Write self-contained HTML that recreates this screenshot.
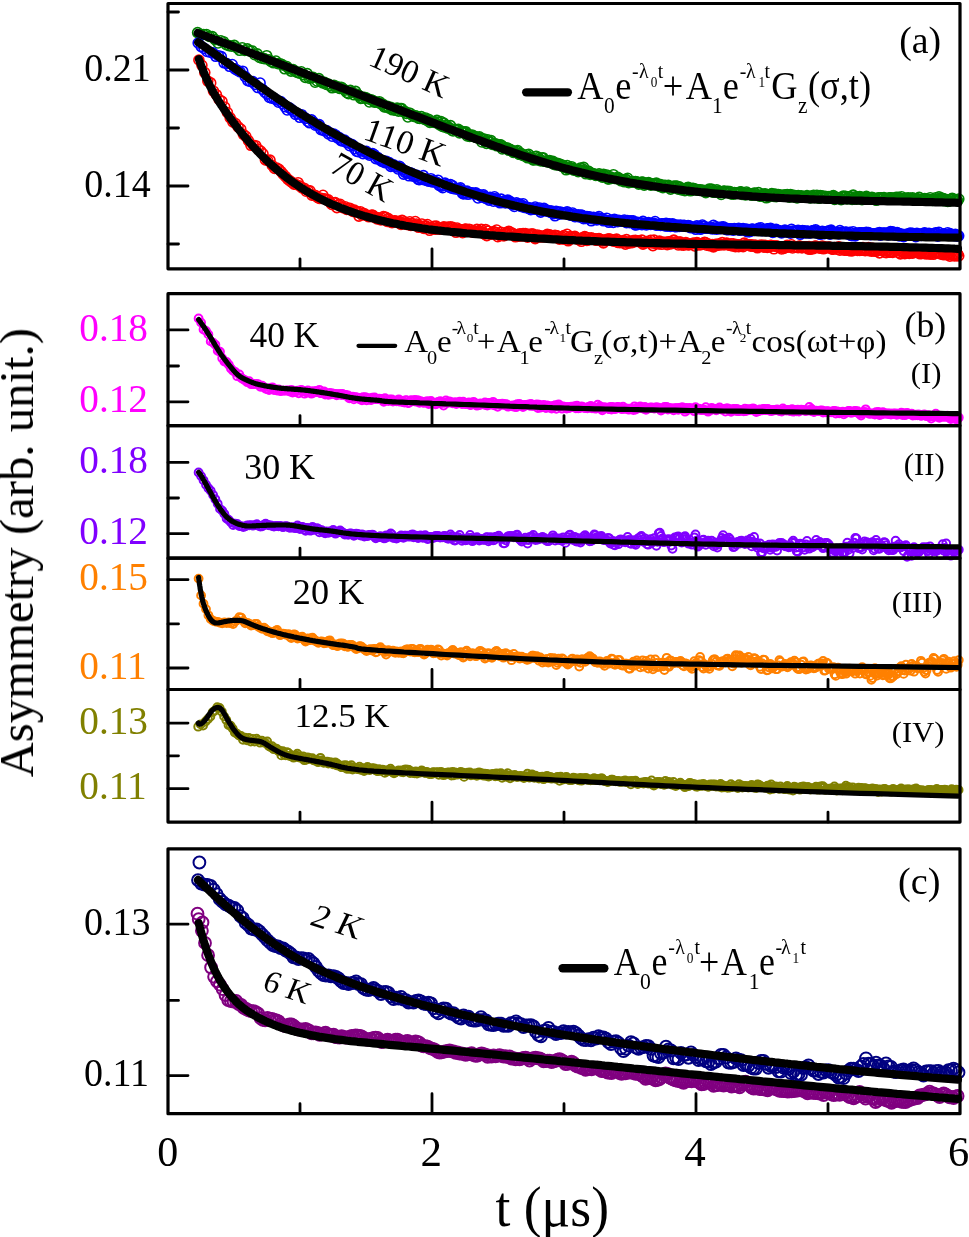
<!DOCTYPE html><html><head><meta charset="utf-8"><style>html,body{margin:0;padding:0;background:#fff;overflow:hidden}svg{display:block}text{font-family:"Liberation Serif",serif}</style></head><body>
<svg width="969" height="1237" viewBox="0 0 969 1237">
<rect width="100%" height="100%" fill="#fff"/>
<g fill="none" stroke="#008000" stroke-width="1.6"><circle cx="197.6" cy="32.6" r="5.0"/><circle cx="200.6" cy="34.3" r="5.0"/><circle cx="203.6" cy="34.5" r="5.0"/><circle cx="206.5" cy="34.5" r="5.0"/><circle cx="209.4" cy="36.4" r="5.0"/><circle cx="212.3" cy="36.6" r="5.0"/><circle cx="215.1" cy="39.6" r="5.0"/><circle cx="218.0" cy="43.0" r="5.0"/><circle cx="220.8" cy="40.8" r="5.0"/><circle cx="223.5" cy="41.7" r="5.0"/><circle cx="226.3" cy="44.7" r="5.0"/><circle cx="229.0" cy="45.6" r="5.0"/><circle cx="231.7" cy="46.2" r="5.0"/><circle cx="234.3" cy="45.4" r="5.0"/><circle cx="237.0" cy="48.0" r="5.0"/><circle cx="239.6" cy="50.3" r="5.0"/><circle cx="242.2" cy="47.8" r="5.0"/><circle cx="244.7" cy="50.4" r="5.0"/><circle cx="247.3" cy="48.9" r="5.0"/><circle cx="249.8" cy="50.9" r="5.0"/><circle cx="252.3" cy="51.0" r="5.0"/><circle cx="254.7" cy="54.7" r="5.0"/><circle cx="257.2" cy="53.9" r="5.0"/><circle cx="259.6" cy="57.5" r="5.0"/><circle cx="262.0" cy="58.2" r="5.0"/><circle cx="264.3" cy="58.6" r="5.0"/><circle cx="266.7" cy="55.7" r="5.0"/><circle cx="269.0" cy="59.9" r="5.0"/><circle cx="271.3" cy="61.6" r="5.0"/><circle cx="273.6" cy="62.8" r="5.0"/><circle cx="275.9" cy="61.0" r="5.0"/><circle cx="278.1" cy="63.6" r="5.0"/><circle cx="280.3" cy="63.7" r="5.0"/><circle cx="282.5" cy="64.9" r="5.0"/><circle cx="284.7" cy="68.8" r="5.0"/><circle cx="286.8" cy="66.6" r="5.0"/><circle cx="288.9" cy="68.7" r="5.0"/><circle cx="291.0" cy="71.1" r="5.0"/><circle cx="293.1" cy="69.6" r="5.0"/><circle cx="295.2" cy="71.2" r="5.0"/><circle cx="297.2" cy="72.3" r="5.0"/><circle cx="299.3" cy="73.1" r="5.0"/><circle cx="301.3" cy="71.8" r="5.0"/><circle cx="303.3" cy="74.6" r="5.0"/><circle cx="305.3" cy="77.4" r="5.0"/><circle cx="307.2" cy="73.6" r="5.0"/><circle cx="309.2" cy="78.2" r="5.0"/><circle cx="311.2" cy="77.7" r="5.0"/><circle cx="313.1" cy="77.3" r="5.0"/><circle cx="315.1" cy="82.2" r="5.0"/><circle cx="317.0" cy="81.0" r="5.0"/><circle cx="318.9" cy="78.6" r="5.0"/><circle cx="320.8" cy="81.3" r="5.0"/><circle cx="322.7" cy="82.9" r="5.0"/><circle cx="324.6" cy="82.4" r="5.0"/><circle cx="326.5" cy="84.5" r="5.0"/><circle cx="328.4" cy="84.0" r="5.0"/><circle cx="330.3" cy="85.9" r="5.0"/><circle cx="332.1" cy="87.8" r="5.0"/><circle cx="334.0" cy="85.2" r="5.0"/><circle cx="335.8" cy="87.3" r="5.0"/><circle cx="337.7" cy="86.9" r="5.0"/><circle cx="339.5" cy="88.5" r="5.0"/><circle cx="341.3" cy="87.2" r="5.0"/><circle cx="343.1" cy="88.8" r="5.0"/><circle cx="344.9" cy="90.1" r="5.0"/><circle cx="346.7" cy="92.5" r="5.0"/><circle cx="348.5" cy="93.6" r="5.0"/><circle cx="350.3" cy="90.4" r="5.0"/><circle cx="352.1" cy="91.9" r="5.0"/><circle cx="353.9" cy="94.8" r="5.0"/><circle cx="355.6" cy="91.4" r="5.0"/><circle cx="357.4" cy="94.4" r="5.0"/><circle cx="359.1" cy="95.6" r="5.0"/><circle cx="360.8" cy="98.4" r="5.0"/><circle cx="362.6" cy="98.2" r="5.0"/><circle cx="364.3" cy="97.2" r="5.0"/><circle cx="366.0" cy="97.8" r="5.0"/><circle cx="367.7" cy="98.7" r="5.0"/><circle cx="369.4" cy="102.0" r="5.0"/><circle cx="371.1" cy="99.7" r="5.0"/><circle cx="372.8" cy="100.5" r="5.0"/><circle cx="374.4" cy="102.1" r="5.0"/><circle cx="376.1" cy="102.0" r="5.0"/><circle cx="377.8" cy="102.5" r="5.0"/><circle cx="379.4" cy="101.7" r="5.0"/><circle cx="381.0" cy="104.0" r="5.0"/><circle cx="382.7" cy="104.0" r="5.0"/><circle cx="384.3" cy="107.0" r="5.0"/><circle cx="385.9" cy="106.9" r="5.0"/><circle cx="387.5" cy="106.4" r="5.0"/><circle cx="389.2" cy="108.1" r="5.0"/><circle cx="390.8" cy="107.2" r="5.0"/><circle cx="392.3" cy="109.8" r="5.0"/><circle cx="393.9" cy="108.8" r="5.0"/><circle cx="395.5" cy="110.3" r="5.0"/><circle cx="397.1" cy="108.1" r="5.0"/><circle cx="398.6" cy="111.1" r="5.0"/><circle cx="400.2" cy="108.6" r="5.0"/><circle cx="401.7" cy="108.6" r="5.0"/><circle cx="403.3" cy="111.7" r="5.0"/><circle cx="404.8" cy="111.4" r="5.0"/><circle cx="406.3" cy="113.4" r="5.0"/><circle cx="407.9" cy="117.0" r="5.0"/><circle cx="409.4" cy="113.0" r="5.0"/><circle cx="410.9" cy="113.8" r="5.0"/><circle cx="412.4" cy="115.5" r="5.0"/><circle cx="413.9" cy="116.4" r="5.0"/><circle cx="415.4" cy="115.9" r="5.0"/><circle cx="416.9" cy="116.4" r="5.0"/><circle cx="418.3" cy="118.2" r="5.0"/><circle cx="419.8" cy="118.4" r="5.0"/><circle cx="421.3" cy="116.6" r="5.0"/><circle cx="422.7" cy="118.5" r="5.0"/><circle cx="424.2" cy="119.1" r="5.0"/><circle cx="425.6" cy="118.0" r="5.0"/><circle cx="427.0" cy="120.4" r="5.0"/><circle cx="428.5" cy="119.2" r="5.0"/><circle cx="429.9" cy="122.4" r="5.0"/><circle cx="431.3" cy="121.7" r="5.0"/><circle cx="432.7" cy="122.1" r="5.0"/><circle cx="434.1" cy="121.5" r="5.0"/><circle cx="435.5" cy="122.7" r="5.0"/><circle cx="436.9" cy="120.4" r="5.0"/><circle cx="438.3" cy="122.1" r="5.0"/><circle cx="439.7" cy="124.8" r="5.0"/><circle cx="441.0" cy="121.6" r="5.0"/><circle cx="442.4" cy="126.4" r="5.0"/><circle cx="443.8" cy="123.1" r="5.0"/><circle cx="445.1" cy="127.2" r="5.0"/><circle cx="446.5" cy="125.3" r="5.0"/><circle cx="447.8" cy="128.1" r="5.0"/><circle cx="449.1" cy="127.6" r="5.0"/><circle cx="450.5" cy="125.6" r="5.0"/><circle cx="451.8" cy="130.2" r="5.0"/><circle cx="453.1" cy="131.0" r="5.0"/><circle cx="454.4" cy="129.3" r="5.0"/><circle cx="455.7" cy="129.5" r="5.0"/><circle cx="457.0" cy="130.1" r="5.0"/><circle cx="458.3" cy="129.4" r="5.0"/><circle cx="459.6" cy="132.9" r="5.0"/><circle cx="460.9" cy="131.0" r="5.0"/><circle cx="462.2" cy="132.2" r="5.0"/><circle cx="463.4" cy="131.7" r="5.0"/><circle cx="464.7" cy="132.4" r="5.0"/><circle cx="466.0" cy="131.9" r="5.0"/><circle cx="467.2" cy="136.0" r="5.0"/><circle cx="468.5" cy="134.5" r="5.0"/><circle cx="469.7" cy="136.5" r="5.0"/><circle cx="470.9" cy="135.6" r="5.0"/><circle cx="472.2" cy="135.1" r="5.0"/><circle cx="473.4" cy="136.1" r="5.0"/><circle cx="474.6" cy="136.2" r="5.0"/><circle cx="475.8" cy="137.5" r="5.0"/><circle cx="477.0" cy="137.4" r="5.0"/><circle cx="478.2" cy="137.9" r="5.0"/><circle cx="479.4" cy="136.8" r="5.0"/><circle cx="480.6" cy="138.1" r="5.0"/><circle cx="481.8" cy="142.0" r="5.0"/><circle cx="483.0" cy="139.2" r="5.0"/><circle cx="484.2" cy="139.1" r="5.0"/><circle cx="485.3" cy="141.5" r="5.0"/><circle cx="486.5" cy="143.4" r="5.0"/><circle cx="487.7" cy="139.8" r="5.0"/><circle cx="488.8" cy="142.0" r="5.0"/><circle cx="490.0" cy="141.8" r="5.0"/><circle cx="491.1" cy="140.6" r="5.0"/><circle cx="492.3" cy="144.5" r="5.0"/><circle cx="493.4" cy="143.9" r="5.0"/><circle cx="494.5" cy="144.4" r="5.0"/><circle cx="495.6" cy="143.7" r="5.0"/><circle cx="496.8" cy="145.8" r="5.0"/><circle cx="497.9" cy="144.8" r="5.0"/><circle cx="499.0" cy="145.7" r="5.0"/><circle cx="500.1" cy="144.8" r="5.0"/><circle cx="501.2" cy="145.0" r="5.0"/><circle cx="502.3" cy="149.0" r="5.0"/><circle cx="503.4" cy="146.8" r="5.0"/><circle cx="504.5" cy="148.3" r="5.0"/><circle cx="505.6" cy="148.2" r="5.0"/><circle cx="506.7" cy="148.0" r="5.0"/><circle cx="507.8" cy="148.3" r="5.0"/><circle cx="508.9" cy="150.3" r="5.0"/><circle cx="510.0" cy="149.4" r="5.0"/><circle cx="511.1" cy="150.0" r="5.0"/><circle cx="512.2" cy="150.6" r="5.0"/><circle cx="513.3" cy="152.5" r="5.0"/><circle cx="514.4" cy="152.2" r="5.0"/><circle cx="515.5" cy="152.2" r="5.0"/><circle cx="516.6" cy="151.3" r="5.0"/><circle cx="517.7" cy="150.5" r="5.0"/><circle cx="518.8" cy="154.1" r="5.0"/><circle cx="519.9" cy="154.5" r="5.0"/><circle cx="521.0" cy="153.3" r="5.0"/><circle cx="522.1" cy="154.6" r="5.0"/><circle cx="523.2" cy="155.3" r="5.0"/><circle cx="524.3" cy="155.8" r="5.0"/><circle cx="525.4" cy="156.2" r="5.0"/><circle cx="526.5" cy="154.7" r="5.0"/><circle cx="527.6" cy="157.8" r="5.0"/><circle cx="528.7" cy="154.4" r="5.0"/><circle cx="529.8" cy="157.6" r="5.0"/><circle cx="530.9" cy="157.4" r="5.0"/><circle cx="532.0" cy="158.3" r="5.0"/><circle cx="533.1" cy="160.0" r="5.0"/><circle cx="534.2" cy="159.8" r="5.0"/><circle cx="535.3" cy="156.6" r="5.0"/><circle cx="536.4" cy="156.2" r="5.0"/><circle cx="537.5" cy="160.0" r="5.0"/><circle cx="538.6" cy="157.8" r="5.0"/><circle cx="539.7" cy="159.5" r="5.0"/><circle cx="540.8" cy="161.0" r="5.0"/><circle cx="541.9" cy="158.0" r="5.0"/><circle cx="543.0" cy="157.7" r="5.0"/><circle cx="544.1" cy="161.2" r="5.0"/><circle cx="545.2" cy="161.3" r="5.0"/><circle cx="546.3" cy="161.2" r="5.0"/><circle cx="547.4" cy="161.9" r="5.0"/><circle cx="548.5" cy="161.1" r="5.0"/><circle cx="549.6" cy="160.5" r="5.0"/><circle cx="550.7" cy="162.6" r="5.0"/><circle cx="551.8" cy="161.9" r="5.0"/><circle cx="552.9" cy="161.3" r="5.0"/><circle cx="554.0" cy="164.5" r="5.0"/><circle cx="555.1" cy="164.0" r="5.0"/><circle cx="556.2" cy="165.0" r="5.0"/><circle cx="557.3" cy="163.4" r="5.0"/><circle cx="558.4" cy="164.2" r="5.0"/><circle cx="559.5" cy="164.1" r="5.0"/><circle cx="560.6" cy="164.5" r="5.0"/><circle cx="561.7" cy="166.2" r="5.0"/><circle cx="562.8" cy="165.2" r="5.0"/><circle cx="563.9" cy="167.0" r="5.0"/><circle cx="565.0" cy="167.3" r="5.0"/><circle cx="566.1" cy="169.8" r="5.0"/><circle cx="567.2" cy="165.6" r="5.0"/><circle cx="568.3" cy="168.9" r="5.0"/><circle cx="569.4" cy="167.9" r="5.0"/><circle cx="570.5" cy="168.3" r="5.0"/><circle cx="571.6" cy="166.7" r="5.0"/><circle cx="572.7" cy="168.3" r="5.0"/><circle cx="573.8" cy="170.1" r="5.0"/><circle cx="574.9" cy="169.3" r="5.0"/><circle cx="576.0" cy="169.8" r="5.0"/><circle cx="577.1" cy="169.6" r="5.0"/><circle cx="578.2" cy="171.7" r="5.0"/><circle cx="579.3" cy="170.5" r="5.0"/><circle cx="580.4" cy="168.0" r="5.0"/><circle cx="581.5" cy="170.2" r="5.0"/><circle cx="582.6" cy="168.8" r="5.0"/><circle cx="583.7" cy="167.4" r="5.0"/><circle cx="584.8" cy="171.2" r="5.0"/><circle cx="585.9" cy="173.8" r="5.0"/><circle cx="587.0" cy="172.4" r="5.0"/><circle cx="588.1" cy="171.1" r="5.0"/><circle cx="589.2" cy="171.7" r="5.0"/><circle cx="590.3" cy="174.5" r="5.0"/><circle cx="591.4" cy="173.6" r="5.0"/><circle cx="592.5" cy="173.7" r="5.0"/><circle cx="593.6" cy="173.8" r="5.0"/><circle cx="594.7" cy="174.2" r="5.0"/><circle cx="595.8" cy="175.4" r="5.0"/><circle cx="596.9" cy="175.3" r="5.0"/><circle cx="598.0" cy="175.1" r="5.0"/><circle cx="599.1" cy="173.8" r="5.0"/><circle cx="600.2" cy="175.9" r="5.0"/><circle cx="601.3" cy="174.7" r="5.0"/><circle cx="602.4" cy="177.1" r="5.0"/><circle cx="603.5" cy="174.4" r="5.0"/><circle cx="604.6" cy="176.0" r="5.0"/><circle cx="605.7" cy="176.4" r="5.0"/><circle cx="606.8" cy="175.0" r="5.0"/><circle cx="607.9" cy="179.0" r="5.0"/><circle cx="609.0" cy="178.9" r="5.0"/><circle cx="610.1" cy="176.7" r="5.0"/><circle cx="611.2" cy="178.4" r="5.0"/><circle cx="612.3" cy="178.2" r="5.0"/><circle cx="613.4" cy="174.7" r="5.0"/><circle cx="614.5" cy="178.4" r="5.0"/><circle cx="615.6" cy="178.3" r="5.0"/><circle cx="616.7" cy="178.6" r="5.0"/><circle cx="617.8" cy="177.4" r="5.0"/><circle cx="618.9" cy="178.6" r="5.0"/><circle cx="620.0" cy="178.9" r="5.0"/><circle cx="621.1" cy="180.8" r="5.0"/><circle cx="622.2" cy="179.9" r="5.0"/><circle cx="623.3" cy="179.7" r="5.0"/><circle cx="624.4" cy="181.8" r="5.0"/><circle cx="625.5" cy="179.4" r="5.0"/><circle cx="626.6" cy="179.8" r="5.0"/><circle cx="627.7" cy="178.3" r="5.0"/><circle cx="628.8" cy="182.6" r="5.0"/><circle cx="629.9" cy="182.0" r="5.0"/><circle cx="631.0" cy="182.2" r="5.0"/><circle cx="632.1" cy="182.0" r="5.0"/><circle cx="633.2" cy="181.6" r="5.0"/><circle cx="634.3" cy="181.9" r="5.0"/><circle cx="635.4" cy="181.5" r="5.0"/><circle cx="636.5" cy="181.7" r="5.0"/><circle cx="637.6" cy="182.2" r="5.0"/><circle cx="638.7" cy="184.1" r="5.0"/><circle cx="639.8" cy="183.1" r="5.0"/><circle cx="640.9" cy="182.6" r="5.0"/><circle cx="642.0" cy="182.1" r="5.0"/><circle cx="643.1" cy="182.2" r="5.0"/><circle cx="644.2" cy="185.1" r="5.0"/><circle cx="645.3" cy="183.9" r="5.0"/><circle cx="646.4" cy="183.6" r="5.0"/><circle cx="647.5" cy="183.3" r="5.0"/><circle cx="648.6" cy="182.5" r="5.0"/><circle cx="649.7" cy="183.9" r="5.0"/><circle cx="650.8" cy="185.2" r="5.0"/><circle cx="651.9" cy="183.8" r="5.0"/><circle cx="653.0" cy="184.2" r="5.0"/><circle cx="654.1" cy="184.4" r="5.0"/><circle cx="655.2" cy="184.9" r="5.0"/><circle cx="656.3" cy="183.1" r="5.0"/><circle cx="657.4" cy="184.8" r="5.0"/><circle cx="658.5" cy="184.2" r="5.0"/><circle cx="659.6" cy="186.4" r="5.0"/><circle cx="660.7" cy="184.6" r="5.0"/><circle cx="661.8" cy="186.3" r="5.0"/><circle cx="662.9" cy="187.6" r="5.0"/><circle cx="664.0" cy="185.6" r="5.0"/><circle cx="665.1" cy="185.4" r="5.0"/><circle cx="666.2" cy="186.5" r="5.0"/><circle cx="667.3" cy="186.4" r="5.0"/><circle cx="668.4" cy="185.4" r="5.0"/><circle cx="669.5" cy="187.2" r="5.0"/><circle cx="670.6" cy="189.1" r="5.0"/><circle cx="671.7" cy="186.7" r="5.0"/><circle cx="672.8" cy="186.9" r="5.0"/><circle cx="673.9" cy="186.0" r="5.0"/><circle cx="675.0" cy="187.7" r="5.0"/><circle cx="676.1" cy="186.1" r="5.0"/><circle cx="677.2" cy="186.4" r="5.0"/><circle cx="678.3" cy="189.2" r="5.0"/><circle cx="679.4" cy="186.9" r="5.0"/><circle cx="680.5" cy="189.2" r="5.0"/><circle cx="681.6" cy="189.9" r="5.0"/><circle cx="682.7" cy="188.6" r="5.0"/><circle cx="683.8" cy="189.0" r="5.0"/><circle cx="684.9" cy="190.7" r="5.0"/><circle cx="686.0" cy="188.4" r="5.0"/><circle cx="687.1" cy="188.1" r="5.0"/><circle cx="688.2" cy="187.4" r="5.0"/><circle cx="689.3" cy="189.0" r="5.0"/><circle cx="690.4" cy="190.8" r="5.0"/><circle cx="691.5" cy="190.3" r="5.0"/><circle cx="692.6" cy="188.3" r="5.0"/><circle cx="693.7" cy="188.5" r="5.0"/><circle cx="694.8" cy="189.0" r="5.0"/><circle cx="695.9" cy="190.0" r="5.0"/><circle cx="697.0" cy="189.6" r="5.0"/><circle cx="698.1" cy="190.1" r="5.0"/><circle cx="699.2" cy="190.3" r="5.0"/><circle cx="700.3" cy="189.8" r="5.0"/><circle cx="701.4" cy="190.2" r="5.0"/><circle cx="702.5" cy="190.6" r="5.0"/><circle cx="703.6" cy="190.4" r="5.0"/><circle cx="704.7" cy="191.1" r="5.0"/><circle cx="705.8" cy="192.7" r="5.0"/><circle cx="706.9" cy="191.4" r="5.0"/><circle cx="708.0" cy="190.9" r="5.0"/><circle cx="709.1" cy="189.1" r="5.0"/><circle cx="710.2" cy="191.5" r="5.0"/><circle cx="711.3" cy="189.0" r="5.0"/><circle cx="712.4" cy="189.7" r="5.0"/><circle cx="713.5" cy="192.3" r="5.0"/><circle cx="714.6" cy="192.2" r="5.0"/><circle cx="715.7" cy="191.4" r="5.0"/><circle cx="716.8" cy="189.8" r="5.0"/><circle cx="717.9" cy="191.3" r="5.0"/><circle cx="719.0" cy="191.1" r="5.0"/><circle cx="720.1" cy="192.6" r="5.0"/><circle cx="721.2" cy="194.5" r="5.0"/><circle cx="722.3" cy="192.3" r="5.0"/><circle cx="723.4" cy="191.3" r="5.0"/><circle cx="724.5" cy="191.0" r="5.0"/><circle cx="725.6" cy="192.3" r="5.0"/><circle cx="726.7" cy="192.3" r="5.0"/><circle cx="727.8" cy="191.3" r="5.0"/><circle cx="728.9" cy="192.8" r="5.0"/><circle cx="730.0" cy="191.5" r="5.0"/><circle cx="731.1" cy="194.0" r="5.0"/><circle cx="732.2" cy="194.0" r="5.0"/><circle cx="733.3" cy="194.1" r="5.0"/><circle cx="734.4" cy="192.5" r="5.0"/><circle cx="735.5" cy="193.7" r="5.0"/><circle cx="736.6" cy="193.1" r="5.0"/><circle cx="737.7" cy="192.9" r="5.0"/><circle cx="738.8" cy="193.0" r="5.0"/><circle cx="739.9" cy="192.0" r="5.0"/><circle cx="741.0" cy="191.9" r="5.0"/><circle cx="742.1" cy="194.4" r="5.0"/><circle cx="743.2" cy="193.4" r="5.0"/><circle cx="744.3" cy="194.0" r="5.0"/><circle cx="745.4" cy="194.9" r="5.0"/><circle cx="746.5" cy="192.0" r="5.0"/><circle cx="747.6" cy="193.1" r="5.0"/><circle cx="748.7" cy="194.2" r="5.0"/><circle cx="749.8" cy="194.5" r="5.0"/><circle cx="750.9" cy="193.7" r="5.0"/><circle cx="752.0" cy="195.3" r="5.0"/><circle cx="753.1" cy="194.5" r="5.0"/><circle cx="754.2" cy="193.0" r="5.0"/><circle cx="755.3" cy="193.4" r="5.0"/><circle cx="756.4" cy="195.3" r="5.0"/><circle cx="757.5" cy="195.0" r="5.0"/><circle cx="758.6" cy="192.6" r="5.0"/><circle cx="759.7" cy="196.1" r="5.0"/><circle cx="760.8" cy="195.4" r="5.0"/><circle cx="761.9" cy="196.2" r="5.0"/><circle cx="763.0" cy="194.4" r="5.0"/><circle cx="764.1" cy="194.6" r="5.0"/><circle cx="765.2" cy="193.8" r="5.0"/><circle cx="766.3" cy="197.8" r="5.0"/><circle cx="767.4" cy="194.9" r="5.0"/><circle cx="768.5" cy="196.9" r="5.0"/><circle cx="769.6" cy="194.5" r="5.0"/><circle cx="770.7" cy="195.4" r="5.0"/><circle cx="771.8" cy="193.5" r="5.0"/><circle cx="772.9" cy="195.0" r="5.0"/><circle cx="774.0" cy="196.5" r="5.0"/><circle cx="775.1" cy="194.1" r="5.0"/><circle cx="776.2" cy="196.7" r="5.0"/><circle cx="777.3" cy="195.9" r="5.0"/><circle cx="778.4" cy="194.5" r="5.0"/><circle cx="779.5" cy="195.1" r="5.0"/><circle cx="780.6" cy="195.2" r="5.0"/><circle cx="781.7" cy="195.7" r="5.0"/><circle cx="782.8" cy="195.3" r="5.0"/><circle cx="783.9" cy="195.0" r="5.0"/><circle cx="785.0" cy="195.6" r="5.0"/><circle cx="786.1" cy="194.9" r="5.0"/><circle cx="787.2" cy="194.6" r="5.0"/><circle cx="788.3" cy="196.0" r="5.0"/><circle cx="789.4" cy="197.1" r="5.0"/><circle cx="790.5" cy="194.5" r="5.0"/><circle cx="791.6" cy="196.2" r="5.0"/><circle cx="792.7" cy="195.6" r="5.0"/><circle cx="793.8" cy="195.3" r="5.0"/><circle cx="794.9" cy="197.2" r="5.0"/><circle cx="796.0" cy="195.8" r="5.0"/><circle cx="797.1" cy="198.0" r="5.0"/><circle cx="798.2" cy="195.6" r="5.0"/><circle cx="799.3" cy="196.9" r="5.0"/><circle cx="800.4" cy="196.3" r="5.0"/><circle cx="801.5" cy="195.8" r="5.0"/><circle cx="802.6" cy="197.2" r="5.0"/><circle cx="803.7" cy="196.5" r="5.0"/><circle cx="804.8" cy="197.3" r="5.0"/><circle cx="805.9" cy="196.7" r="5.0"/><circle cx="807.0" cy="195.6" r="5.0"/><circle cx="808.1" cy="196.7" r="5.0"/><circle cx="809.2" cy="196.9" r="5.0"/><circle cx="810.3" cy="197.9" r="5.0"/><circle cx="811.4" cy="196.0" r="5.0"/><circle cx="812.5" cy="196.9" r="5.0"/><circle cx="813.6" cy="195.2" r="5.0"/><circle cx="814.7" cy="197.7" r="5.0"/><circle cx="815.8" cy="195.9" r="5.0"/><circle cx="816.9" cy="195.2" r="5.0"/><circle cx="818.0" cy="197.1" r="5.0"/><circle cx="819.1" cy="198.3" r="5.0"/><circle cx="820.2" cy="195.6" r="5.0"/><circle cx="821.3" cy="196.1" r="5.0"/><circle cx="822.4" cy="196.5" r="5.0"/><circle cx="823.5" cy="196.1" r="5.0"/><circle cx="824.6" cy="197.7" r="5.0"/><circle cx="825.7" cy="196.5" r="5.0"/><circle cx="826.8" cy="196.6" r="5.0"/><circle cx="827.9" cy="198.0" r="5.0"/><circle cx="829.0" cy="196.6" r="5.0"/><circle cx="830.1" cy="197.9" r="5.0"/><circle cx="831.2" cy="196.5" r="5.0"/><circle cx="832.3" cy="196.2" r="5.0"/><circle cx="833.4" cy="195.6" r="5.0"/><circle cx="834.5" cy="199.5" r="5.0"/><circle cx="835.6" cy="197.3" r="5.0"/><circle cx="836.7" cy="197.9" r="5.0"/><circle cx="837.8" cy="197.6" r="5.0"/><circle cx="838.9" cy="197.8" r="5.0"/><circle cx="840.0" cy="197.8" r="5.0"/><circle cx="841.1" cy="199.7" r="5.0"/><circle cx="842.2" cy="196.7" r="5.0"/><circle cx="843.3" cy="196.1" r="5.0"/><circle cx="844.4" cy="196.7" r="5.0"/><circle cx="845.5" cy="196.4" r="5.0"/><circle cx="846.6" cy="198.6" r="5.0"/><circle cx="847.7" cy="198.7" r="5.0"/><circle cx="848.8" cy="196.9" r="5.0"/><circle cx="849.9" cy="196.5" r="5.0"/><circle cx="851.0" cy="197.6" r="5.0"/><circle cx="852.1" cy="199.4" r="5.0"/><circle cx="853.2" cy="195.1" r="5.0"/><circle cx="854.3" cy="198.6" r="5.0"/><circle cx="855.4" cy="196.9" r="5.0"/><circle cx="856.5" cy="199.1" r="5.0"/><circle cx="857.6" cy="197.0" r="5.0"/><circle cx="858.7" cy="197.8" r="5.0"/><circle cx="859.8" cy="196.6" r="5.0"/><circle cx="860.9" cy="197.1" r="5.0"/><circle cx="862.0" cy="199.6" r="5.0"/><circle cx="863.1" cy="199.0" r="5.0"/><circle cx="864.2" cy="197.8" r="5.0"/><circle cx="865.3" cy="197.3" r="5.0"/><circle cx="866.4" cy="196.3" r="5.0"/><circle cx="867.5" cy="197.8" r="5.0"/><circle cx="868.6" cy="198.2" r="5.0"/><circle cx="869.7" cy="198.2" r="5.0"/><circle cx="870.8" cy="198.2" r="5.0"/><circle cx="871.9" cy="197.2" r="5.0"/><circle cx="873.0" cy="198.3" r="5.0"/><circle cx="874.1" cy="198.3" r="5.0"/><circle cx="875.2" cy="199.7" r="5.0"/><circle cx="876.3" cy="200.3" r="5.0"/><circle cx="877.4" cy="198.3" r="5.0"/><circle cx="878.5" cy="197.7" r="5.0"/><circle cx="879.6" cy="198.4" r="5.0"/><circle cx="880.7" cy="197.9" r="5.0"/><circle cx="881.8" cy="197.7" r="5.0"/><circle cx="882.9" cy="198.5" r="5.0"/><circle cx="884.0" cy="197.5" r="5.0"/><circle cx="885.1" cy="199.2" r="5.0"/><circle cx="886.2" cy="198.5" r="5.0"/><circle cx="887.3" cy="198.8" r="5.0"/><circle cx="888.4" cy="198.4" r="5.0"/><circle cx="889.5" cy="197.9" r="5.0"/><circle cx="890.6" cy="197.7" r="5.0"/><circle cx="891.7" cy="198.4" r="5.0"/><circle cx="892.8" cy="198.1" r="5.0"/><circle cx="893.9" cy="198.9" r="5.0"/><circle cx="895.0" cy="198.7" r="5.0"/><circle cx="896.1" cy="197.3" r="5.0"/><circle cx="897.2" cy="198.8" r="5.0"/><circle cx="898.3" cy="197.4" r="5.0"/><circle cx="899.4" cy="198.1" r="5.0"/><circle cx="900.5" cy="198.5" r="5.0"/><circle cx="901.6" cy="196.7" r="5.0"/><circle cx="902.7" cy="198.9" r="5.0"/><circle cx="903.8" cy="199.0" r="5.0"/><circle cx="904.9" cy="198.7" r="5.0"/><circle cx="906.0" cy="198.4" r="5.0"/><circle cx="907.1" cy="198.5" r="5.0"/><circle cx="908.2" cy="197.9" r="5.0"/><circle cx="909.3" cy="198.7" r="5.0"/><circle cx="910.4" cy="198.4" r="5.0"/><circle cx="911.5" cy="199.1" r="5.0"/><circle cx="912.6" cy="197.8" r="5.0"/><circle cx="913.7" cy="199.2" r="5.0"/><circle cx="914.8" cy="199.2" r="5.0"/><circle cx="915.9" cy="198.9" r="5.0"/><circle cx="917.0" cy="198.6" r="5.0"/><circle cx="918.1" cy="199.6" r="5.0"/><circle cx="919.2" cy="197.4" r="5.0"/><circle cx="920.3" cy="199.6" r="5.0"/><circle cx="921.4" cy="199.4" r="5.0"/><circle cx="922.5" cy="199.4" r="5.0"/><circle cx="923.6" cy="199.5" r="5.0"/><circle cx="924.7" cy="198.5" r="5.0"/><circle cx="925.8" cy="198.9" r="5.0"/><circle cx="926.9" cy="199.9" r="5.0"/><circle cx="928.0" cy="199.7" r="5.0"/><circle cx="929.1" cy="199.5" r="5.0"/><circle cx="930.2" cy="197.7" r="5.0"/><circle cx="931.3" cy="199.8" r="5.0"/><circle cx="932.4" cy="200.5" r="5.0"/><circle cx="933.5" cy="200.3" r="5.0"/><circle cx="934.6" cy="199.6" r="5.0"/><circle cx="935.7" cy="197.8" r="5.0"/><circle cx="936.8" cy="200.3" r="5.0"/><circle cx="937.9" cy="199.3" r="5.0"/><circle cx="939.0" cy="196.9" r="5.0"/><circle cx="940.1" cy="199.8" r="5.0"/><circle cx="941.2" cy="198.0" r="5.0"/><circle cx="942.3" cy="198.2" r="5.0"/><circle cx="943.4" cy="198.9" r="5.0"/><circle cx="944.5" cy="200.8" r="5.0"/><circle cx="945.6" cy="199.2" r="5.0"/><circle cx="946.7" cy="199.8" r="5.0"/><circle cx="947.8" cy="201.4" r="5.0"/><circle cx="948.9" cy="201.2" r="5.0"/><circle cx="950.0" cy="199.5" r="5.0"/><circle cx="951.1" cy="199.4" r="5.0"/><circle cx="952.2" cy="198.4" r="5.0"/><circle cx="953.3" cy="199.0" r="5.0"/><circle cx="954.4" cy="200.2" r="5.0"/><circle cx="955.5" cy="200.2" r="5.0"/><circle cx="956.6" cy="199.9" r="5.0"/><circle cx="957.7" cy="200.8" r="5.0"/><circle cx="958.8" cy="199.0" r="5.0"/></g><g fill="none" stroke="#0000FF" stroke-width="1.6"><circle cx="198.2" cy="43.0" r="5.0"/><circle cx="201.2" cy="46.6" r="5.0"/><circle cx="204.1" cy="48.4" r="5.0"/><circle cx="207.1" cy="51.5" r="5.0"/><circle cx="210.0" cy="52.2" r="5.0"/><circle cx="212.9" cy="52.9" r="5.0"/><circle cx="215.7" cy="56.3" r="5.0"/><circle cx="218.5" cy="55.7" r="5.0"/><circle cx="221.3" cy="56.6" r="5.0"/><circle cx="224.1" cy="62.8" r="5.0"/><circle cx="226.8" cy="63.6" r="5.0"/><circle cx="229.5" cy="66.3" r="5.0"/><circle cx="232.2" cy="64.5" r="5.0"/><circle cx="234.9" cy="68.9" r="5.0"/><circle cx="237.5" cy="70.4" r="5.0"/><circle cx="240.1" cy="71.8" r="5.0"/><circle cx="242.7" cy="71.2" r="5.0"/><circle cx="245.2" cy="76.6" r="5.0"/><circle cx="247.8" cy="80.6" r="5.0"/><circle cx="250.3" cy="81.5" r="5.0"/><circle cx="252.8" cy="81.6" r="5.0"/><circle cx="255.2" cy="84.4" r="5.0"/><circle cx="257.7" cy="87.5" r="5.0"/><circle cx="260.1" cy="83.0" r="5.0"/><circle cx="262.5" cy="89.4" r="5.0"/><circle cx="264.8" cy="92.2" r="5.0"/><circle cx="267.2" cy="94.1" r="5.0"/><circle cx="269.5" cy="97.5" r="5.0"/><circle cx="271.8" cy="98.1" r="5.0"/><circle cx="274.1" cy="98.3" r="5.0"/><circle cx="276.3" cy="99.8" r="5.0"/><circle cx="278.5" cy="102.2" r="5.0"/><circle cx="280.7" cy="101.5" r="5.0"/><circle cx="282.9" cy="103.8" r="5.0"/><circle cx="285.1" cy="106.8" r="5.0"/><circle cx="287.2" cy="110.0" r="5.0"/><circle cx="289.4" cy="107.9" r="5.0"/><circle cx="291.5" cy="109.5" r="5.0"/><circle cx="293.5" cy="111.3" r="5.0"/><circle cx="295.6" cy="114.5" r="5.0"/><circle cx="297.7" cy="113.6" r="5.0"/><circle cx="299.7" cy="117.3" r="5.0"/><circle cx="301.7" cy="114.7" r="5.0"/><circle cx="303.7" cy="117.2" r="5.0"/><circle cx="305.6" cy="118.4" r="5.0"/><circle cx="307.6" cy="121.2" r="5.0"/><circle cx="309.6" cy="122.8" r="5.0"/><circle cx="311.5" cy="119.9" r="5.0"/><circle cx="313.4" cy="122.1" r="5.0"/><circle cx="315.4" cy="125.2" r="5.0"/><circle cx="317.3" cy="124.8" r="5.0"/><circle cx="319.2" cy="124.6" r="5.0"/><circle cx="321.0" cy="129.7" r="5.0"/><circle cx="322.9" cy="129.9" r="5.0"/><circle cx="324.8" cy="131.0" r="5.0"/><circle cx="326.6" cy="130.6" r="5.0"/><circle cx="328.5" cy="134.0" r="5.0"/><circle cx="330.3" cy="133.1" r="5.0"/><circle cx="332.1" cy="136.2" r="5.0"/><circle cx="333.9" cy="134.1" r="5.0"/><circle cx="335.7" cy="135.2" r="5.0"/><circle cx="337.5" cy="137.9" r="5.0"/><circle cx="339.3" cy="137.5" r="5.0"/><circle cx="341.1" cy="140.6" r="5.0"/><circle cx="342.8" cy="140.9" r="5.0"/><circle cx="344.5" cy="140.0" r="5.0"/><circle cx="346.3" cy="142.5" r="5.0"/><circle cx="348.0" cy="142.8" r="5.0"/><circle cx="349.7" cy="145.7" r="5.0"/><circle cx="351.4" cy="144.2" r="5.0"/><circle cx="353.1" cy="145.4" r="5.0"/><circle cx="354.8" cy="148.8" r="5.0"/><circle cx="356.5" cy="151.2" r="5.0"/><circle cx="358.1" cy="151.7" r="5.0"/><circle cx="359.8" cy="149.6" r="5.0"/><circle cx="361.4" cy="150.7" r="5.0"/><circle cx="363.0" cy="153.6" r="5.0"/><circle cx="364.7" cy="151.9" r="5.0"/><circle cx="366.3" cy="151.4" r="5.0"/><circle cx="367.9" cy="153.9" r="5.0"/><circle cx="369.5" cy="155.2" r="5.0"/><circle cx="371.1" cy="154.0" r="5.0"/><circle cx="372.6" cy="153.6" r="5.0"/><circle cx="374.2" cy="154.7" r="5.0"/><circle cx="375.8" cy="158.6" r="5.0"/><circle cx="377.3" cy="157.2" r="5.0"/><circle cx="378.8" cy="158.9" r="5.0"/><circle cx="380.4" cy="160.1" r="5.0"/><circle cx="381.9" cy="161.5" r="5.0"/><circle cx="383.4" cy="160.7" r="5.0"/><circle cx="384.9" cy="162.7" r="5.0"/><circle cx="386.4" cy="161.3" r="5.0"/><circle cx="387.9" cy="162.8" r="5.0"/><circle cx="389.3" cy="162.5" r="5.0"/><circle cx="390.8" cy="166.4" r="5.0"/><circle cx="392.3" cy="165.3" r="5.0"/><circle cx="393.7" cy="164.9" r="5.0"/><circle cx="395.1" cy="166.2" r="5.0"/><circle cx="396.6" cy="167.0" r="5.0"/><circle cx="398.0" cy="169.0" r="5.0"/><circle cx="399.4" cy="166.2" r="5.0"/><circle cx="400.8" cy="167.7" r="5.0"/><circle cx="402.2" cy="169.3" r="5.0"/><circle cx="403.6" cy="174.1" r="5.0"/><circle cx="405.0" cy="172.4" r="5.0"/><circle cx="406.3" cy="171.4" r="5.0"/><circle cx="407.7" cy="173.2" r="5.0"/><circle cx="409.0" cy="175.8" r="5.0"/><circle cx="410.4" cy="173.0" r="5.0"/><circle cx="411.7" cy="173.4" r="5.0"/><circle cx="413.1" cy="176.2" r="5.0"/><circle cx="414.4" cy="175.7" r="5.0"/><circle cx="415.7" cy="176.5" r="5.0"/><circle cx="417.0" cy="175.4" r="5.0"/><circle cx="418.3" cy="179.4" r="5.0"/><circle cx="419.6" cy="179.6" r="5.0"/><circle cx="420.9" cy="178.4" r="5.0"/><circle cx="422.1" cy="179.1" r="5.0"/><circle cx="423.4" cy="175.6" r="5.0"/><circle cx="424.7" cy="179.9" r="5.0"/><circle cx="425.9" cy="179.1" r="5.0"/><circle cx="427.2" cy="180.4" r="5.0"/><circle cx="428.4" cy="181.2" r="5.0"/><circle cx="429.6" cy="180.2" r="5.0"/><circle cx="430.9" cy="178.7" r="5.0"/><circle cx="432.1" cy="182.0" r="5.0"/><circle cx="433.3" cy="180.8" r="5.0"/><circle cx="434.5" cy="181.8" r="5.0"/><circle cx="435.7" cy="181.8" r="5.0"/><circle cx="436.9" cy="182.6" r="5.0"/><circle cx="438.0" cy="180.2" r="5.0"/><circle cx="439.2" cy="185.5" r="5.0"/><circle cx="440.4" cy="184.5" r="5.0"/><circle cx="441.5" cy="186.1" r="5.0"/><circle cx="442.7" cy="187.7" r="5.0"/><circle cx="443.8" cy="185.3" r="5.0"/><circle cx="445.0" cy="183.1" r="5.0"/><circle cx="446.1" cy="184.7" r="5.0"/><circle cx="447.2" cy="184.6" r="5.0"/><circle cx="448.3" cy="186.0" r="5.0"/><circle cx="449.4" cy="187.1" r="5.0"/><circle cx="450.5" cy="184.5" r="5.0"/><circle cx="451.6" cy="188.1" r="5.0"/><circle cx="452.7" cy="185.9" r="5.0"/><circle cx="453.8" cy="188.7" r="5.0"/><circle cx="454.9" cy="188.5" r="5.0"/><circle cx="456.0" cy="188.5" r="5.0"/><circle cx="457.1" cy="189.2" r="5.0"/><circle cx="458.2" cy="188.8" r="5.0"/><circle cx="459.3" cy="189.1" r="5.0"/><circle cx="460.4" cy="187.9" r="5.0"/><circle cx="461.5" cy="190.5" r="5.0"/><circle cx="462.6" cy="193.4" r="5.0"/><circle cx="463.7" cy="193.9" r="5.0"/><circle cx="464.8" cy="193.3" r="5.0"/><circle cx="465.9" cy="192.7" r="5.0"/><circle cx="467.0" cy="191.1" r="5.0"/><circle cx="468.1" cy="194.3" r="5.0"/><circle cx="469.2" cy="192.6" r="5.0"/><circle cx="470.3" cy="192.8" r="5.0"/><circle cx="471.4" cy="192.8" r="5.0"/><circle cx="472.5" cy="193.6" r="5.0"/><circle cx="473.6" cy="193.2" r="5.0"/><circle cx="474.7" cy="194.0" r="5.0"/><circle cx="475.8" cy="192.9" r="5.0"/><circle cx="476.9" cy="194.1" r="5.0"/><circle cx="478.0" cy="198.0" r="5.0"/><circle cx="479.1" cy="195.1" r="5.0"/><circle cx="480.2" cy="195.1" r="5.0"/><circle cx="481.3" cy="196.5" r="5.0"/><circle cx="482.4" cy="197.1" r="5.0"/><circle cx="483.5" cy="194.9" r="5.0"/><circle cx="484.6" cy="196.5" r="5.0"/><circle cx="485.7" cy="198.3" r="5.0"/><circle cx="486.8" cy="197.7" r="5.0"/><circle cx="487.9" cy="197.8" r="5.0"/><circle cx="489.0" cy="200.1" r="5.0"/><circle cx="490.1" cy="197.4" r="5.0"/><circle cx="491.2" cy="198.7" r="5.0"/><circle cx="492.3" cy="198.2" r="5.0"/><circle cx="493.4" cy="201.2" r="5.0"/><circle cx="494.5" cy="196.8" r="5.0"/><circle cx="495.6" cy="198.9" r="5.0"/><circle cx="496.7" cy="199.3" r="5.0"/><circle cx="497.8" cy="201.2" r="5.0"/><circle cx="498.9" cy="201.4" r="5.0"/><circle cx="500.0" cy="202.8" r="5.0"/><circle cx="501.1" cy="199.1" r="5.0"/><circle cx="502.2" cy="202.5" r="5.0"/><circle cx="503.3" cy="201.4" r="5.0"/><circle cx="504.4" cy="201.1" r="5.0"/><circle cx="505.5" cy="203.0" r="5.0"/><circle cx="506.6" cy="201.3" r="5.0"/><circle cx="507.7" cy="200.1" r="5.0"/><circle cx="508.8" cy="202.6" r="5.0"/><circle cx="509.9" cy="201.4" r="5.0"/><circle cx="511.0" cy="202.8" r="5.0"/><circle cx="512.1" cy="204.4" r="5.0"/><circle cx="513.2" cy="204.6" r="5.0"/><circle cx="514.3" cy="206.5" r="5.0"/><circle cx="515.4" cy="204.4" r="5.0"/><circle cx="516.5" cy="202.9" r="5.0"/><circle cx="517.6" cy="204.2" r="5.0"/><circle cx="518.7" cy="204.2" r="5.0"/><circle cx="519.8" cy="204.1" r="5.0"/><circle cx="520.9" cy="206.5" r="5.0"/><circle cx="522.0" cy="205.3" r="5.0"/><circle cx="523.1" cy="203.8" r="5.0"/><circle cx="524.2" cy="207.5" r="5.0"/><circle cx="525.3" cy="206.7" r="5.0"/><circle cx="526.4" cy="207.6" r="5.0"/><circle cx="527.5" cy="207.5" r="5.0"/><circle cx="528.6" cy="208.4" r="5.0"/><circle cx="529.7" cy="207.8" r="5.0"/><circle cx="530.8" cy="209.6" r="5.0"/><circle cx="531.9" cy="208.8" r="5.0"/><circle cx="533.0" cy="209.0" r="5.0"/><circle cx="534.1" cy="209.2" r="5.0"/><circle cx="535.2" cy="207.0" r="5.0"/><circle cx="536.3" cy="208.9" r="5.0"/><circle cx="537.4" cy="209.0" r="5.0"/><circle cx="538.5" cy="209.8" r="5.0"/><circle cx="539.6" cy="208.0" r="5.0"/><circle cx="540.7" cy="212.1" r="5.0"/><circle cx="541.8" cy="210.3" r="5.0"/><circle cx="542.9" cy="208.8" r="5.0"/><circle cx="544.0" cy="208.4" r="5.0"/><circle cx="545.1" cy="210.4" r="5.0"/><circle cx="546.2" cy="210.9" r="5.0"/><circle cx="547.3" cy="210.3" r="5.0"/><circle cx="548.4" cy="211.5" r="5.0"/><circle cx="549.5" cy="210.7" r="5.0"/><circle cx="550.6" cy="212.5" r="5.0"/><circle cx="551.7" cy="211.0" r="5.0"/><circle cx="552.8" cy="212.1" r="5.0"/><circle cx="553.9" cy="213.6" r="5.0"/><circle cx="555.0" cy="215.8" r="5.0"/><circle cx="556.1" cy="211.4" r="5.0"/><circle cx="557.2" cy="212.3" r="5.0"/><circle cx="558.3" cy="212.0" r="5.0"/><circle cx="559.4" cy="214.2" r="5.0"/><circle cx="560.5" cy="212.0" r="5.0"/><circle cx="561.6" cy="213.0" r="5.0"/><circle cx="562.7" cy="213.7" r="5.0"/><circle cx="563.8" cy="212.7" r="5.0"/><circle cx="564.9" cy="212.9" r="5.0"/><circle cx="566.0" cy="213.7" r="5.0"/><circle cx="567.1" cy="211.8" r="5.0"/><circle cx="568.2" cy="212.8" r="5.0"/><circle cx="569.3" cy="214.2" r="5.0"/><circle cx="570.4" cy="215.1" r="5.0"/><circle cx="571.5" cy="214.9" r="5.0"/><circle cx="572.6" cy="213.0" r="5.0"/><circle cx="573.7" cy="214.8" r="5.0"/><circle cx="574.8" cy="216.6" r="5.0"/><circle cx="575.9" cy="216.4" r="5.0"/><circle cx="577.0" cy="215.8" r="5.0"/><circle cx="578.1" cy="214.9" r="5.0"/><circle cx="579.2" cy="217.0" r="5.0"/><circle cx="580.3" cy="215.6" r="5.0"/><circle cx="581.4" cy="215.0" r="5.0"/><circle cx="582.5" cy="215.6" r="5.0"/><circle cx="583.6" cy="218.6" r="5.0"/><circle cx="584.7" cy="217.2" r="5.0"/><circle cx="585.8" cy="218.5" r="5.0"/><circle cx="586.9" cy="216.6" r="5.0"/><circle cx="588.0" cy="218.5" r="5.0"/><circle cx="589.1" cy="216.7" r="5.0"/><circle cx="590.2" cy="217.4" r="5.0"/><circle cx="591.3" cy="220.8" r="5.0"/><circle cx="592.4" cy="218.8" r="5.0"/><circle cx="593.5" cy="217.4" r="5.0"/><circle cx="594.6" cy="218.0" r="5.0"/><circle cx="595.7" cy="218.7" r="5.0"/><circle cx="596.8" cy="219.9" r="5.0"/><circle cx="597.9" cy="217.9" r="5.0"/><circle cx="599.0" cy="216.5" r="5.0"/><circle cx="600.1" cy="218.5" r="5.0"/><circle cx="601.2" cy="218.9" r="5.0"/><circle cx="602.3" cy="219.2" r="5.0"/><circle cx="603.4" cy="220.8" r="5.0"/><circle cx="604.5" cy="219.7" r="5.0"/><circle cx="605.6" cy="220.4" r="5.0"/><circle cx="606.7" cy="218.2" r="5.0"/><circle cx="607.8" cy="220.7" r="5.0"/><circle cx="608.9" cy="222.3" r="5.0"/><circle cx="610.0" cy="220.8" r="5.0"/><circle cx="611.1" cy="220.3" r="5.0"/><circle cx="612.2" cy="220.3" r="5.0"/><circle cx="613.3" cy="222.4" r="5.0"/><circle cx="614.4" cy="219.2" r="5.0"/><circle cx="615.5" cy="220.3" r="5.0"/><circle cx="616.6" cy="221.1" r="5.0"/><circle cx="617.7" cy="221.6" r="5.0"/><circle cx="618.8" cy="220.3" r="5.0"/><circle cx="619.9" cy="221.3" r="5.0"/><circle cx="621.0" cy="220.7" r="5.0"/><circle cx="622.1" cy="221.2" r="5.0"/><circle cx="623.2" cy="221.0" r="5.0"/><circle cx="624.3" cy="220.0" r="5.0"/><circle cx="625.4" cy="221.4" r="5.0"/><circle cx="626.5" cy="222.6" r="5.0"/><circle cx="627.6" cy="220.5" r="5.0"/><circle cx="628.7" cy="221.4" r="5.0"/><circle cx="629.8" cy="222.6" r="5.0"/><circle cx="630.9" cy="220.7" r="5.0"/><circle cx="632.0" cy="222.2" r="5.0"/><circle cx="633.1" cy="220.9" r="5.0"/><circle cx="634.2" cy="223.5" r="5.0"/><circle cx="635.3" cy="225.0" r="5.0"/><circle cx="636.4" cy="224.8" r="5.0"/><circle cx="637.5" cy="222.2" r="5.0"/><circle cx="638.6" cy="223.5" r="5.0"/><circle cx="639.7" cy="222.8" r="5.0"/><circle cx="640.8" cy="222.9" r="5.0"/><circle cx="641.9" cy="224.7" r="5.0"/><circle cx="643.0" cy="221.4" r="5.0"/><circle cx="644.1" cy="224.3" r="5.0"/><circle cx="645.2" cy="223.1" r="5.0"/><circle cx="646.3" cy="224.9" r="5.0"/><circle cx="647.4" cy="223.5" r="5.0"/><circle cx="648.5" cy="222.6" r="5.0"/><circle cx="649.6" cy="223.8" r="5.0"/><circle cx="650.7" cy="224.4" r="5.0"/><circle cx="651.8" cy="223.7" r="5.0"/><circle cx="652.9" cy="224.3" r="5.0"/><circle cx="654.0" cy="223.2" r="5.0"/><circle cx="655.1" cy="221.5" r="5.0"/><circle cx="656.2" cy="225.1" r="5.0"/><circle cx="657.3" cy="224.9" r="5.0"/><circle cx="658.4" cy="224.4" r="5.0"/><circle cx="659.5" cy="224.3" r="5.0"/><circle cx="660.6" cy="225.5" r="5.0"/><circle cx="661.7" cy="223.9" r="5.0"/><circle cx="662.8" cy="223.7" r="5.0"/><circle cx="663.9" cy="224.4" r="5.0"/><circle cx="665.0" cy="226.0" r="5.0"/><circle cx="666.1" cy="223.2" r="5.0"/><circle cx="667.2" cy="226.2" r="5.0"/><circle cx="668.3" cy="224.2" r="5.0"/><circle cx="669.4" cy="223.7" r="5.0"/><circle cx="670.5" cy="226.5" r="5.0"/><circle cx="671.6" cy="225.0" r="5.0"/><circle cx="672.7" cy="223.8" r="5.0"/><circle cx="673.8" cy="224.9" r="5.0"/><circle cx="674.9" cy="226.4" r="5.0"/><circle cx="676.0" cy="226.8" r="5.0"/><circle cx="677.1" cy="225.1" r="5.0"/><circle cx="678.2" cy="226.1" r="5.0"/><circle cx="679.3" cy="226.5" r="5.0"/><circle cx="680.4" cy="225.0" r="5.0"/><circle cx="681.5" cy="226.2" r="5.0"/><circle cx="682.6" cy="225.9" r="5.0"/><circle cx="683.7" cy="225.4" r="5.0"/><circle cx="684.8" cy="225.5" r="5.0"/><circle cx="685.9" cy="226.2" r="5.0"/><circle cx="687.0" cy="226.2" r="5.0"/><circle cx="688.1" cy="225.6" r="5.0"/><circle cx="689.2" cy="225.9" r="5.0"/><circle cx="690.3" cy="227.7" r="5.0"/><circle cx="691.4" cy="226.7" r="5.0"/><circle cx="692.5" cy="227.5" r="5.0"/><circle cx="693.6" cy="228.0" r="5.0"/><circle cx="694.7" cy="227.4" r="5.0"/><circle cx="695.8" cy="229.3" r="5.0"/><circle cx="696.9" cy="225.9" r="5.0"/><circle cx="698.0" cy="227.8" r="5.0"/><circle cx="699.1" cy="226.6" r="5.0"/><circle cx="700.2" cy="229.1" r="5.0"/><circle cx="701.3" cy="229.0" r="5.0"/><circle cx="702.4" cy="225.0" r="5.0"/><circle cx="703.5" cy="226.2" r="5.0"/><circle cx="704.6" cy="228.0" r="5.0"/><circle cx="705.7" cy="228.2" r="5.0"/><circle cx="706.8" cy="228.3" r="5.0"/><circle cx="707.9" cy="227.4" r="5.0"/><circle cx="709.0" cy="228.1" r="5.0"/><circle cx="710.1" cy="228.4" r="5.0"/><circle cx="711.2" cy="227.6" r="5.0"/><circle cx="712.3" cy="228.9" r="5.0"/><circle cx="713.4" cy="225.4" r="5.0"/><circle cx="714.5" cy="228.6" r="5.0"/><circle cx="715.6" cy="226.8" r="5.0"/><circle cx="716.7" cy="229.1" r="5.0"/><circle cx="717.8" cy="227.8" r="5.0"/><circle cx="718.9" cy="227.2" r="5.0"/><circle cx="720.0" cy="228.6" r="5.0"/><circle cx="721.1" cy="227.3" r="5.0"/><circle cx="722.2" cy="227.3" r="5.0"/><circle cx="723.3" cy="226.7" r="5.0"/><circle cx="724.4" cy="228.4" r="5.0"/><circle cx="725.5" cy="229.0" r="5.0"/><circle cx="726.6" cy="229.7" r="5.0"/><circle cx="727.7" cy="228.5" r="5.0"/><circle cx="728.8" cy="229.8" r="5.0"/><circle cx="729.9" cy="228.8" r="5.0"/><circle cx="731.0" cy="228.7" r="5.0"/><circle cx="732.1" cy="229.5" r="5.0"/><circle cx="733.2" cy="230.1" r="5.0"/><circle cx="734.3" cy="228.6" r="5.0"/><circle cx="735.4" cy="228.8" r="5.0"/><circle cx="736.5" cy="228.9" r="5.0"/><circle cx="737.6" cy="229.2" r="5.0"/><circle cx="738.7" cy="228.2" r="5.0"/><circle cx="739.8" cy="230.3" r="5.0"/><circle cx="740.9" cy="228.9" r="5.0"/><circle cx="742.0" cy="229.8" r="5.0"/><circle cx="743.1" cy="228.5" r="5.0"/><circle cx="744.2" cy="229.8" r="5.0"/><circle cx="745.3" cy="229.9" r="5.0"/><circle cx="746.4" cy="229.1" r="5.0"/><circle cx="747.5" cy="231.8" r="5.0"/><circle cx="748.6" cy="230.1" r="5.0"/><circle cx="749.7" cy="231.6" r="5.0"/><circle cx="750.8" cy="230.8" r="5.0"/><circle cx="751.9" cy="229.1" r="5.0"/><circle cx="753.0" cy="229.4" r="5.0"/><circle cx="754.1" cy="230.4" r="5.0"/><circle cx="755.2" cy="230.0" r="5.0"/><circle cx="756.3" cy="230.1" r="5.0"/><circle cx="757.4" cy="229.8" r="5.0"/><circle cx="758.5" cy="228.2" r="5.0"/><circle cx="759.6" cy="229.9" r="5.0"/><circle cx="760.7" cy="227.8" r="5.0"/><circle cx="761.8" cy="230.7" r="5.0"/><circle cx="762.9" cy="229.5" r="5.0"/><circle cx="764.0" cy="229.6" r="5.0"/><circle cx="765.1" cy="230.2" r="5.0"/><circle cx="766.2" cy="230.7" r="5.0"/><circle cx="767.3" cy="228.9" r="5.0"/><circle cx="768.4" cy="228.7" r="5.0"/><circle cx="769.5" cy="229.4" r="5.0"/><circle cx="770.6" cy="228.4" r="5.0"/><circle cx="771.7" cy="229.6" r="5.0"/><circle cx="772.8" cy="232.4" r="5.0"/><circle cx="773.9" cy="229.6" r="5.0"/><circle cx="775.0" cy="231.5" r="5.0"/><circle cx="776.1" cy="229.4" r="5.0"/><circle cx="777.2" cy="231.2" r="5.0"/><circle cx="778.3" cy="230.6" r="5.0"/><circle cx="779.4" cy="230.9" r="5.0"/><circle cx="780.5" cy="231.6" r="5.0"/><circle cx="781.6" cy="232.9" r="5.0"/><circle cx="782.7" cy="231.3" r="5.0"/><circle cx="783.8" cy="231.3" r="5.0"/><circle cx="784.9" cy="230.1" r="5.0"/><circle cx="786.0" cy="231.8" r="5.0"/><circle cx="787.1" cy="231.0" r="5.0"/><circle cx="788.2" cy="232.2" r="5.0"/><circle cx="789.3" cy="231.3" r="5.0"/><circle cx="790.4" cy="233.2" r="5.0"/><circle cx="791.5" cy="229.3" r="5.0"/><circle cx="792.6" cy="231.1" r="5.0"/><circle cx="793.7" cy="232.4" r="5.0"/><circle cx="794.8" cy="231.2" r="5.0"/><circle cx="795.9" cy="230.7" r="5.0"/><circle cx="797.0" cy="231.3" r="5.0"/><circle cx="798.1" cy="230.2" r="5.0"/><circle cx="799.2" cy="231.8" r="5.0"/><circle cx="800.3" cy="234.3" r="5.0"/><circle cx="801.4" cy="233.0" r="5.0"/><circle cx="802.5" cy="230.6" r="5.0"/><circle cx="803.6" cy="230.9" r="5.0"/><circle cx="804.7" cy="231.4" r="5.0"/><circle cx="805.8" cy="233.0" r="5.0"/><circle cx="806.9" cy="231.1" r="5.0"/><circle cx="808.0" cy="231.2" r="5.0"/><circle cx="809.1" cy="232.9" r="5.0"/><circle cx="810.2" cy="233.0" r="5.0"/><circle cx="811.3" cy="231.7" r="5.0"/><circle cx="812.4" cy="230.9" r="5.0"/><circle cx="813.5" cy="230.5" r="5.0"/><circle cx="814.6" cy="231.4" r="5.0"/><circle cx="815.7" cy="229.9" r="5.0"/><circle cx="816.8" cy="233.0" r="5.0"/><circle cx="817.9" cy="231.6" r="5.0"/><circle cx="819.0" cy="232.8" r="5.0"/><circle cx="820.1" cy="234.3" r="5.0"/><circle cx="821.2" cy="233.6" r="5.0"/><circle cx="822.3" cy="231.2" r="5.0"/><circle cx="823.4" cy="233.4" r="5.0"/><circle cx="824.5" cy="233.7" r="5.0"/><circle cx="825.6" cy="231.7" r="5.0"/><circle cx="826.7" cy="231.5" r="5.0"/><circle cx="827.8" cy="232.4" r="5.0"/><circle cx="828.9" cy="230.9" r="5.0"/><circle cx="830.0" cy="234.2" r="5.0"/><circle cx="831.1" cy="230.1" r="5.0"/><circle cx="832.2" cy="231.5" r="5.0"/><circle cx="833.3" cy="232.4" r="5.0"/><circle cx="834.4" cy="232.5" r="5.0"/><circle cx="835.5" cy="232.9" r="5.0"/><circle cx="836.6" cy="233.1" r="5.0"/><circle cx="837.7" cy="232.6" r="5.0"/><circle cx="838.8" cy="234.0" r="5.0"/><circle cx="839.9" cy="230.6" r="5.0"/><circle cx="841.0" cy="232.9" r="5.0"/><circle cx="842.1" cy="232.2" r="5.0"/><circle cx="843.2" cy="233.1" r="5.0"/><circle cx="844.3" cy="233.2" r="5.0"/><circle cx="845.4" cy="232.1" r="5.0"/><circle cx="846.5" cy="232.4" r="5.0"/><circle cx="847.6" cy="233.9" r="5.0"/><circle cx="848.7" cy="233.5" r="5.0"/><circle cx="849.8" cy="232.4" r="5.0"/><circle cx="850.9" cy="235.3" r="5.0"/><circle cx="852.0" cy="235.6" r="5.0"/><circle cx="853.1" cy="231.7" r="5.0"/><circle cx="854.2" cy="233.5" r="5.0"/><circle cx="855.3" cy="235.9" r="5.0"/><circle cx="856.4" cy="234.1" r="5.0"/><circle cx="857.5" cy="233.5" r="5.0"/><circle cx="858.6" cy="233.1" r="5.0"/><circle cx="859.7" cy="232.8" r="5.0"/><circle cx="860.8" cy="233.1" r="5.0"/><circle cx="861.9" cy="232.8" r="5.0"/><circle cx="863.0" cy="234.2" r="5.0"/><circle cx="864.1" cy="233.0" r="5.0"/><circle cx="865.2" cy="233.0" r="5.0"/><circle cx="866.3" cy="232.2" r="5.0"/><circle cx="867.4" cy="233.4" r="5.0"/><circle cx="868.5" cy="232.6" r="5.0"/><circle cx="869.6" cy="233.4" r="5.0"/><circle cx="870.7" cy="234.6" r="5.0"/><circle cx="871.8" cy="234.0" r="5.0"/><circle cx="872.9" cy="234.1" r="5.0"/><circle cx="874.0" cy="234.0" r="5.0"/><circle cx="875.1" cy="233.7" r="5.0"/><circle cx="876.2" cy="233.5" r="5.0"/><circle cx="877.3" cy="233.4" r="5.0"/><circle cx="878.4" cy="234.5" r="5.0"/><circle cx="879.5" cy="232.6" r="5.0"/><circle cx="880.6" cy="235.1" r="5.0"/><circle cx="881.7" cy="233.8" r="5.0"/><circle cx="882.8" cy="233.0" r="5.0"/><circle cx="883.9" cy="233.3" r="5.0"/><circle cx="885.0" cy="233.1" r="5.0"/><circle cx="886.1" cy="234.0" r="5.0"/><circle cx="887.2" cy="233.1" r="5.0"/><circle cx="888.3" cy="235.0" r="5.0"/><circle cx="889.4" cy="233.1" r="5.0"/><circle cx="890.5" cy="231.6" r="5.0"/><circle cx="891.6" cy="233.2" r="5.0"/><circle cx="892.7" cy="231.9" r="5.0"/><circle cx="893.8" cy="233.9" r="5.0"/><circle cx="894.9" cy="235.1" r="5.0"/><circle cx="896.0" cy="234.7" r="5.0"/><circle cx="897.1" cy="232.6" r="5.0"/><circle cx="898.2" cy="233.2" r="5.0"/><circle cx="899.3" cy="235.9" r="5.0"/><circle cx="900.4" cy="234.4" r="5.0"/><circle cx="901.5" cy="234.1" r="5.0"/><circle cx="902.6" cy="235.2" r="5.0"/><circle cx="903.7" cy="236.6" r="5.0"/><circle cx="904.8" cy="235.4" r="5.0"/><circle cx="905.9" cy="234.3" r="5.0"/><circle cx="907.0" cy="234.5" r="5.0"/><circle cx="908.1" cy="234.8" r="5.0"/><circle cx="909.2" cy="233.6" r="5.0"/><circle cx="910.3" cy="233.1" r="5.0"/><circle cx="911.4" cy="234.3" r="5.0"/><circle cx="912.5" cy="233.3" r="5.0"/><circle cx="913.6" cy="234.2" r="5.0"/><circle cx="914.7" cy="234.4" r="5.0"/><circle cx="915.8" cy="236.7" r="5.0"/><circle cx="916.9" cy="233.4" r="5.0"/><circle cx="918.0" cy="234.2" r="5.0"/><circle cx="919.1" cy="234.1" r="5.0"/><circle cx="920.2" cy="234.8" r="5.0"/><circle cx="921.3" cy="235.4" r="5.0"/><circle cx="922.4" cy="233.9" r="5.0"/><circle cx="923.5" cy="233.5" r="5.0"/><circle cx="924.6" cy="232.7" r="5.0"/><circle cx="925.7" cy="233.5" r="5.0"/><circle cx="926.8" cy="234.9" r="5.0"/><circle cx="927.9" cy="234.5" r="5.0"/><circle cx="929.0" cy="233.4" r="5.0"/><circle cx="930.1" cy="234.1" r="5.0"/><circle cx="931.2" cy="234.5" r="5.0"/><circle cx="932.3" cy="235.0" r="5.0"/><circle cx="933.4" cy="233.9" r="5.0"/><circle cx="934.5" cy="234.2" r="5.0"/><circle cx="935.6" cy="232.7" r="5.0"/><circle cx="936.7" cy="233.3" r="5.0"/><circle cx="937.8" cy="236.1" r="5.0"/><circle cx="938.9" cy="232.3" r="5.0"/><circle cx="940.0" cy="234.2" r="5.0"/><circle cx="941.1" cy="234.8" r="5.0"/><circle cx="942.2" cy="234.2" r="5.0"/><circle cx="943.3" cy="233.8" r="5.0"/><circle cx="944.4" cy="234.5" r="5.0"/><circle cx="945.5" cy="234.6" r="5.0"/><circle cx="946.6" cy="234.5" r="5.0"/><circle cx="947.7" cy="232.7" r="5.0"/><circle cx="948.8" cy="234.5" r="5.0"/><circle cx="949.9" cy="233.8" r="5.0"/><circle cx="951.0" cy="234.1" r="5.0"/><circle cx="952.1" cy="234.9" r="5.0"/><circle cx="953.2" cy="235.3" r="5.0"/><circle cx="954.3" cy="235.6" r="5.0"/><circle cx="955.4" cy="234.2" r="5.0"/><circle cx="956.5" cy="235.6" r="5.0"/><circle cx="957.6" cy="235.9" r="5.0"/><circle cx="958.7" cy="235.8" r="5.0"/></g><g fill="none" stroke="#FF0000" stroke-width="1.6"><circle cx="198.9" cy="60.0" r="5.0"/><circle cx="201.9" cy="65.3" r="5.0"/><circle cx="204.8" cy="72.6" r="5.0"/><circle cx="207.8" cy="81.1" r="5.0"/><circle cx="210.7" cy="82.9" r="5.0"/><circle cx="213.5" cy="91.2" r="5.0"/><circle cx="216.4" cy="94.7" r="5.0"/><circle cx="219.2" cy="99.5" r="5.0"/><circle cx="222.0" cy="101.4" r="5.0"/><circle cx="224.7" cy="107.0" r="5.0"/><circle cx="227.4" cy="112.5" r="5.0"/><circle cx="230.2" cy="117.9" r="5.0"/><circle cx="232.8" cy="121.8" r="5.0"/><circle cx="235.5" cy="123.5" r="5.0"/><circle cx="238.1" cy="126.8" r="5.0"/><circle cx="240.7" cy="129.0" r="5.0"/><circle cx="243.3" cy="134.3" r="5.0"/><circle cx="245.8" cy="136.3" r="5.0"/><circle cx="248.4" cy="140.6" r="5.0"/><circle cx="250.9" cy="145.3" r="5.0"/><circle cx="253.3" cy="145.3" r="5.0"/><circle cx="255.8" cy="145.7" r="5.0"/><circle cx="258.2" cy="149.3" r="5.0"/><circle cx="260.6" cy="151.0" r="5.0"/><circle cx="263.0" cy="153.8" r="5.0"/><circle cx="265.4" cy="159.9" r="5.0"/><circle cx="267.7" cy="160.5" r="5.0"/><circle cx="270.0" cy="160.1" r="5.0"/><circle cx="272.3" cy="165.5" r="5.0"/><circle cx="274.6" cy="168.4" r="5.0"/><circle cx="276.8" cy="168.0" r="5.0"/><circle cx="279.0" cy="169.4" r="5.0"/><circle cx="281.3" cy="171.8" r="5.0"/><circle cx="283.4" cy="174.4" r="5.0"/><circle cx="285.6" cy="176.7" r="5.0"/><circle cx="287.7" cy="179.1" r="5.0"/><circle cx="289.9" cy="180.8" r="5.0"/><circle cx="292.0" cy="182.3" r="5.0"/><circle cx="294.0" cy="184.1" r="5.0"/><circle cx="296.1" cy="184.5" r="5.0"/><circle cx="298.1" cy="182.7" r="5.0"/><circle cx="300.1" cy="186.1" r="5.0"/><circle cx="302.1" cy="188.0" r="5.0"/><circle cx="304.1" cy="188.2" r="5.0"/><circle cx="306.1" cy="191.2" r="5.0"/><circle cx="308.0" cy="190.5" r="5.0"/><circle cx="310.0" cy="190.8" r="5.0"/><circle cx="311.9" cy="195.2" r="5.0"/><circle cx="313.8" cy="195.1" r="5.0"/><circle cx="315.6" cy="195.5" r="5.0"/><circle cx="317.5" cy="197.4" r="5.0"/><circle cx="319.3" cy="198.5" r="5.0"/><circle cx="321.2" cy="198.4" r="5.0"/><circle cx="323.0" cy="195.3" r="5.0"/><circle cx="324.8" cy="198.7" r="5.0"/><circle cx="326.5" cy="199.8" r="5.0"/><circle cx="328.3" cy="199.8" r="5.0"/><circle cx="330.1" cy="202.3" r="5.0"/><circle cx="331.8" cy="204.4" r="5.0"/><circle cx="333.5" cy="202.7" r="5.0"/><circle cx="335.2" cy="202.5" r="5.0"/><circle cx="336.9" cy="207.6" r="5.0"/><circle cx="338.5" cy="204.8" r="5.0"/><circle cx="340.2" cy="204.3" r="5.0"/><circle cx="341.8" cy="207.0" r="5.0"/><circle cx="343.5" cy="207.8" r="5.0"/><circle cx="345.1" cy="206.8" r="5.0"/><circle cx="346.7" cy="209.5" r="5.0"/><circle cx="348.2" cy="208.2" r="5.0"/><circle cx="349.8" cy="208.2" r="5.0"/><circle cx="351.4" cy="210.2" r="5.0"/><circle cx="352.9" cy="211.5" r="5.0"/><circle cx="354.4" cy="210.1" r="5.0"/><circle cx="355.9" cy="211.8" r="5.0"/><circle cx="357.4" cy="211.7" r="5.0"/><circle cx="358.9" cy="216.1" r="5.0"/><circle cx="360.4" cy="211.7" r="5.0"/><circle cx="361.8" cy="215.0" r="5.0"/><circle cx="363.3" cy="213.5" r="5.0"/><circle cx="364.7" cy="213.8" r="5.0"/><circle cx="366.1" cy="215.3" r="5.0"/><circle cx="367.5" cy="215.9" r="5.0"/><circle cx="368.9" cy="216.8" r="5.0"/><circle cx="370.3" cy="215.9" r="5.0"/><circle cx="371.7" cy="215.0" r="5.0"/><circle cx="373.0" cy="215.4" r="5.0"/><circle cx="374.4" cy="217.1" r="5.0"/><circle cx="375.7" cy="217.5" r="5.0"/><circle cx="377.0" cy="218.9" r="5.0"/><circle cx="378.3" cy="217.9" r="5.0"/><circle cx="379.6" cy="219.1" r="5.0"/><circle cx="380.9" cy="220.0" r="5.0"/><circle cx="382.2" cy="218.5" r="5.0"/><circle cx="383.4" cy="216.6" r="5.0"/><circle cx="384.7" cy="217.3" r="5.0"/><circle cx="385.9" cy="217.3" r="5.0"/><circle cx="387.2" cy="221.5" r="5.0"/><circle cx="388.4" cy="218.6" r="5.0"/><circle cx="389.6" cy="221.6" r="5.0"/><circle cx="390.8" cy="221.0" r="5.0"/><circle cx="392.0" cy="222.7" r="5.0"/><circle cx="393.1" cy="222.1" r="5.0"/><circle cx="394.3" cy="220.8" r="5.0"/><circle cx="395.4" cy="221.0" r="5.0"/><circle cx="396.6" cy="221.6" r="5.0"/><circle cx="397.7" cy="221.9" r="5.0"/><circle cx="398.8" cy="221.2" r="5.0"/><circle cx="399.9" cy="222.1" r="5.0"/><circle cx="401.0" cy="224.4" r="5.0"/><circle cx="402.1" cy="220.3" r="5.0"/><circle cx="403.2" cy="223.1" r="5.0"/><circle cx="404.3" cy="221.8" r="5.0"/><circle cx="405.4" cy="223.4" r="5.0"/><circle cx="406.5" cy="224.4" r="5.0"/><circle cx="407.6" cy="223.4" r="5.0"/><circle cx="408.7" cy="224.7" r="5.0"/><circle cx="409.8" cy="221.8" r="5.0"/><circle cx="410.9" cy="225.5" r="5.0"/><circle cx="412.0" cy="223.5" r="5.0"/><circle cx="413.1" cy="225.3" r="5.0"/><circle cx="414.2" cy="224.9" r="5.0"/><circle cx="415.3" cy="221.5" r="5.0"/><circle cx="416.4" cy="224.0" r="5.0"/><circle cx="417.5" cy="225.4" r="5.0"/><circle cx="418.6" cy="227.3" r="5.0"/><circle cx="419.7" cy="225.8" r="5.0"/><circle cx="420.8" cy="226.0" r="5.0"/><circle cx="421.9" cy="224.0" r="5.0"/><circle cx="423.0" cy="227.8" r="5.0"/><circle cx="424.1" cy="228.4" r="5.0"/><circle cx="425.2" cy="226.3" r="5.0"/><circle cx="426.3" cy="226.1" r="5.0"/><circle cx="427.4" cy="224.5" r="5.0"/><circle cx="428.5" cy="227.8" r="5.0"/><circle cx="429.6" cy="230.3" r="5.0"/><circle cx="430.7" cy="227.9" r="5.0"/><circle cx="431.8" cy="228.8" r="5.0"/><circle cx="432.9" cy="228.0" r="5.0"/><circle cx="434.0" cy="226.2" r="5.0"/><circle cx="435.1" cy="229.3" r="5.0"/><circle cx="436.2" cy="226.1" r="5.0"/><circle cx="437.3" cy="227.5" r="5.0"/><circle cx="438.4" cy="228.3" r="5.0"/><circle cx="439.5" cy="229.2" r="5.0"/><circle cx="440.6" cy="228.7" r="5.0"/><circle cx="441.7" cy="228.8" r="5.0"/><circle cx="442.8" cy="227.5" r="5.0"/><circle cx="443.9" cy="226.9" r="5.0"/><circle cx="445.0" cy="228.8" r="5.0"/><circle cx="446.1" cy="227.9" r="5.0"/><circle cx="447.2" cy="227.3" r="5.0"/><circle cx="448.3" cy="227.4" r="5.0"/><circle cx="449.4" cy="228.5" r="5.0"/><circle cx="450.5" cy="226.9" r="5.0"/><circle cx="451.6" cy="227.7" r="5.0"/><circle cx="452.7" cy="227.4" r="5.0"/><circle cx="453.8" cy="229.8" r="5.0"/><circle cx="454.9" cy="230.2" r="5.0"/><circle cx="456.0" cy="232.3" r="5.0"/><circle cx="457.1" cy="228.0" r="5.0"/><circle cx="458.2" cy="229.2" r="5.0"/><circle cx="459.3" cy="231.3" r="5.0"/><circle cx="460.4" cy="229.9" r="5.0"/><circle cx="461.5" cy="229.9" r="5.0"/><circle cx="462.6" cy="232.6" r="5.0"/><circle cx="463.7" cy="230.1" r="5.0"/><circle cx="464.8" cy="229.2" r="5.0"/><circle cx="465.9" cy="229.1" r="5.0"/><circle cx="467.0" cy="231.2" r="5.0"/><circle cx="468.1" cy="231.3" r="5.0"/><circle cx="469.2" cy="229.3" r="5.0"/><circle cx="470.3" cy="229.9" r="5.0"/><circle cx="471.4" cy="231.8" r="5.0"/><circle cx="472.5" cy="232.0" r="5.0"/><circle cx="473.6" cy="230.6" r="5.0"/><circle cx="474.7" cy="232.2" r="5.0"/><circle cx="475.8" cy="232.3" r="5.0"/><circle cx="476.9" cy="229.4" r="5.0"/><circle cx="478.0" cy="231.3" r="5.0"/><circle cx="479.1" cy="232.3" r="5.0"/><circle cx="480.2" cy="231.2" r="5.0"/><circle cx="481.3" cy="229.3" r="5.0"/><circle cx="482.4" cy="231.7" r="5.0"/><circle cx="483.5" cy="233.1" r="5.0"/><circle cx="484.6" cy="234.2" r="5.0"/><circle cx="485.7" cy="229.6" r="5.0"/><circle cx="486.8" cy="235.7" r="5.0"/><circle cx="487.9" cy="231.1" r="5.0"/><circle cx="489.0" cy="233.8" r="5.0"/><circle cx="490.1" cy="234.2" r="5.0"/><circle cx="491.2" cy="234.0" r="5.0"/><circle cx="492.3" cy="233.0" r="5.0"/><circle cx="493.4" cy="231.5" r="5.0"/><circle cx="494.5" cy="233.8" r="5.0"/><circle cx="495.6" cy="232.2" r="5.0"/><circle cx="496.7" cy="230.0" r="5.0"/><circle cx="497.8" cy="236.7" r="5.0"/><circle cx="498.9" cy="234.2" r="5.0"/><circle cx="500.0" cy="235.6" r="5.0"/><circle cx="501.1" cy="232.4" r="5.0"/><circle cx="502.2" cy="235.4" r="5.0"/><circle cx="503.3" cy="235.6" r="5.0"/><circle cx="504.4" cy="235.6" r="5.0"/><circle cx="505.5" cy="233.8" r="5.0"/><circle cx="506.6" cy="232.4" r="5.0"/><circle cx="507.7" cy="233.7" r="5.0"/><circle cx="508.8" cy="231.3" r="5.0"/><circle cx="509.9" cy="232.0" r="5.0"/><circle cx="511.0" cy="234.3" r="5.0"/><circle cx="512.1" cy="233.0" r="5.0"/><circle cx="513.2" cy="234.1" r="5.0"/><circle cx="514.3" cy="234.3" r="5.0"/><circle cx="515.4" cy="236.8" r="5.0"/><circle cx="516.5" cy="236.1" r="5.0"/><circle cx="517.6" cy="234.6" r="5.0"/><circle cx="518.7" cy="236.2" r="5.0"/><circle cx="519.8" cy="233.8" r="5.0"/><circle cx="520.9" cy="234.4" r="5.0"/><circle cx="522.0" cy="236.0" r="5.0"/><circle cx="523.1" cy="233.5" r="5.0"/><circle cx="524.2" cy="234.7" r="5.0"/><circle cx="525.3" cy="233.5" r="5.0"/><circle cx="526.4" cy="235.3" r="5.0"/><circle cx="527.5" cy="237.2" r="5.0"/><circle cx="528.6" cy="234.4" r="5.0"/><circle cx="529.7" cy="235.7" r="5.0"/><circle cx="530.8" cy="234.4" r="5.0"/><circle cx="531.9" cy="234.1" r="5.0"/><circle cx="533.0" cy="234.1" r="5.0"/><circle cx="534.1" cy="237.4" r="5.0"/><circle cx="535.2" cy="238.6" r="5.0"/><circle cx="536.3" cy="236.4" r="5.0"/><circle cx="537.4" cy="235.0" r="5.0"/><circle cx="538.5" cy="236.8" r="5.0"/><circle cx="539.6" cy="235.6" r="5.0"/><circle cx="540.7" cy="237.0" r="5.0"/><circle cx="541.8" cy="236.5" r="5.0"/><circle cx="542.9" cy="236.5" r="5.0"/><circle cx="544.0" cy="237.0" r="5.0"/><circle cx="545.1" cy="235.6" r="5.0"/><circle cx="546.2" cy="235.9" r="5.0"/><circle cx="547.3" cy="234.4" r="5.0"/><circle cx="548.4" cy="236.0" r="5.0"/><circle cx="549.5" cy="234.9" r="5.0"/><circle cx="550.6" cy="236.4" r="5.0"/><circle cx="551.7" cy="235.5" r="5.0"/><circle cx="552.8" cy="236.9" r="5.0"/><circle cx="553.9" cy="237.3" r="5.0"/><circle cx="555.0" cy="235.2" r="5.0"/><circle cx="556.1" cy="235.9" r="5.0"/><circle cx="557.2" cy="235.8" r="5.0"/><circle cx="558.3" cy="237.9" r="5.0"/><circle cx="559.4" cy="239.1" r="5.0"/><circle cx="560.5" cy="238.2" r="5.0"/><circle cx="561.6" cy="236.8" r="5.0"/><circle cx="562.7" cy="239.0" r="5.0"/><circle cx="563.8" cy="235.6" r="5.0"/><circle cx="564.9" cy="239.2" r="5.0"/><circle cx="566.0" cy="236.7" r="5.0"/><circle cx="567.1" cy="234.3" r="5.0"/><circle cx="568.2" cy="240.8" r="5.0"/><circle cx="569.3" cy="239.6" r="5.0"/><circle cx="570.4" cy="236.6" r="5.0"/><circle cx="571.5" cy="238.1" r="5.0"/><circle cx="572.6" cy="237.7" r="5.0"/><circle cx="573.7" cy="238.2" r="5.0"/><circle cx="574.8" cy="236.3" r="5.0"/><circle cx="575.9" cy="237.4" r="5.0"/><circle cx="577.0" cy="238.8" r="5.0"/><circle cx="578.1" cy="238.6" r="5.0"/><circle cx="579.2" cy="239.8" r="5.0"/><circle cx="580.3" cy="238.5" r="5.0"/><circle cx="581.4" cy="241.3" r="5.0"/><circle cx="582.5" cy="237.7" r="5.0"/><circle cx="583.6" cy="239.0" r="5.0"/><circle cx="584.7" cy="236.5" r="5.0"/><circle cx="585.8" cy="237.3" r="5.0"/><circle cx="586.9" cy="240.4" r="5.0"/><circle cx="588.0" cy="237.8" r="5.0"/><circle cx="589.1" cy="239.6" r="5.0"/><circle cx="590.2" cy="239.0" r="5.0"/><circle cx="591.3" cy="237.9" r="5.0"/><circle cx="592.4" cy="238.8" r="5.0"/><circle cx="593.5" cy="238.6" r="5.0"/><circle cx="594.6" cy="238.7" r="5.0"/><circle cx="595.7" cy="240.2" r="5.0"/><circle cx="596.8" cy="240.2" r="5.0"/><circle cx="597.9" cy="238.8" r="5.0"/><circle cx="599.0" cy="238.5" r="5.0"/><circle cx="600.1" cy="239.9" r="5.0"/><circle cx="601.2" cy="239.6" r="5.0"/><circle cx="602.3" cy="240.9" r="5.0"/><circle cx="603.4" cy="242.9" r="5.0"/><circle cx="604.5" cy="240.8" r="5.0"/><circle cx="605.6" cy="239.9" r="5.0"/><circle cx="606.7" cy="239.8" r="5.0"/><circle cx="607.8" cy="239.0" r="5.0"/><circle cx="608.9" cy="239.0" r="5.0"/><circle cx="610.0" cy="239.0" r="5.0"/><circle cx="611.1" cy="239.8" r="5.0"/><circle cx="612.2" cy="239.8" r="5.0"/><circle cx="613.3" cy="241.2" r="5.0"/><circle cx="614.4" cy="239.9" r="5.0"/><circle cx="615.5" cy="240.2" r="5.0"/><circle cx="616.6" cy="239.1" r="5.0"/><circle cx="617.7" cy="242.5" r="5.0"/><circle cx="618.8" cy="241.2" r="5.0"/><circle cx="619.9" cy="242.7" r="5.0"/><circle cx="621.0" cy="241.6" r="5.0"/><circle cx="622.1" cy="242.5" r="5.0"/><circle cx="623.2" cy="240.5" r="5.0"/><circle cx="624.3" cy="241.7" r="5.0"/><circle cx="625.4" cy="244.1" r="5.0"/><circle cx="626.5" cy="239.6" r="5.0"/><circle cx="627.6" cy="242.4" r="5.0"/><circle cx="628.7" cy="243.1" r="5.0"/><circle cx="629.8" cy="241.6" r="5.0"/><circle cx="630.9" cy="242.1" r="5.0"/><circle cx="632.0" cy="242.7" r="5.0"/><circle cx="633.1" cy="240.5" r="5.0"/><circle cx="634.2" cy="241.8" r="5.0"/><circle cx="635.3" cy="240.4" r="5.0"/><circle cx="636.4" cy="240.7" r="5.0"/><circle cx="637.5" cy="240.8" r="5.0"/><circle cx="638.6" cy="241.4" r="5.0"/><circle cx="639.7" cy="241.8" r="5.0"/><circle cx="640.8" cy="242.2" r="5.0"/><circle cx="641.9" cy="240.1" r="5.0"/><circle cx="643.0" cy="244.1" r="5.0"/><circle cx="644.1" cy="243.2" r="5.0"/><circle cx="645.2" cy="242.7" r="5.0"/><circle cx="646.3" cy="241.5" r="5.0"/><circle cx="647.4" cy="241.9" r="5.0"/><circle cx="648.5" cy="242.7" r="5.0"/><circle cx="649.6" cy="242.5" r="5.0"/><circle cx="650.7" cy="240.2" r="5.0"/><circle cx="651.8" cy="243.0" r="5.0"/><circle cx="652.9" cy="245.6" r="5.0"/><circle cx="654.0" cy="240.1" r="5.0"/><circle cx="655.1" cy="243.5" r="5.0"/><circle cx="656.2" cy="242.8" r="5.0"/><circle cx="657.3" cy="242.3" r="5.0"/><circle cx="658.4" cy="244.0" r="5.0"/><circle cx="659.5" cy="241.1" r="5.0"/><circle cx="660.6" cy="242.7" r="5.0"/><circle cx="661.7" cy="244.3" r="5.0"/><circle cx="662.8" cy="242.4" r="5.0"/><circle cx="663.9" cy="242.2" r="5.0"/><circle cx="665.0" cy="242.8" r="5.0"/><circle cx="666.1" cy="242.2" r="5.0"/><circle cx="667.2" cy="244.6" r="5.0"/><circle cx="668.3" cy="241.8" r="5.0"/><circle cx="669.4" cy="243.9" r="5.0"/><circle cx="670.5" cy="241.5" r="5.0"/><circle cx="671.6" cy="243.7" r="5.0"/><circle cx="672.7" cy="242.9" r="5.0"/><circle cx="673.8" cy="240.1" r="5.0"/><circle cx="674.9" cy="243.1" r="5.0"/><circle cx="676.0" cy="241.9" r="5.0"/><circle cx="677.1" cy="242.7" r="5.0"/><circle cx="678.2" cy="245.0" r="5.0"/><circle cx="679.3" cy="242.0" r="5.0"/><circle cx="680.4" cy="242.1" r="5.0"/><circle cx="681.5" cy="245.0" r="5.0"/><circle cx="682.6" cy="243.5" r="5.0"/><circle cx="683.7" cy="245.2" r="5.0"/><circle cx="684.8" cy="243.8" r="5.0"/><circle cx="685.9" cy="242.5" r="5.0"/><circle cx="687.0" cy="243.5" r="5.0"/><circle cx="688.1" cy="245.0" r="5.0"/><circle cx="689.2" cy="244.7" r="5.0"/><circle cx="690.3" cy="243.7" r="5.0"/><circle cx="691.4" cy="243.8" r="5.0"/><circle cx="692.5" cy="243.6" r="5.0"/><circle cx="693.6" cy="243.1" r="5.0"/><circle cx="694.7" cy="246.0" r="5.0"/><circle cx="695.8" cy="243.9" r="5.0"/><circle cx="696.9" cy="242.6" r="5.0"/><circle cx="698.0" cy="243.4" r="5.0"/><circle cx="699.1" cy="244.8" r="5.0"/><circle cx="700.2" cy="244.8" r="5.0"/><circle cx="701.3" cy="243.9" r="5.0"/><circle cx="702.4" cy="243.4" r="5.0"/><circle cx="703.5" cy="244.2" r="5.0"/><circle cx="704.6" cy="242.3" r="5.0"/><circle cx="705.7" cy="242.8" r="5.0"/><circle cx="706.8" cy="245.2" r="5.0"/><circle cx="707.9" cy="243.8" r="5.0"/><circle cx="709.0" cy="244.8" r="5.0"/><circle cx="710.1" cy="245.8" r="5.0"/><circle cx="711.2" cy="245.2" r="5.0"/><circle cx="712.3" cy="244.5" r="5.0"/><circle cx="713.4" cy="246.9" r="5.0"/><circle cx="714.5" cy="245.3" r="5.0"/><circle cx="715.6" cy="244.2" r="5.0"/><circle cx="716.7" cy="245.4" r="5.0"/><circle cx="717.8" cy="245.1" r="5.0"/><circle cx="718.9" cy="243.7" r="5.0"/><circle cx="720.0" cy="244.8" r="5.0"/><circle cx="721.1" cy="244.6" r="5.0"/><circle cx="722.2" cy="242.6" r="5.0"/><circle cx="723.3" cy="244.7" r="5.0"/><circle cx="724.4" cy="244.6" r="5.0"/><circle cx="725.5" cy="244.4" r="5.0"/><circle cx="726.6" cy="243.1" r="5.0"/><circle cx="727.7" cy="244.6" r="5.0"/><circle cx="728.8" cy="245.0" r="5.0"/><circle cx="729.9" cy="245.2" r="5.0"/><circle cx="731.0" cy="243.8" r="5.0"/><circle cx="732.1" cy="245.9" r="5.0"/><circle cx="733.2" cy="243.8" r="5.0"/><circle cx="734.3" cy="245.0" r="5.0"/><circle cx="735.4" cy="246.7" r="5.0"/><circle cx="736.5" cy="244.5" r="5.0"/><circle cx="737.6" cy="244.8" r="5.0"/><circle cx="738.7" cy="246.6" r="5.0"/><circle cx="739.8" cy="245.0" r="5.0"/><circle cx="740.9" cy="245.1" r="5.0"/><circle cx="742.0" cy="245.7" r="5.0"/><circle cx="743.1" cy="246.7" r="5.0"/><circle cx="744.2" cy="243.1" r="5.0"/><circle cx="745.3" cy="244.7" r="5.0"/><circle cx="746.4" cy="244.5" r="5.0"/><circle cx="747.5" cy="244.5" r="5.0"/><circle cx="748.6" cy="244.7" r="5.0"/><circle cx="749.7" cy="244.8" r="5.0"/><circle cx="750.8" cy="246.1" r="5.0"/><circle cx="751.9" cy="244.8" r="5.0"/><circle cx="753.0" cy="246.0" r="5.0"/><circle cx="754.1" cy="246.3" r="5.0"/><circle cx="755.2" cy="245.1" r="5.0"/><circle cx="756.3" cy="246.1" r="5.0"/><circle cx="757.4" cy="247.8" r="5.0"/><circle cx="758.5" cy="246.4" r="5.0"/><circle cx="759.6" cy="245.4" r="5.0"/><circle cx="760.7" cy="246.0" r="5.0"/><circle cx="761.8" cy="245.1" r="5.0"/><circle cx="762.9" cy="246.5" r="5.0"/><circle cx="764.0" cy="247.1" r="5.0"/><circle cx="765.1" cy="245.3" r="5.0"/><circle cx="766.2" cy="246.0" r="5.0"/><circle cx="767.3" cy="247.5" r="5.0"/><circle cx="768.4" cy="245.8" r="5.0"/><circle cx="769.5" cy="246.6" r="5.0"/><circle cx="770.6" cy="245.3" r="5.0"/><circle cx="771.7" cy="245.5" r="5.0"/><circle cx="772.8" cy="245.9" r="5.0"/><circle cx="773.9" cy="248.8" r="5.0"/><circle cx="775.0" cy="246.1" r="5.0"/><circle cx="776.1" cy="246.0" r="5.0"/><circle cx="777.2" cy="246.0" r="5.0"/><circle cx="778.3" cy="246.5" r="5.0"/><circle cx="779.4" cy="247.4" r="5.0"/><circle cx="780.5" cy="246.9" r="5.0"/><circle cx="781.6" cy="249.0" r="5.0"/><circle cx="782.7" cy="247.0" r="5.0"/><circle cx="783.8" cy="248.4" r="5.0"/><circle cx="784.9" cy="247.2" r="5.0"/><circle cx="786.0" cy="247.5" r="5.0"/><circle cx="787.1" cy="245.4" r="5.0"/><circle cx="788.2" cy="246.8" r="5.0"/><circle cx="789.3" cy="246.9" r="5.0"/><circle cx="790.4" cy="246.8" r="5.0"/><circle cx="791.5" cy="244.8" r="5.0"/><circle cx="792.6" cy="248.0" r="5.0"/><circle cx="793.7" cy="246.7" r="5.0"/><circle cx="794.8" cy="246.7" r="5.0"/><circle cx="795.9" cy="246.9" r="5.0"/><circle cx="797.0" cy="247.0" r="5.0"/><circle cx="798.1" cy="247.7" r="5.0"/><circle cx="799.2" cy="246.0" r="5.0"/><circle cx="800.3" cy="246.4" r="5.0"/><circle cx="801.4" cy="247.7" r="5.0"/><circle cx="802.5" cy="247.6" r="5.0"/><circle cx="803.6" cy="247.1" r="5.0"/><circle cx="804.7" cy="246.9" r="5.0"/><circle cx="805.8" cy="246.7" r="5.0"/><circle cx="806.9" cy="247.5" r="5.0"/><circle cx="808.0" cy="248.9" r="5.0"/><circle cx="809.1" cy="246.6" r="5.0"/><circle cx="810.2" cy="249.3" r="5.0"/><circle cx="811.3" cy="248.7" r="5.0"/><circle cx="812.4" cy="247.3" r="5.0"/><circle cx="813.5" cy="248.7" r="5.0"/><circle cx="814.6" cy="246.4" r="5.0"/><circle cx="815.7" cy="246.1" r="5.0"/><circle cx="816.8" cy="246.6" r="5.0"/><circle cx="817.9" cy="247.6" r="5.0"/><circle cx="819.0" cy="247.7" r="5.0"/><circle cx="820.1" cy="247.6" r="5.0"/><circle cx="821.2" cy="248.3" r="5.0"/><circle cx="822.3" cy="246.0" r="5.0"/><circle cx="823.4" cy="248.8" r="5.0"/><circle cx="824.5" cy="246.8" r="5.0"/><circle cx="825.6" cy="247.6" r="5.0"/><circle cx="826.7" cy="247.9" r="5.0"/><circle cx="827.8" cy="247.2" r="5.0"/><circle cx="828.9" cy="247.0" r="5.0"/><circle cx="830.0" cy="247.4" r="5.0"/><circle cx="831.1" cy="248.5" r="5.0"/><circle cx="832.2" cy="249.2" r="5.0"/><circle cx="833.3" cy="249.2" r="5.0"/><circle cx="834.4" cy="247.6" r="5.0"/><circle cx="835.5" cy="247.9" r="5.0"/><circle cx="836.6" cy="247.8" r="5.0"/><circle cx="837.7" cy="249.3" r="5.0"/><circle cx="838.8" cy="246.7" r="5.0"/><circle cx="839.9" cy="250.2" r="5.0"/><circle cx="841.0" cy="248.4" r="5.0"/><circle cx="842.1" cy="248.2" r="5.0"/><circle cx="843.2" cy="249.4" r="5.0"/><circle cx="844.3" cy="250.1" r="5.0"/><circle cx="845.4" cy="249.5" r="5.0"/><circle cx="846.5" cy="250.3" r="5.0"/><circle cx="847.6" cy="249.3" r="5.0"/><circle cx="848.7" cy="250.5" r="5.0"/><circle cx="849.8" cy="250.6" r="5.0"/><circle cx="850.9" cy="249.2" r="5.0"/><circle cx="852.0" cy="250.9" r="5.0"/><circle cx="853.1" cy="249.6" r="5.0"/><circle cx="854.2" cy="249.6" r="5.0"/><circle cx="855.3" cy="248.6" r="5.0"/><circle cx="856.4" cy="249.3" r="5.0"/><circle cx="857.5" cy="250.4" r="5.0"/><circle cx="858.6" cy="248.3" r="5.0"/><circle cx="859.7" cy="250.4" r="5.0"/><circle cx="860.8" cy="250.1" r="5.0"/><circle cx="861.9" cy="250.1" r="5.0"/><circle cx="863.0" cy="247.6" r="5.0"/><circle cx="864.1" cy="249.8" r="5.0"/><circle cx="865.2" cy="250.6" r="5.0"/><circle cx="866.3" cy="249.2" r="5.0"/><circle cx="867.4" cy="250.1" r="5.0"/><circle cx="868.5" cy="247.6" r="5.0"/><circle cx="869.6" cy="250.8" r="5.0"/><circle cx="870.7" cy="249.5" r="5.0"/><circle cx="871.8" cy="251.1" r="5.0"/><circle cx="872.9" cy="248.4" r="5.0"/><circle cx="874.0" cy="251.0" r="5.0"/><circle cx="875.1" cy="250.1" r="5.0"/><circle cx="876.2" cy="251.3" r="5.0"/><circle cx="877.3" cy="249.5" r="5.0"/><circle cx="878.4" cy="249.9" r="5.0"/><circle cx="879.5" cy="252.9" r="5.0"/><circle cx="880.6" cy="249.8" r="5.0"/><circle cx="881.7" cy="250.0" r="5.0"/><circle cx="882.8" cy="250.4" r="5.0"/><circle cx="883.9" cy="249.7" r="5.0"/><circle cx="885.0" cy="252.1" r="5.0"/><circle cx="886.1" cy="252.7" r="5.0"/><circle cx="887.2" cy="250.2" r="5.0"/><circle cx="888.3" cy="249.2" r="5.0"/><circle cx="889.4" cy="252.2" r="5.0"/><circle cx="890.5" cy="252.2" r="5.0"/><circle cx="891.6" cy="252.0" r="5.0"/><circle cx="892.7" cy="252.4" r="5.0"/><circle cx="893.8" cy="250.4" r="5.0"/><circle cx="894.9" cy="251.1" r="5.0"/><circle cx="896.0" cy="249.9" r="5.0"/><circle cx="897.1" cy="250.0" r="5.0"/><circle cx="898.2" cy="252.5" r="5.0"/><circle cx="899.3" cy="250.8" r="5.0"/><circle cx="900.4" cy="253.9" r="5.0"/><circle cx="901.5" cy="251.7" r="5.0"/><circle cx="902.6" cy="251.0" r="5.0"/><circle cx="903.7" cy="252.5" r="5.0"/><circle cx="904.8" cy="253.6" r="5.0"/><circle cx="905.9" cy="252.3" r="5.0"/><circle cx="907.0" cy="250.7" r="5.0"/><circle cx="908.1" cy="252.3" r="5.0"/><circle cx="909.2" cy="253.4" r="5.0"/><circle cx="910.3" cy="251.6" r="5.0"/><circle cx="911.4" cy="251.3" r="5.0"/><circle cx="912.5" cy="253.2" r="5.0"/><circle cx="913.6" cy="252.4" r="5.0"/><circle cx="914.7" cy="251.2" r="5.0"/><circle cx="915.8" cy="252.0" r="5.0"/><circle cx="916.9" cy="251.6" r="5.0"/><circle cx="918.0" cy="252.8" r="5.0"/><circle cx="919.1" cy="252.6" r="5.0"/><circle cx="920.2" cy="253.8" r="5.0"/><circle cx="921.3" cy="253.4" r="5.0"/><circle cx="922.4" cy="251.1" r="5.0"/><circle cx="923.5" cy="253.2" r="5.0"/><circle cx="924.6" cy="253.7" r="5.0"/><circle cx="925.7" cy="253.3" r="5.0"/><circle cx="926.8" cy="254.0" r="5.0"/><circle cx="927.9" cy="252.4" r="5.0"/><circle cx="929.0" cy="252.1" r="5.0"/><circle cx="930.1" cy="254.1" r="5.0"/><circle cx="931.2" cy="252.1" r="5.0"/><circle cx="932.3" cy="251.1" r="5.0"/><circle cx="933.4" cy="254.3" r="5.0"/><circle cx="934.5" cy="252.6" r="5.0"/><circle cx="935.6" cy="253.1" r="5.0"/><circle cx="936.7" cy="252.1" r="5.0"/><circle cx="937.8" cy="252.2" r="5.0"/><circle cx="938.9" cy="252.5" r="5.0"/><circle cx="940.0" cy="253.3" r="5.0"/><circle cx="941.1" cy="254.1" r="5.0"/><circle cx="942.2" cy="251.5" r="5.0"/><circle cx="943.3" cy="254.6" r="5.0"/><circle cx="944.4" cy="252.8" r="5.0"/><circle cx="945.5" cy="252.9" r="5.0"/><circle cx="946.6" cy="254.8" r="5.0"/><circle cx="947.7" cy="254.1" r="5.0"/><circle cx="948.8" cy="252.7" r="5.0"/><circle cx="949.9" cy="256.1" r="5.0"/><circle cx="951.0" cy="253.5" r="5.0"/><circle cx="952.1" cy="254.7" r="5.0"/><circle cx="953.2" cy="254.7" r="5.0"/><circle cx="954.3" cy="256.0" r="5.0"/><circle cx="955.4" cy="254.2" r="5.0"/><circle cx="956.5" cy="255.7" r="5.0"/><circle cx="957.6" cy="254.0" r="5.0"/><circle cx="958.7" cy="255.9" r="5.0"/></g><g fill="none" stroke="#FF00FF" stroke-width="2.0"><circle cx="198.6" cy="318.5" r="3.9"/><circle cx="201.1" cy="322.6" r="3.9"/><circle cx="203.5" cy="329.5" r="3.9"/><circle cx="206.0" cy="330.9" r="3.9"/><circle cx="208.4" cy="334.4" r="3.9"/><circle cx="210.7" cy="341.4" r="3.9"/><circle cx="213.1" cy="342.6" r="3.9"/><circle cx="215.4" cy="344.8" r="3.9"/><circle cx="217.7" cy="350.8" r="3.9"/><circle cx="220.0" cy="351.7" r="3.9"/><circle cx="222.2" cy="358.3" r="3.9"/><circle cx="224.4" cy="361.5" r="3.9"/><circle cx="226.6" cy="362.0" r="3.9"/><circle cx="228.8" cy="364.7" r="3.9"/><circle cx="230.9" cy="368.5" r="3.9"/><circle cx="233.1" cy="370.9" r="3.9"/><circle cx="235.2" cy="372.0" r="3.9"/><circle cx="237.2" cy="376.2" r="3.9"/><circle cx="239.3" cy="374.5" r="3.9"/><circle cx="241.3" cy="378.0" r="3.9"/><circle cx="243.3" cy="379.3" r="3.9"/><circle cx="245.3" cy="380.5" r="3.9"/><circle cx="247.3" cy="382.2" r="3.9"/><circle cx="249.2" cy="381.1" r="3.9"/><circle cx="251.1" cy="384.2" r="3.9"/><circle cx="253.0" cy="384.0" r="3.9"/><circle cx="254.9" cy="384.1" r="3.9"/><circle cx="256.8" cy="383.8" r="3.9"/><circle cx="258.6" cy="384.5" r="3.9"/><circle cx="260.4" cy="386.8" r="3.9"/><circle cx="262.2" cy="385.6" r="3.9"/><circle cx="264.0" cy="387.2" r="3.9"/><circle cx="265.7" cy="388.8" r="3.9"/><circle cx="267.4" cy="389.0" r="3.9"/><circle cx="269.1" cy="390.0" r="3.9"/><circle cx="270.8" cy="388.0" r="3.9"/><circle cx="272.4" cy="387.3" r="3.9"/><circle cx="274.0" cy="390.0" r="3.9"/><circle cx="275.6" cy="389.4" r="3.9"/><circle cx="277.1" cy="390.6" r="3.9"/><circle cx="278.6" cy="389.5" r="3.9"/><circle cx="280.1" cy="391.0" r="3.9"/><circle cx="281.6" cy="390.8" r="3.9"/><circle cx="283.0" cy="390.7" r="3.9"/><circle cx="284.5" cy="390.6" r="3.9"/><circle cx="285.9" cy="390.6" r="3.9"/><circle cx="287.3" cy="390.5" r="3.9"/><circle cx="288.6" cy="390.6" r="3.9"/><circle cx="289.9" cy="391.6" r="3.9"/><circle cx="291.3" cy="390.0" r="3.9"/><circle cx="292.6" cy="392.6" r="3.9"/><circle cx="293.8" cy="390.6" r="3.9"/><circle cx="295.1" cy="391.9" r="3.9"/><circle cx="296.3" cy="390.8" r="3.9"/><circle cx="297.5" cy="390.7" r="3.9"/><circle cx="298.7" cy="393.3" r="3.9"/><circle cx="299.9" cy="390.8" r="3.9"/><circle cx="301.0" cy="389.8" r="3.9"/><circle cx="302.2" cy="390.5" r="3.9"/><circle cx="303.3" cy="391.0" r="3.9"/><circle cx="304.5" cy="393.7" r="3.9"/><circle cx="305.6" cy="391.6" r="3.9"/><circle cx="306.8" cy="392.5" r="3.9"/><circle cx="307.9" cy="390.4" r="3.9"/><circle cx="309.1" cy="392.0" r="3.9"/><circle cx="310.2" cy="392.4" r="3.9"/><circle cx="311.4" cy="393.7" r="3.9"/><circle cx="312.5" cy="391.1" r="3.9"/><circle cx="313.7" cy="392.6" r="3.9"/><circle cx="314.8" cy="392.4" r="3.9"/><circle cx="316.0" cy="391.0" r="3.9"/><circle cx="317.1" cy="392.2" r="3.9"/><circle cx="318.3" cy="392.0" r="3.9"/><circle cx="319.4" cy="389.8" r="3.9"/><circle cx="320.6" cy="393.2" r="3.9"/><circle cx="321.7" cy="393.2" r="3.9"/><circle cx="322.9" cy="392.2" r="3.9"/><circle cx="324.0" cy="391.3" r="3.9"/><circle cx="325.2" cy="394.5" r="3.9"/><circle cx="326.3" cy="393.3" r="3.9"/><circle cx="327.5" cy="394.3" r="3.9"/><circle cx="328.6" cy="394.8" r="3.9"/><circle cx="329.8" cy="392.8" r="3.9"/><circle cx="330.9" cy="394.4" r="3.9"/><circle cx="332.1" cy="393.3" r="3.9"/><circle cx="333.2" cy="393.7" r="3.9"/><circle cx="334.4" cy="393.8" r="3.9"/><circle cx="335.5" cy="394.0" r="3.9"/><circle cx="336.7" cy="395.3" r="3.9"/><circle cx="337.8" cy="394.4" r="3.9"/><circle cx="339.0" cy="394.2" r="3.9"/><circle cx="340.1" cy="394.2" r="3.9"/><circle cx="341.3" cy="395.1" r="3.9"/><circle cx="342.4" cy="394.0" r="3.9"/><circle cx="343.6" cy="394.6" r="3.9"/><circle cx="344.7" cy="395.3" r="3.9"/><circle cx="345.9" cy="395.0" r="3.9"/><circle cx="347.0" cy="395.7" r="3.9"/><circle cx="348.2" cy="395.4" r="3.9"/><circle cx="349.3" cy="398.4" r="3.9"/><circle cx="350.5" cy="397.9" r="3.9"/><circle cx="351.6" cy="397.1" r="3.9"/><circle cx="352.8" cy="396.7" r="3.9"/><circle cx="353.9" cy="399.4" r="3.9"/><circle cx="355.1" cy="397.5" r="3.9"/><circle cx="356.2" cy="397.2" r="3.9"/><circle cx="357.4" cy="397.8" r="3.9"/><circle cx="358.5" cy="397.9" r="3.9"/><circle cx="359.7" cy="399.3" r="3.9"/><circle cx="360.8" cy="397.8" r="3.9"/><circle cx="362.0" cy="400.3" r="3.9"/><circle cx="363.1" cy="397.1" r="3.9"/><circle cx="364.3" cy="399.0" r="3.9"/><circle cx="365.4" cy="397.2" r="3.9"/><circle cx="366.6" cy="400.4" r="3.9"/><circle cx="367.7" cy="398.1" r="3.9"/><circle cx="368.9" cy="398.5" r="3.9"/><circle cx="370.0" cy="399.7" r="3.9"/><circle cx="371.2" cy="400.1" r="3.9"/><circle cx="372.3" cy="397.6" r="3.9"/><circle cx="373.5" cy="398.5" r="3.9"/><circle cx="374.6" cy="397.5" r="3.9"/><circle cx="375.8" cy="399.2" r="3.9"/><circle cx="376.9" cy="399.1" r="3.9"/><circle cx="378.1" cy="398.9" r="3.9"/><circle cx="379.2" cy="398.6" r="3.9"/><circle cx="380.4" cy="399.1" r="3.9"/><circle cx="381.5" cy="399.0" r="3.9"/><circle cx="382.7" cy="400.6" r="3.9"/><circle cx="383.8" cy="401.8" r="3.9"/><circle cx="385.0" cy="398.1" r="3.9"/><circle cx="386.1" cy="400.2" r="3.9"/><circle cx="387.3" cy="399.9" r="3.9"/><circle cx="388.4" cy="401.0" r="3.9"/><circle cx="389.6" cy="399.5" r="3.9"/><circle cx="390.7" cy="400.4" r="3.9"/><circle cx="391.9" cy="399.5" r="3.9"/><circle cx="393.0" cy="401.5" r="3.9"/><circle cx="394.2" cy="400.9" r="3.9"/><circle cx="395.3" cy="400.6" r="3.9"/><circle cx="396.5" cy="401.3" r="3.9"/><circle cx="397.6" cy="400.7" r="3.9"/><circle cx="398.8" cy="399.3" r="3.9"/><circle cx="399.9" cy="401.7" r="3.9"/><circle cx="401.1" cy="401.4" r="3.9"/><circle cx="402.2" cy="401.0" r="3.9"/><circle cx="403.4" cy="402.2" r="3.9"/><circle cx="404.5" cy="402.5" r="3.9"/><circle cx="405.7" cy="400.1" r="3.9"/><circle cx="406.8" cy="400.5" r="3.9"/><circle cx="408.0" cy="403.0" r="3.9"/><circle cx="409.1" cy="402.9" r="3.9"/><circle cx="410.3" cy="400.7" r="3.9"/><circle cx="411.4" cy="400.2" r="3.9"/><circle cx="412.6" cy="400.8" r="3.9"/><circle cx="413.7" cy="401.0" r="3.9"/><circle cx="414.9" cy="399.9" r="3.9"/><circle cx="416.0" cy="401.7" r="3.9"/><circle cx="417.2" cy="400.3" r="3.9"/><circle cx="418.3" cy="400.4" r="3.9"/><circle cx="419.5" cy="402.8" r="3.9"/><circle cx="420.6" cy="401.1" r="3.9"/><circle cx="421.8" cy="401.8" r="3.9"/><circle cx="422.9" cy="402.6" r="3.9"/><circle cx="424.1" cy="402.8" r="3.9"/><circle cx="425.2" cy="401.6" r="3.9"/><circle cx="426.4" cy="402.1" r="3.9"/><circle cx="427.5" cy="401.2" r="3.9"/><circle cx="428.7" cy="404.0" r="3.9"/><circle cx="429.8" cy="402.9" r="3.9"/><circle cx="431.0" cy="401.0" r="3.9"/><circle cx="432.1" cy="402.3" r="3.9"/><circle cx="433.3" cy="403.1" r="3.9"/><circle cx="434.4" cy="402.9" r="3.9"/><circle cx="435.6" cy="404.4" r="3.9"/><circle cx="436.7" cy="403.9" r="3.9"/><circle cx="437.9" cy="401.9" r="3.9"/><circle cx="439.0" cy="402.4" r="3.9"/><circle cx="440.2" cy="401.2" r="3.9"/><circle cx="441.3" cy="402.9" r="3.9"/><circle cx="442.5" cy="402.8" r="3.9"/><circle cx="443.6" cy="405.6" r="3.9"/><circle cx="444.8" cy="402.8" r="3.9"/><circle cx="445.9" cy="400.5" r="3.9"/><circle cx="447.1" cy="402.1" r="3.9"/><circle cx="448.2" cy="402.9" r="3.9"/><circle cx="449.4" cy="401.5" r="3.9"/><circle cx="450.5" cy="402.0" r="3.9"/><circle cx="451.7" cy="402.6" r="3.9"/><circle cx="452.8" cy="403.4" r="3.9"/><circle cx="454.0" cy="402.8" r="3.9"/><circle cx="455.1" cy="402.1" r="3.9"/><circle cx="456.3" cy="404.0" r="3.9"/><circle cx="457.4" cy="402.6" r="3.9"/><circle cx="458.6" cy="402.6" r="3.9"/><circle cx="459.7" cy="401.7" r="3.9"/><circle cx="460.9" cy="402.4" r="3.9"/><circle cx="462.0" cy="404.0" r="3.9"/><circle cx="463.2" cy="401.6" r="3.9"/><circle cx="464.3" cy="403.3" r="3.9"/><circle cx="465.5" cy="404.2" r="3.9"/><circle cx="466.6" cy="403.1" r="3.9"/><circle cx="467.8" cy="403.8" r="3.9"/><circle cx="468.9" cy="402.3" r="3.9"/><circle cx="470.1" cy="405.0" r="3.9"/><circle cx="471.2" cy="404.8" r="3.9"/><circle cx="472.4" cy="403.9" r="3.9"/><circle cx="473.5" cy="401.8" r="3.9"/><circle cx="474.7" cy="402.6" r="3.9"/><circle cx="475.8" cy="404.8" r="3.9"/><circle cx="477.0" cy="405.7" r="3.9"/><circle cx="478.1" cy="404.2" r="3.9"/><circle cx="479.3" cy="405.2" r="3.9"/><circle cx="480.4" cy="403.3" r="3.9"/><circle cx="481.6" cy="403.8" r="3.9"/><circle cx="482.7" cy="404.0" r="3.9"/><circle cx="483.9" cy="404.5" r="3.9"/><circle cx="485.0" cy="402.5" r="3.9"/><circle cx="486.2" cy="405.1" r="3.9"/><circle cx="487.3" cy="405.6" r="3.9"/><circle cx="488.5" cy="403.0" r="3.9"/><circle cx="489.6" cy="402.8" r="3.9"/><circle cx="490.8" cy="404.7" r="3.9"/><circle cx="491.9" cy="403.6" r="3.9"/><circle cx="493.1" cy="401.8" r="3.9"/><circle cx="494.2" cy="405.3" r="3.9"/><circle cx="495.4" cy="404.6" r="3.9"/><circle cx="496.5" cy="404.0" r="3.9"/><circle cx="497.7" cy="406.8" r="3.9"/><circle cx="498.8" cy="404.7" r="3.9"/><circle cx="500.0" cy="403.8" r="3.9"/><circle cx="501.1" cy="404.8" r="3.9"/><circle cx="502.3" cy="403.6" r="3.9"/><circle cx="503.4" cy="403.9" r="3.9"/><circle cx="504.6" cy="405.2" r="3.9"/><circle cx="505.7" cy="404.2" r="3.9"/><circle cx="506.9" cy="404.4" r="3.9"/><circle cx="508.0" cy="406.7" r="3.9"/><circle cx="509.2" cy="405.9" r="3.9"/><circle cx="510.3" cy="405.9" r="3.9"/><circle cx="511.5" cy="405.6" r="3.9"/><circle cx="512.6" cy="405.6" r="3.9"/><circle cx="513.8" cy="406.7" r="3.9"/><circle cx="514.9" cy="405.1" r="3.9"/><circle cx="516.1" cy="407.2" r="3.9"/><circle cx="517.2" cy="404.2" r="3.9"/><circle cx="518.4" cy="405.0" r="3.9"/><circle cx="519.5" cy="403.9" r="3.9"/><circle cx="520.7" cy="405.0" r="3.9"/><circle cx="521.8" cy="406.0" r="3.9"/><circle cx="523.0" cy="407.0" r="3.9"/><circle cx="524.1" cy="404.8" r="3.9"/><circle cx="525.3" cy="405.5" r="3.9"/><circle cx="526.4" cy="405.2" r="3.9"/><circle cx="527.6" cy="404.8" r="3.9"/><circle cx="528.7" cy="404.4" r="3.9"/><circle cx="529.9" cy="405.8" r="3.9"/><circle cx="531.0" cy="403.9" r="3.9"/><circle cx="532.2" cy="405.9" r="3.9"/><circle cx="533.3" cy="405.8" r="3.9"/><circle cx="534.5" cy="405.2" r="3.9"/><circle cx="535.6" cy="404.8" r="3.9"/><circle cx="536.8" cy="404.5" r="3.9"/><circle cx="537.9" cy="408.0" r="3.9"/><circle cx="539.1" cy="404.6" r="3.9"/><circle cx="540.2" cy="407.7" r="3.9"/><circle cx="541.4" cy="406.7" r="3.9"/><circle cx="542.5" cy="405.7" r="3.9"/><circle cx="543.7" cy="404.9" r="3.9"/><circle cx="544.8" cy="407.3" r="3.9"/><circle cx="546.0" cy="408.1" r="3.9"/><circle cx="547.1" cy="405.3" r="3.9"/><circle cx="548.3" cy="406.0" r="3.9"/><circle cx="549.4" cy="407.5" r="3.9"/><circle cx="550.6" cy="406.7" r="3.9"/><circle cx="551.7" cy="408.5" r="3.9"/><circle cx="552.9" cy="405.8" r="3.9"/><circle cx="554.0" cy="407.1" r="3.9"/><circle cx="555.2" cy="405.2" r="3.9"/><circle cx="556.3" cy="408.8" r="3.9"/><circle cx="557.5" cy="405.8" r="3.9"/><circle cx="558.6" cy="404.3" r="3.9"/><circle cx="559.8" cy="406.5" r="3.9"/><circle cx="560.9" cy="406.5" r="3.9"/><circle cx="562.1" cy="408.7" r="3.9"/><circle cx="563.2" cy="406.4" r="3.9"/><circle cx="564.4" cy="406.8" r="3.9"/><circle cx="565.5" cy="407.4" r="3.9"/><circle cx="566.7" cy="408.5" r="3.9"/><circle cx="567.8" cy="406.8" r="3.9"/><circle cx="569.0" cy="408.0" r="3.9"/><circle cx="570.1" cy="407.5" r="3.9"/><circle cx="571.3" cy="406.6" r="3.9"/><circle cx="572.4" cy="407.1" r="3.9"/><circle cx="573.6" cy="407.1" r="3.9"/><circle cx="574.7" cy="406.1" r="3.9"/><circle cx="575.9" cy="408.4" r="3.9"/><circle cx="577.0" cy="405.6" r="3.9"/><circle cx="578.2" cy="408.4" r="3.9"/><circle cx="579.3" cy="408.2" r="3.9"/><circle cx="580.5" cy="407.1" r="3.9"/><circle cx="581.6" cy="406.4" r="3.9"/><circle cx="582.8" cy="407.0" r="3.9"/><circle cx="583.9" cy="407.8" r="3.9"/><circle cx="585.1" cy="408.1" r="3.9"/><circle cx="586.2" cy="407.6" r="3.9"/><circle cx="587.4" cy="408.4" r="3.9"/><circle cx="588.5" cy="406.8" r="3.9"/><circle cx="589.7" cy="407.6" r="3.9"/><circle cx="590.8" cy="405.8" r="3.9"/><circle cx="592.0" cy="408.3" r="3.9"/><circle cx="593.1" cy="407.6" r="3.9"/><circle cx="594.3" cy="407.1" r="3.9"/><circle cx="595.4" cy="408.7" r="3.9"/><circle cx="596.6" cy="408.3" r="3.9"/><circle cx="597.7" cy="404.6" r="3.9"/><circle cx="598.9" cy="407.6" r="3.9"/><circle cx="600.0" cy="406.1" r="3.9"/><circle cx="601.2" cy="408.8" r="3.9"/><circle cx="602.3" cy="410.3" r="3.9"/><circle cx="603.5" cy="407.1" r="3.9"/><circle cx="604.6" cy="407.8" r="3.9"/><circle cx="605.8" cy="407.5" r="3.9"/><circle cx="606.9" cy="408.1" r="3.9"/><circle cx="608.1" cy="408.5" r="3.9"/><circle cx="609.2" cy="409.2" r="3.9"/><circle cx="610.4" cy="406.8" r="3.9"/><circle cx="611.5" cy="409.5" r="3.9"/><circle cx="612.7" cy="406.9" r="3.9"/><circle cx="613.8" cy="408.2" r="3.9"/><circle cx="615.0" cy="409.1" r="3.9"/><circle cx="616.1" cy="408.7" r="3.9"/><circle cx="617.3" cy="407.0" r="3.9"/><circle cx="618.4" cy="407.2" r="3.9"/><circle cx="619.6" cy="407.5" r="3.9"/><circle cx="620.7" cy="408.0" r="3.9"/><circle cx="621.9" cy="409.2" r="3.9"/><circle cx="623.0" cy="406.7" r="3.9"/><circle cx="624.2" cy="408.6" r="3.9"/><circle cx="625.3" cy="408.7" r="3.9"/><circle cx="626.5" cy="408.7" r="3.9"/><circle cx="627.6" cy="408.6" r="3.9"/><circle cx="628.8" cy="409.7" r="3.9"/><circle cx="629.9" cy="408.7" r="3.9"/><circle cx="631.1" cy="409.1" r="3.9"/><circle cx="632.2" cy="408.8" r="3.9"/><circle cx="633.4" cy="410.1" r="3.9"/><circle cx="634.5" cy="406.3" r="3.9"/><circle cx="635.7" cy="409.6" r="3.9"/><circle cx="636.8" cy="408.0" r="3.9"/><circle cx="638.0" cy="408.0" r="3.9"/><circle cx="639.1" cy="407.3" r="3.9"/><circle cx="640.3" cy="406.4" r="3.9"/><circle cx="641.4" cy="408.0" r="3.9"/><circle cx="642.6" cy="407.7" r="3.9"/><circle cx="643.7" cy="408.9" r="3.9"/><circle cx="644.9" cy="406.9" r="3.9"/><circle cx="646.0" cy="409.9" r="3.9"/><circle cx="647.2" cy="408.7" r="3.9"/><circle cx="648.3" cy="408.2" r="3.9"/><circle cx="649.5" cy="407.7" r="3.9"/><circle cx="650.6" cy="407.7" r="3.9"/><circle cx="651.8" cy="407.3" r="3.9"/><circle cx="652.9" cy="408.0" r="3.9"/><circle cx="654.1" cy="408.6" r="3.9"/><circle cx="655.2" cy="408.4" r="3.9"/><circle cx="656.4" cy="407.1" r="3.9"/><circle cx="657.5" cy="408.3" r="3.9"/><circle cx="658.7" cy="407.7" r="3.9"/><circle cx="659.8" cy="408.8" r="3.9"/><circle cx="661.0" cy="410.6" r="3.9"/><circle cx="662.1" cy="409.3" r="3.9"/><circle cx="663.3" cy="408.4" r="3.9"/><circle cx="664.4" cy="407.0" r="3.9"/><circle cx="665.6" cy="407.3" r="3.9"/><circle cx="666.7" cy="407.0" r="3.9"/><circle cx="667.9" cy="409.5" r="3.9"/><circle cx="669.0" cy="408.0" r="3.9"/><circle cx="670.2" cy="408.9" r="3.9"/><circle cx="671.3" cy="408.2" r="3.9"/><circle cx="672.5" cy="408.9" r="3.9"/><circle cx="673.6" cy="410.3" r="3.9"/><circle cx="674.8" cy="408.2" r="3.9"/><circle cx="675.9" cy="408.5" r="3.9"/><circle cx="677.1" cy="408.1" r="3.9"/><circle cx="678.2" cy="409.8" r="3.9"/><circle cx="679.4" cy="407.9" r="3.9"/><circle cx="680.5" cy="407.8" r="3.9"/><circle cx="681.7" cy="407.5" r="3.9"/><circle cx="682.8" cy="407.5" r="3.9"/><circle cx="684.0" cy="409.5" r="3.9"/><circle cx="685.1" cy="411.7" r="3.9"/><circle cx="686.3" cy="408.0" r="3.9"/><circle cx="687.4" cy="410.0" r="3.9"/><circle cx="688.6" cy="409.3" r="3.9"/><circle cx="689.7" cy="407.9" r="3.9"/><circle cx="690.9" cy="408.8" r="3.9"/><circle cx="692.0" cy="408.9" r="3.9"/><circle cx="693.2" cy="408.4" r="3.9"/><circle cx="694.3" cy="411.2" r="3.9"/><circle cx="695.5" cy="407.2" r="3.9"/><circle cx="696.6" cy="409.6" r="3.9"/><circle cx="697.8" cy="409.5" r="3.9"/><circle cx="698.9" cy="408.6" r="3.9"/><circle cx="700.1" cy="409.4" r="3.9"/><circle cx="701.2" cy="410.2" r="3.9"/><circle cx="702.4" cy="409.4" r="3.9"/><circle cx="703.5" cy="409.7" r="3.9"/><circle cx="704.7" cy="410.0" r="3.9"/><circle cx="705.8" cy="407.2" r="3.9"/><circle cx="707.0" cy="410.9" r="3.9"/><circle cx="708.1" cy="411.7" r="3.9"/><circle cx="709.3" cy="410.4" r="3.9"/><circle cx="710.4" cy="410.4" r="3.9"/><circle cx="711.6" cy="407.9" r="3.9"/><circle cx="712.7" cy="409.3" r="3.9"/><circle cx="713.9" cy="408.6" r="3.9"/><circle cx="715.0" cy="408.8" r="3.9"/><circle cx="716.2" cy="410.4" r="3.9"/><circle cx="717.3" cy="408.6" r="3.9"/><circle cx="718.5" cy="409.3" r="3.9"/><circle cx="719.6" cy="407.5" r="3.9"/><circle cx="720.8" cy="409.3" r="3.9"/><circle cx="721.9" cy="409.6" r="3.9"/><circle cx="723.1" cy="408.8" r="3.9"/><circle cx="724.2" cy="408.8" r="3.9"/><circle cx="725.4" cy="411.5" r="3.9"/><circle cx="726.5" cy="408.3" r="3.9"/><circle cx="727.7" cy="408.5" r="3.9"/><circle cx="728.8" cy="408.8" r="3.9"/><circle cx="730.0" cy="410.9" r="3.9"/><circle cx="731.1" cy="411.8" r="3.9"/><circle cx="732.3" cy="410.0" r="3.9"/><circle cx="733.4" cy="408.9" r="3.9"/><circle cx="734.6" cy="409.2" r="3.9"/><circle cx="735.7" cy="410.8" r="3.9"/><circle cx="736.9" cy="408.8" r="3.9"/><circle cx="738.0" cy="411.2" r="3.9"/><circle cx="739.2" cy="411.2" r="3.9"/><circle cx="740.3" cy="409.8" r="3.9"/><circle cx="741.5" cy="410.4" r="3.9"/><circle cx="742.6" cy="410.6" r="3.9"/><circle cx="743.8" cy="411.4" r="3.9"/><circle cx="744.9" cy="408.7" r="3.9"/><circle cx="746.1" cy="411.0" r="3.9"/><circle cx="747.2" cy="409.4" r="3.9"/><circle cx="748.4" cy="409.1" r="3.9"/><circle cx="749.5" cy="410.0" r="3.9"/><circle cx="750.7" cy="409.7" r="3.9"/><circle cx="751.8" cy="408.9" r="3.9"/><circle cx="753.0" cy="408.3" r="3.9"/><circle cx="754.1" cy="408.9" r="3.9"/><circle cx="755.3" cy="411.4" r="3.9"/><circle cx="756.4" cy="412.0" r="3.9"/><circle cx="757.6" cy="410.6" r="3.9"/><circle cx="758.7" cy="411.2" r="3.9"/><circle cx="759.9" cy="409.5" r="3.9"/><circle cx="761.0" cy="409.9" r="3.9"/><circle cx="762.2" cy="410.3" r="3.9"/><circle cx="763.3" cy="408.9" r="3.9"/><circle cx="764.5" cy="409.0" r="3.9"/><circle cx="765.6" cy="410.2" r="3.9"/><circle cx="766.8" cy="409.7" r="3.9"/><circle cx="767.9" cy="409.0" r="3.9"/><circle cx="769.1" cy="410.5" r="3.9"/><circle cx="770.2" cy="409.8" r="3.9"/><circle cx="771.4" cy="411.2" r="3.9"/><circle cx="772.5" cy="410.1" r="3.9"/><circle cx="773.7" cy="409.8" r="3.9"/><circle cx="774.8" cy="410.3" r="3.9"/><circle cx="776.0" cy="410.0" r="3.9"/><circle cx="777.1" cy="409.5" r="3.9"/><circle cx="778.3" cy="409.8" r="3.9"/><circle cx="779.4" cy="411.0" r="3.9"/><circle cx="780.6" cy="410.9" r="3.9"/><circle cx="781.7" cy="411.6" r="3.9"/><circle cx="782.9" cy="408.5" r="3.9"/><circle cx="784.0" cy="409.9" r="3.9"/><circle cx="785.2" cy="409.9" r="3.9"/><circle cx="786.3" cy="410.5" r="3.9"/><circle cx="787.5" cy="409.8" r="3.9"/><circle cx="788.6" cy="409.8" r="3.9"/><circle cx="789.8" cy="411.1" r="3.9"/><circle cx="790.9" cy="410.5" r="3.9"/><circle cx="792.1" cy="409.2" r="3.9"/><circle cx="793.2" cy="411.7" r="3.9"/><circle cx="794.4" cy="411.4" r="3.9"/><circle cx="795.5" cy="409.8" r="3.9"/><circle cx="796.7" cy="411.3" r="3.9"/><circle cx="797.8" cy="409.7" r="3.9"/><circle cx="799.0" cy="411.6" r="3.9"/><circle cx="800.1" cy="410.2" r="3.9"/><circle cx="801.3" cy="409.7" r="3.9"/><circle cx="802.4" cy="410.2" r="3.9"/><circle cx="803.6" cy="409.8" r="3.9"/><circle cx="804.7" cy="410.8" r="3.9"/><circle cx="805.9" cy="410.8" r="3.9"/><circle cx="807.0" cy="410.7" r="3.9"/><circle cx="808.2" cy="410.2" r="3.9"/><circle cx="809.3" cy="407.0" r="3.9"/><circle cx="810.5" cy="410.9" r="3.9"/><circle cx="811.6" cy="408.9" r="3.9"/><circle cx="812.8" cy="411.2" r="3.9"/><circle cx="813.9" cy="412.1" r="3.9"/><circle cx="815.1" cy="411.3" r="3.9"/><circle cx="816.2" cy="410.6" r="3.9"/><circle cx="817.4" cy="410.9" r="3.9"/><circle cx="818.5" cy="411.0" r="3.9"/><circle cx="819.7" cy="410.6" r="3.9"/><circle cx="820.8" cy="410.6" r="3.9"/><circle cx="822.0" cy="410.3" r="3.9"/><circle cx="823.1" cy="412.5" r="3.9"/><circle cx="824.3" cy="411.3" r="3.9"/><circle cx="825.4" cy="412.4" r="3.9"/><circle cx="826.6" cy="411.2" r="3.9"/><circle cx="827.7" cy="411.5" r="3.9"/><circle cx="828.9" cy="411.3" r="3.9"/><circle cx="830.0" cy="412.0" r="3.9"/><circle cx="831.2" cy="412.4" r="3.9"/><circle cx="832.3" cy="411.9" r="3.9"/><circle cx="833.5" cy="411.0" r="3.9"/><circle cx="834.6" cy="410.9" r="3.9"/><circle cx="835.8" cy="413.5" r="3.9"/><circle cx="836.9" cy="411.5" r="3.9"/><circle cx="838.1" cy="411.6" r="3.9"/><circle cx="839.2" cy="413.4" r="3.9"/><circle cx="840.4" cy="413.0" r="3.9"/><circle cx="841.5" cy="412.5" r="3.9"/><circle cx="842.7" cy="411.6" r="3.9"/><circle cx="843.8" cy="414.4" r="3.9"/><circle cx="845.0" cy="412.5" r="3.9"/><circle cx="846.1" cy="412.7" r="3.9"/><circle cx="847.3" cy="412.0" r="3.9"/><circle cx="848.4" cy="410.8" r="3.9"/><circle cx="849.6" cy="410.9" r="3.9"/><circle cx="850.7" cy="412.7" r="3.9"/><circle cx="851.9" cy="412.7" r="3.9"/><circle cx="853.0" cy="412.1" r="3.9"/><circle cx="854.2" cy="411.2" r="3.9"/><circle cx="855.3" cy="411.0" r="3.9"/><circle cx="856.5" cy="412.2" r="3.9"/><circle cx="857.6" cy="411.1" r="3.9"/><circle cx="858.8" cy="413.5" r="3.9"/><circle cx="859.9" cy="413.8" r="3.9"/><circle cx="861.1" cy="415.5" r="3.9"/><circle cx="862.2" cy="413.6" r="3.9"/><circle cx="863.4" cy="412.2" r="3.9"/><circle cx="864.5" cy="411.9" r="3.9"/><circle cx="865.7" cy="409.3" r="3.9"/><circle cx="866.8" cy="412.3" r="3.9"/><circle cx="868.0" cy="412.7" r="3.9"/><circle cx="869.1" cy="413.9" r="3.9"/><circle cx="870.3" cy="413.6" r="3.9"/><circle cx="871.4" cy="413.6" r="3.9"/><circle cx="872.6" cy="413.3" r="3.9"/><circle cx="873.7" cy="413.8" r="3.9"/><circle cx="874.9" cy="414.6" r="3.9"/><circle cx="876.0" cy="412.1" r="3.9"/><circle cx="877.2" cy="412.8" r="3.9"/><circle cx="878.3" cy="411.9" r="3.9"/><circle cx="879.5" cy="415.0" r="3.9"/><circle cx="880.6" cy="414.7" r="3.9"/><circle cx="881.8" cy="414.2" r="3.9"/><circle cx="882.9" cy="412.2" r="3.9"/><circle cx="884.1" cy="413.7" r="3.9"/><circle cx="885.2" cy="413.3" r="3.9"/><circle cx="886.4" cy="413.7" r="3.9"/><circle cx="887.5" cy="413.4" r="3.9"/><circle cx="888.7" cy="414.2" r="3.9"/><circle cx="889.8" cy="413.3" r="3.9"/><circle cx="891.0" cy="414.6" r="3.9"/><circle cx="892.1" cy="414.0" r="3.9"/><circle cx="893.3" cy="413.5" r="3.9"/><circle cx="894.4" cy="413.8" r="3.9"/><circle cx="895.6" cy="413.5" r="3.9"/><circle cx="896.7" cy="414.8" r="3.9"/><circle cx="897.9" cy="413.7" r="3.9"/><circle cx="899.0" cy="414.3" r="3.9"/><circle cx="900.2" cy="413.7" r="3.9"/><circle cx="901.3" cy="412.6" r="3.9"/><circle cx="902.5" cy="415.1" r="3.9"/><circle cx="903.6" cy="413.2" r="3.9"/><circle cx="904.8" cy="415.0" r="3.9"/><circle cx="905.9" cy="414.9" r="3.9"/><circle cx="907.1" cy="412.8" r="3.9"/><circle cx="908.2" cy="413.6" r="3.9"/><circle cx="909.4" cy="414.1" r="3.9"/><circle cx="910.5" cy="413.9" r="3.9"/><circle cx="911.7" cy="413.6" r="3.9"/><circle cx="912.8" cy="415.6" r="3.9"/><circle cx="914.0" cy="414.7" r="3.9"/><circle cx="915.1" cy="415.4" r="3.9"/><circle cx="916.3" cy="414.6" r="3.9"/><circle cx="917.4" cy="415.4" r="3.9"/><circle cx="918.6" cy="414.5" r="3.9"/><circle cx="919.7" cy="415.3" r="3.9"/><circle cx="920.9" cy="415.9" r="3.9"/><circle cx="922.0" cy="415.5" r="3.9"/><circle cx="923.2" cy="415.0" r="3.9"/><circle cx="924.3" cy="414.5" r="3.9"/><circle cx="925.5" cy="415.8" r="3.9"/><circle cx="926.6" cy="416.0" r="3.9"/><circle cx="927.8" cy="415.5" r="3.9"/><circle cx="928.9" cy="415.1" r="3.9"/><circle cx="930.1" cy="416.5" r="3.9"/><circle cx="931.2" cy="418.5" r="3.9"/><circle cx="932.4" cy="415.7" r="3.9"/><circle cx="933.5" cy="416.5" r="3.9"/><circle cx="934.7" cy="416.6" r="3.9"/><circle cx="935.8" cy="413.7" r="3.9"/><circle cx="937.0" cy="416.5" r="3.9"/><circle cx="938.1" cy="415.7" r="3.9"/><circle cx="939.3" cy="417.9" r="3.9"/><circle cx="940.4" cy="416.3" r="3.9"/><circle cx="941.6" cy="415.8" r="3.9"/><circle cx="942.7" cy="416.5" r="3.9"/><circle cx="943.9" cy="416.9" r="3.9"/><circle cx="945.0" cy="416.3" r="3.9"/><circle cx="946.2" cy="416.8" r="3.9"/><circle cx="947.3" cy="415.6" r="3.9"/><circle cx="948.5" cy="416.8" r="3.9"/><circle cx="949.6" cy="417.9" r="3.9"/><circle cx="950.8" cy="419.1" r="3.9"/><circle cx="951.9" cy="417.9" r="3.9"/><circle cx="953.1" cy="417.6" r="3.9"/><circle cx="954.2" cy="418.6" r="3.9"/><circle cx="955.4" cy="418.5" r="3.9"/><circle cx="956.5" cy="419.2" r="3.9"/><circle cx="957.7" cy="418.7" r="3.9"/><circle cx="958.8" cy="417.5" r="3.9"/></g><g fill="none" stroke="#8000FF" stroke-width="2.0"><circle cx="198.6" cy="472.5" r="3.9"/><circle cx="201.1" cy="476.1" r="3.9"/><circle cx="203.5" cy="480.3" r="3.9"/><circle cx="206.0" cy="484.7" r="3.9"/><circle cx="208.4" cy="488.2" r="3.9"/><circle cx="210.7" cy="490.7" r="3.9"/><circle cx="213.1" cy="495.0" r="3.9"/><circle cx="215.4" cy="499.2" r="3.9"/><circle cx="217.7" cy="503.7" r="3.9"/><circle cx="220.0" cy="508.9" r="3.9"/><circle cx="222.2" cy="510.6" r="3.9"/><circle cx="224.4" cy="513.9" r="3.9"/><circle cx="226.6" cy="518.5" r="3.9"/><circle cx="228.8" cy="520.0" r="3.9"/><circle cx="230.9" cy="522.3" r="3.9"/><circle cx="233.1" cy="525.1" r="3.9"/><circle cx="235.2" cy="523.7" r="3.9"/><circle cx="237.2" cy="523.9" r="3.9"/><circle cx="239.3" cy="526.1" r="3.9"/><circle cx="241.3" cy="526.2" r="3.9"/><circle cx="243.3" cy="527.1" r="3.9"/><circle cx="245.3" cy="526.4" r="3.9"/><circle cx="247.3" cy="525.3" r="3.9"/><circle cx="249.2" cy="525.3" r="3.9"/><circle cx="251.1" cy="525.2" r="3.9"/><circle cx="253.0" cy="525.7" r="3.9"/><circle cx="254.9" cy="525.1" r="3.9"/><circle cx="256.8" cy="524.2" r="3.9"/><circle cx="258.6" cy="525.8" r="3.9"/><circle cx="260.4" cy="526.6" r="3.9"/><circle cx="262.2" cy="526.3" r="3.9"/><circle cx="264.0" cy="524.7" r="3.9"/><circle cx="265.7" cy="523.7" r="3.9"/><circle cx="267.4" cy="524.8" r="3.9"/><circle cx="269.1" cy="525.4" r="3.9"/><circle cx="270.8" cy="525.4" r="3.9"/><circle cx="272.4" cy="526.1" r="3.9"/><circle cx="274.0" cy="526.6" r="3.9"/><circle cx="275.6" cy="525.8" r="3.9"/><circle cx="277.1" cy="525.8" r="3.9"/><circle cx="278.6" cy="526.4" r="3.9"/><circle cx="280.1" cy="526.0" r="3.9"/><circle cx="281.6" cy="526.4" r="3.9"/><circle cx="283.0" cy="527.2" r="3.9"/><circle cx="284.5" cy="526.4" r="3.9"/><circle cx="285.9" cy="526.1" r="3.9"/><circle cx="287.3" cy="526.4" r="3.9"/><circle cx="288.6" cy="527.3" r="3.9"/><circle cx="289.9" cy="527.8" r="3.9"/><circle cx="291.3" cy="527.4" r="3.9"/><circle cx="292.6" cy="527.5" r="3.9"/><circle cx="293.8" cy="527.5" r="3.9"/><circle cx="295.1" cy="528.0" r="3.9"/><circle cx="296.3" cy="528.1" r="3.9"/><circle cx="297.5" cy="525.5" r="3.9"/><circle cx="298.7" cy="526.9" r="3.9"/><circle cx="299.9" cy="529.0" r="3.9"/><circle cx="301.0" cy="527.1" r="3.9"/><circle cx="302.2" cy="527.0" r="3.9"/><circle cx="303.3" cy="527.4" r="3.9"/><circle cx="304.5" cy="529.6" r="3.9"/><circle cx="305.6" cy="530.9" r="3.9"/><circle cx="306.8" cy="528.0" r="3.9"/><circle cx="307.9" cy="528.2" r="3.9"/><circle cx="309.1" cy="529.4" r="3.9"/><circle cx="310.2" cy="530.7" r="3.9"/><circle cx="311.4" cy="530.3" r="3.9"/><circle cx="312.5" cy="526.9" r="3.9"/><circle cx="313.7" cy="528.0" r="3.9"/><circle cx="314.8" cy="529.8" r="3.9"/><circle cx="316.0" cy="529.5" r="3.9"/><circle cx="317.1" cy="528.1" r="3.9"/><circle cx="318.3" cy="528.9" r="3.9"/><circle cx="319.4" cy="532.3" r="3.9"/><circle cx="320.6" cy="530.4" r="3.9"/><circle cx="321.7" cy="530.1" r="3.9"/><circle cx="322.9" cy="531.3" r="3.9"/><circle cx="324.0" cy="532.5" r="3.9"/><circle cx="325.2" cy="533.4" r="3.9"/><circle cx="326.3" cy="531.4" r="3.9"/><circle cx="327.5" cy="532.0" r="3.9"/><circle cx="328.6" cy="532.8" r="3.9"/><circle cx="329.8" cy="531.5" r="3.9"/><circle cx="330.9" cy="531.7" r="3.9"/><circle cx="332.1" cy="532.0" r="3.9"/><circle cx="333.2" cy="530.0" r="3.9"/><circle cx="334.4" cy="532.3" r="3.9"/><circle cx="335.5" cy="533.7" r="3.9"/><circle cx="336.7" cy="531.6" r="3.9"/><circle cx="337.8" cy="532.4" r="3.9"/><circle cx="339.0" cy="531.8" r="3.9"/><circle cx="340.1" cy="530.5" r="3.9"/><circle cx="341.3" cy="531.6" r="3.9"/><circle cx="342.4" cy="532.5" r="3.9"/><circle cx="343.6" cy="533.1" r="3.9"/><circle cx="344.7" cy="534.6" r="3.9"/><circle cx="345.9" cy="534.3" r="3.9"/><circle cx="347.0" cy="533.9" r="3.9"/><circle cx="348.2" cy="534.9" r="3.9"/><circle cx="349.3" cy="533.7" r="3.9"/><circle cx="350.5" cy="533.5" r="3.9"/><circle cx="351.6" cy="533.7" r="3.9"/><circle cx="352.8" cy="534.5" r="3.9"/><circle cx="353.9" cy="535.8" r="3.9"/><circle cx="355.1" cy="535.0" r="3.9"/><circle cx="356.2" cy="533.6" r="3.9"/><circle cx="357.4" cy="533.8" r="3.9"/><circle cx="358.5" cy="534.3" r="3.9"/><circle cx="359.7" cy="534.9" r="3.9"/><circle cx="360.8" cy="535.5" r="3.9"/><circle cx="362.0" cy="534.3" r="3.9"/><circle cx="363.1" cy="535.3" r="3.9"/><circle cx="364.3" cy="536.6" r="3.9"/><circle cx="365.4" cy="535.4" r="3.9"/><circle cx="366.6" cy="535.8" r="3.9"/><circle cx="367.7" cy="536.1" r="3.9"/><circle cx="368.9" cy="534.9" r="3.9"/><circle cx="370.0" cy="535.4" r="3.9"/><circle cx="371.2" cy="535.0" r="3.9"/><circle cx="372.3" cy="534.6" r="3.9"/><circle cx="373.5" cy="535.1" r="3.9"/><circle cx="374.6" cy="536.9" r="3.9"/><circle cx="375.8" cy="538.3" r="3.9"/><circle cx="376.9" cy="536.8" r="3.9"/><circle cx="378.1" cy="537.0" r="3.9"/><circle cx="379.2" cy="537.2" r="3.9"/><circle cx="380.4" cy="536.2" r="3.9"/><circle cx="381.5" cy="537.0" r="3.9"/><circle cx="382.7" cy="537.0" r="3.9"/><circle cx="383.8" cy="538.3" r="3.9"/><circle cx="385.0" cy="538.3" r="3.9"/><circle cx="386.1" cy="535.3" r="3.9"/><circle cx="387.3" cy="536.2" r="3.9"/><circle cx="388.4" cy="536.9" r="3.9"/><circle cx="389.6" cy="535.6" r="3.9"/><circle cx="390.7" cy="533.4" r="3.9"/><circle cx="391.9" cy="534.5" r="3.9"/><circle cx="393.0" cy="537.8" r="3.9"/><circle cx="394.2" cy="537.7" r="3.9"/><circle cx="395.3" cy="537.8" r="3.9"/><circle cx="396.5" cy="538.6" r="3.9"/><circle cx="397.6" cy="537.8" r="3.9"/><circle cx="398.8" cy="537.2" r="3.9"/><circle cx="399.9" cy="536.6" r="3.9"/><circle cx="401.1" cy="535.5" r="3.9"/><circle cx="402.2" cy="537.1" r="3.9"/><circle cx="403.4" cy="537.8" r="3.9"/><circle cx="404.5" cy="535.7" r="3.9"/><circle cx="405.7" cy="535.7" r="3.9"/><circle cx="406.8" cy="536.7" r="3.9"/><circle cx="408.0" cy="535.7" r="3.9"/><circle cx="409.1" cy="536.3" r="3.9"/><circle cx="410.3" cy="536.7" r="3.9"/><circle cx="411.4" cy="534.9" r="3.9"/><circle cx="412.6" cy="534.3" r="3.9"/><circle cx="413.7" cy="537.3" r="3.9"/><circle cx="414.9" cy="537.0" r="3.9"/><circle cx="416.0" cy="535.6" r="3.9"/><circle cx="417.2" cy="537.6" r="3.9"/><circle cx="418.3" cy="538.0" r="3.9"/><circle cx="419.5" cy="536.3" r="3.9"/><circle cx="420.6" cy="535.4" r="3.9"/><circle cx="421.8" cy="536.7" r="3.9"/><circle cx="422.9" cy="537.8" r="3.9"/><circle cx="424.1" cy="537.1" r="3.9"/><circle cx="425.2" cy="535.2" r="3.9"/><circle cx="426.4" cy="536.8" r="3.9"/><circle cx="427.5" cy="539.1" r="3.9"/><circle cx="428.7" cy="538.5" r="3.9"/><circle cx="429.8" cy="536.8" r="3.9"/><circle cx="431.0" cy="536.9" r="3.9"/><circle cx="432.1" cy="537.6" r="3.9"/><circle cx="433.3" cy="538.1" r="3.9"/><circle cx="434.4" cy="536.7" r="3.9"/><circle cx="435.6" cy="536.0" r="3.9"/><circle cx="436.7" cy="537.1" r="3.9"/><circle cx="437.9" cy="535.9" r="3.9"/><circle cx="439.0" cy="536.3" r="3.9"/><circle cx="440.2" cy="537.5" r="3.9"/><circle cx="441.3" cy="536.9" r="3.9"/><circle cx="442.5" cy="537.3" r="3.9"/><circle cx="443.6" cy="536.2" r="3.9"/><circle cx="444.8" cy="535.8" r="3.9"/><circle cx="445.9" cy="537.7" r="3.9"/><circle cx="447.1" cy="538.1" r="3.9"/><circle cx="448.2" cy="538.8" r="3.9"/><circle cx="449.4" cy="537.3" r="3.9"/><circle cx="450.5" cy="534.5" r="3.9"/><circle cx="451.7" cy="536.1" r="3.9"/><circle cx="452.8" cy="538.2" r="3.9"/><circle cx="454.0" cy="540.3" r="3.9"/><circle cx="455.1" cy="540.5" r="3.9"/><circle cx="456.3" cy="537.2" r="3.9"/><circle cx="457.4" cy="537.4" r="3.9"/><circle cx="458.6" cy="537.5" r="3.9"/><circle cx="459.7" cy="535.0" r="3.9"/><circle cx="460.9" cy="538.8" r="3.9"/><circle cx="462.0" cy="540.9" r="3.9"/><circle cx="463.2" cy="538.8" r="3.9"/><circle cx="464.3" cy="539.1" r="3.9"/><circle cx="465.5" cy="540.4" r="3.9"/><circle cx="466.6" cy="540.1" r="3.9"/><circle cx="467.8" cy="539.4" r="3.9"/><circle cx="468.9" cy="537.9" r="3.9"/><circle cx="470.1" cy="534.9" r="3.9"/><circle cx="471.2" cy="537.8" r="3.9"/><circle cx="472.4" cy="541.2" r="3.9"/><circle cx="473.5" cy="540.1" r="3.9"/><circle cx="474.7" cy="538.7" r="3.9"/><circle cx="475.8" cy="538.3" r="3.9"/><circle cx="477.0" cy="537.2" r="3.9"/><circle cx="478.1" cy="538.9" r="3.9"/><circle cx="479.3" cy="540.5" r="3.9"/><circle cx="480.4" cy="539.3" r="3.9"/><circle cx="481.6" cy="539.0" r="3.9"/><circle cx="482.7" cy="539.7" r="3.9"/><circle cx="483.9" cy="539.8" r="3.9"/><circle cx="485.0" cy="539.5" r="3.9"/><circle cx="486.2" cy="537.5" r="3.9"/><circle cx="487.3" cy="537.2" r="3.9"/><circle cx="488.5" cy="541.4" r="3.9"/><circle cx="489.6" cy="540.1" r="3.9"/><circle cx="490.8" cy="537.2" r="3.9"/><circle cx="491.9" cy="539.0" r="3.9"/><circle cx="493.1" cy="540.4" r="3.9"/><circle cx="494.2" cy="540.1" r="3.9"/><circle cx="495.4" cy="536.9" r="3.9"/><circle cx="496.5" cy="536.7" r="3.9"/><circle cx="497.7" cy="537.3" r="3.9"/><circle cx="498.8" cy="535.6" r="3.9"/><circle cx="500.0" cy="537.8" r="3.9"/><circle cx="501.1" cy="538.6" r="3.9"/><circle cx="502.3" cy="538.9" r="3.9"/><circle cx="503.4" cy="543.4" r="3.9"/><circle cx="504.6" cy="543.4" r="3.9"/><circle cx="505.7" cy="540.3" r="3.9"/><circle cx="506.9" cy="538.1" r="3.9"/><circle cx="508.0" cy="536.3" r="3.9"/><circle cx="509.2" cy="536.1" r="3.9"/><circle cx="510.3" cy="536.2" r="3.9"/><circle cx="511.5" cy="536.2" r="3.9"/><circle cx="512.6" cy="536.1" r="3.9"/><circle cx="513.8" cy="537.3" r="3.9"/><circle cx="514.9" cy="536.8" r="3.9"/><circle cx="516.1" cy="535.2" r="3.9"/><circle cx="517.2" cy="534.7" r="3.9"/><circle cx="518.4" cy="537.3" r="3.9"/><circle cx="519.5" cy="539.2" r="3.9"/><circle cx="520.7" cy="540.1" r="3.9"/><circle cx="521.8" cy="541.5" r="3.9"/><circle cx="523.0" cy="539.6" r="3.9"/><circle cx="524.1" cy="539.1" r="3.9"/><circle cx="525.3" cy="537.6" r="3.9"/><circle cx="526.4" cy="539.9" r="3.9"/><circle cx="527.6" cy="543.6" r="3.9"/><circle cx="528.7" cy="540.1" r="3.9"/><circle cx="529.9" cy="536.8" r="3.9"/><circle cx="531.0" cy="537.6" r="3.9"/><circle cx="532.2" cy="536.6" r="3.9"/><circle cx="533.3" cy="535.0" r="3.9"/><circle cx="534.5" cy="538.8" r="3.9"/><circle cx="535.6" cy="540.0" r="3.9"/><circle cx="536.8" cy="538.3" r="3.9"/><circle cx="537.9" cy="539.6" r="3.9"/><circle cx="539.1" cy="538.8" r="3.9"/><circle cx="540.2" cy="537.8" r="3.9"/><circle cx="541.4" cy="538.6" r="3.9"/><circle cx="542.5" cy="537.0" r="3.9"/><circle cx="543.7" cy="538.4" r="3.9"/><circle cx="544.8" cy="538.2" r="3.9"/><circle cx="546.0" cy="540.4" r="3.9"/><circle cx="547.1" cy="541.0" r="3.9"/><circle cx="548.3" cy="541.2" r="3.9"/><circle cx="549.4" cy="540.5" r="3.9"/><circle cx="550.6" cy="538.4" r="3.9"/><circle cx="551.7" cy="538.3" r="3.9"/><circle cx="552.9" cy="535.3" r="3.9"/><circle cx="554.0" cy="537.4" r="3.9"/><circle cx="555.2" cy="540.5" r="3.9"/><circle cx="556.3" cy="538.3" r="3.9"/><circle cx="557.5" cy="539.1" r="3.9"/><circle cx="558.6" cy="539.9" r="3.9"/><circle cx="559.8" cy="538.3" r="3.9"/><circle cx="560.9" cy="540.1" r="3.9"/><circle cx="562.1" cy="540.9" r="3.9"/><circle cx="563.2" cy="537.5" r="3.9"/><circle cx="564.4" cy="539.1" r="3.9"/><circle cx="565.5" cy="542.9" r="3.9"/><circle cx="566.7" cy="539.6" r="3.9"/><circle cx="567.8" cy="537.1" r="3.9"/><circle cx="569.0" cy="535.1" r="3.9"/><circle cx="570.1" cy="534.6" r="3.9"/><circle cx="571.3" cy="538.2" r="3.9"/><circle cx="572.4" cy="539.8" r="3.9"/><circle cx="573.6" cy="537.1" r="3.9"/><circle cx="574.7" cy="536.8" r="3.9"/><circle cx="575.9" cy="541.3" r="3.9"/><circle cx="577.0" cy="541.6" r="3.9"/><circle cx="578.2" cy="538.1" r="3.9"/><circle cx="579.3" cy="540.9" r="3.9"/><circle cx="580.5" cy="542.6" r="3.9"/><circle cx="581.6" cy="540.5" r="3.9"/><circle cx="582.8" cy="538.7" r="3.9"/><circle cx="583.9" cy="536.1" r="3.9"/><circle cx="585.1" cy="535.1" r="3.9"/><circle cx="586.2" cy="536.9" r="3.9"/><circle cx="587.4" cy="538.6" r="3.9"/><circle cx="588.5" cy="540.0" r="3.9"/><circle cx="589.7" cy="541.3" r="3.9"/><circle cx="590.8" cy="541.1" r="3.9"/><circle cx="592.0" cy="540.6" r="3.9"/><circle cx="593.1" cy="538.5" r="3.9"/><circle cx="594.3" cy="534.4" r="3.9"/><circle cx="595.4" cy="535.2" r="3.9"/><circle cx="596.6" cy="537.3" r="3.9"/><circle cx="597.7" cy="537.1" r="3.9"/><circle cx="598.9" cy="538.3" r="3.9"/><circle cx="600.0" cy="537.3" r="3.9"/><circle cx="601.2" cy="535.8" r="3.9"/><circle cx="602.3" cy="537.8" r="3.9"/><circle cx="603.5" cy="540.0" r="3.9"/><circle cx="604.6" cy="539.1" r="3.9"/><circle cx="605.8" cy="539.7" r="3.9"/><circle cx="606.9" cy="540.5" r="3.9"/><circle cx="608.1" cy="537.8" r="3.9"/><circle cx="609.2" cy="538.3" r="3.9"/><circle cx="610.4" cy="543.6" r="3.9"/><circle cx="611.5" cy="542.3" r="3.9"/><circle cx="612.7" cy="541.0" r="3.9"/><circle cx="613.8" cy="544.8" r="3.9"/><circle cx="615.0" cy="545.4" r="3.9"/><circle cx="616.1" cy="541.4" r="3.9"/><circle cx="617.3" cy="542.4" r="3.9"/><circle cx="618.4" cy="544.2" r="3.9"/><circle cx="619.6" cy="540.0" r="3.9"/><circle cx="620.7" cy="539.4" r="3.9"/><circle cx="621.9" cy="541.0" r="3.9"/><circle cx="623.0" cy="541.5" r="3.9"/><circle cx="624.2" cy="540.1" r="3.9"/><circle cx="625.3" cy="542.4" r="3.9"/><circle cx="626.5" cy="541.4" r="3.9"/><circle cx="627.6" cy="537.0" r="3.9"/><circle cx="628.8" cy="539.9" r="3.9"/><circle cx="629.9" cy="543.3" r="3.9"/><circle cx="631.1" cy="543.9" r="3.9"/><circle cx="632.2" cy="540.5" r="3.9"/><circle cx="633.4" cy="540.5" r="3.9"/><circle cx="634.5" cy="543.5" r="3.9"/><circle cx="635.7" cy="544.8" r="3.9"/><circle cx="636.8" cy="541.5" r="3.9"/><circle cx="638.0" cy="538.5" r="3.9"/><circle cx="639.1" cy="540.4" r="3.9"/><circle cx="640.3" cy="536.9" r="3.9"/><circle cx="641.4" cy="536.0" r="3.9"/><circle cx="642.6" cy="541.4" r="3.9"/><circle cx="643.7" cy="541.9" r="3.9"/><circle cx="644.9" cy="538.3" r="3.9"/><circle cx="646.0" cy="541.0" r="3.9"/><circle cx="647.2" cy="544.4" r="3.9"/><circle cx="648.3" cy="544.7" r="3.9"/><circle cx="649.5" cy="541.2" r="3.9"/><circle cx="650.6" cy="539.1" r="3.9"/><circle cx="651.8" cy="542.8" r="3.9"/><circle cx="652.9" cy="541.6" r="3.9"/><circle cx="654.1" cy="538.1" r="3.9"/><circle cx="655.2" cy="541.1" r="3.9"/><circle cx="656.4" cy="545.8" r="3.9"/><circle cx="657.5" cy="541.8" r="3.9"/><circle cx="658.7" cy="533.3" r="3.9"/><circle cx="659.8" cy="532.7" r="3.9"/><circle cx="661.0" cy="536.0" r="3.9"/><circle cx="662.1" cy="538.7" r="3.9"/><circle cx="663.3" cy="542.1" r="3.9"/><circle cx="664.4" cy="542.1" r="3.9"/><circle cx="665.6" cy="539.4" r="3.9"/><circle cx="666.7" cy="540.1" r="3.9"/><circle cx="667.9" cy="539.6" r="3.9"/><circle cx="669.0" cy="539.2" r="3.9"/><circle cx="670.2" cy="539.8" r="3.9"/><circle cx="671.3" cy="545.6" r="3.9"/><circle cx="672.5" cy="548.8" r="3.9"/><circle cx="673.6" cy="541.3" r="3.9"/><circle cx="674.8" cy="537.5" r="3.9"/><circle cx="675.9" cy="538.4" r="3.9"/><circle cx="677.1" cy="537.0" r="3.9"/><circle cx="678.2" cy="536.4" r="3.9"/><circle cx="679.4" cy="538.3" r="3.9"/><circle cx="680.5" cy="541.9" r="3.9"/><circle cx="681.7" cy="542.6" r="3.9"/><circle cx="682.8" cy="538.9" r="3.9"/><circle cx="684.0" cy="537.0" r="3.9"/><circle cx="685.1" cy="536.1" r="3.9"/><circle cx="686.3" cy="538.9" r="3.9"/><circle cx="687.4" cy="541.1" r="3.9"/><circle cx="688.6" cy="543.7" r="3.9"/><circle cx="689.7" cy="542.9" r="3.9"/><circle cx="690.9" cy="542.7" r="3.9"/><circle cx="692.0" cy="544.7" r="3.9"/><circle cx="693.2" cy="542.4" r="3.9"/><circle cx="694.3" cy="537.3" r="3.9"/><circle cx="695.5" cy="534.5" r="3.9"/><circle cx="696.6" cy="540.7" r="3.9"/><circle cx="697.8" cy="546.7" r="3.9"/><circle cx="698.9" cy="545.6" r="3.9"/><circle cx="700.1" cy="544.2" r="3.9"/><circle cx="701.2" cy="542.8" r="3.9"/><circle cx="702.4" cy="540.2" r="3.9"/><circle cx="703.5" cy="539.6" r="3.9"/><circle cx="704.7" cy="542.6" r="3.9"/><circle cx="705.8" cy="544.9" r="3.9"/><circle cx="707.0" cy="542.2" r="3.9"/><circle cx="708.1" cy="540.6" r="3.9"/><circle cx="709.3" cy="542.4" r="3.9"/><circle cx="710.4" cy="543.9" r="3.9"/><circle cx="711.6" cy="540.7" r="3.9"/><circle cx="712.7" cy="543.9" r="3.9"/><circle cx="713.9" cy="546.4" r="3.9"/><circle cx="715.0" cy="542.5" r="3.9"/><circle cx="716.2" cy="545.3" r="3.9"/><circle cx="717.3" cy="547.6" r="3.9"/><circle cx="718.5" cy="544.0" r="3.9"/><circle cx="719.6" cy="542.9" r="3.9"/><circle cx="720.8" cy="540.6" r="3.9"/><circle cx="721.9" cy="537.9" r="3.9"/><circle cx="723.1" cy="535.2" r="3.9"/><circle cx="724.2" cy="539.4" r="3.9"/><circle cx="725.4" cy="540.3" r="3.9"/><circle cx="726.5" cy="539.0" r="3.9"/><circle cx="727.7" cy="541.4" r="3.9"/><circle cx="728.8" cy="537.6" r="3.9"/><circle cx="730.0" cy="539.1" r="3.9"/><circle cx="731.1" cy="541.9" r="3.9"/><circle cx="732.3" cy="543.8" r="3.9"/><circle cx="733.4" cy="547.2" r="3.9"/><circle cx="734.6" cy="546.6" r="3.9"/><circle cx="735.7" cy="544.6" r="3.9"/><circle cx="736.9" cy="542.4" r="3.9"/><circle cx="738.0" cy="542.0" r="3.9"/><circle cx="739.2" cy="543.7" r="3.9"/><circle cx="740.3" cy="541.0" r="3.9"/><circle cx="741.5" cy="540.7" r="3.9"/><circle cx="742.6" cy="541.9" r="3.9"/><circle cx="743.8" cy="542.8" r="3.9"/><circle cx="744.9" cy="544.1" r="3.9"/><circle cx="746.1" cy="542.7" r="3.9"/><circle cx="747.2" cy="540.4" r="3.9"/><circle cx="748.4" cy="543.5" r="3.9"/><circle cx="749.5" cy="541.5" r="3.9"/><circle cx="750.7" cy="538.6" r="3.9"/><circle cx="751.8" cy="546.4" r="3.9"/><circle cx="753.0" cy="541.8" r="3.9"/><circle cx="754.1" cy="536.9" r="3.9"/><circle cx="755.3" cy="545.0" r="3.9"/><circle cx="756.4" cy="543.0" r="3.9"/><circle cx="757.6" cy="547.7" r="3.9"/><circle cx="758.7" cy="545.7" r="3.9"/><circle cx="759.9" cy="543.3" r="3.9"/><circle cx="761.0" cy="553.1" r="3.9"/><circle cx="762.2" cy="552.2" r="3.9"/><circle cx="763.3" cy="548.3" r="3.9"/><circle cx="764.5" cy="547.3" r="3.9"/><circle cx="765.6" cy="545.9" r="3.9"/><circle cx="766.8" cy="547.2" r="3.9"/><circle cx="767.9" cy="547.0" r="3.9"/><circle cx="769.1" cy="544.7" r="3.9"/><circle cx="770.2" cy="549.8" r="3.9"/><circle cx="771.4" cy="547.6" r="3.9"/><circle cx="772.5" cy="544.3" r="3.9"/><circle cx="773.7" cy="547.1" r="3.9"/><circle cx="774.8" cy="544.6" r="3.9"/><circle cx="776.0" cy="546.8" r="3.9"/><circle cx="777.1" cy="550.5" r="3.9"/><circle cx="778.3" cy="544.1" r="3.9"/><circle cx="779.4" cy="543.0" r="3.9"/><circle cx="780.6" cy="544.6" r="3.9"/><circle cx="781.7" cy="543.0" r="3.9"/><circle cx="782.9" cy="544.8" r="3.9"/><circle cx="784.0" cy="544.5" r="3.9"/><circle cx="785.2" cy="546.4" r="3.9"/><circle cx="786.3" cy="546.2" r="3.9"/><circle cx="787.5" cy="546.1" r="3.9"/><circle cx="788.6" cy="547.4" r="3.9"/><circle cx="789.8" cy="547.0" r="3.9"/><circle cx="790.9" cy="545.6" r="3.9"/><circle cx="792.1" cy="542.3" r="3.9"/><circle cx="793.2" cy="540.7" r="3.9"/><circle cx="794.4" cy="543.0" r="3.9"/><circle cx="795.5" cy="547.7" r="3.9"/><circle cx="796.7" cy="551.2" r="3.9"/><circle cx="797.8" cy="551.8" r="3.9"/><circle cx="799.0" cy="547.3" r="3.9"/><circle cx="800.1" cy="543.6" r="3.9"/><circle cx="801.3" cy="544.1" r="3.9"/><circle cx="802.4" cy="544.7" r="3.9"/><circle cx="803.6" cy="547.3" r="3.9"/><circle cx="804.7" cy="549.8" r="3.9"/><circle cx="805.9" cy="544.5" r="3.9"/><circle cx="807.0" cy="540.9" r="3.9"/><circle cx="808.2" cy="546.2" r="3.9"/><circle cx="809.3" cy="548.7" r="3.9"/><circle cx="810.5" cy="545.1" r="3.9"/><circle cx="811.6" cy="547.3" r="3.9"/><circle cx="812.8" cy="547.1" r="3.9"/><circle cx="813.9" cy="543.8" r="3.9"/><circle cx="815.1" cy="543.8" r="3.9"/><circle cx="816.2" cy="540.0" r="3.9"/><circle cx="817.4" cy="543.3" r="3.9"/><circle cx="818.5" cy="545.2" r="3.9"/><circle cx="819.7" cy="542.0" r="3.9"/><circle cx="820.8" cy="543.2" r="3.9"/><circle cx="822.0" cy="546.4" r="3.9"/><circle cx="823.1" cy="548.2" r="3.9"/><circle cx="824.3" cy="546.7" r="3.9"/><circle cx="825.4" cy="543.0" r="3.9"/><circle cx="826.6" cy="542.9" r="3.9"/><circle cx="827.7" cy="543.5" r="3.9"/><circle cx="828.9" cy="544.6" r="3.9"/><circle cx="830.0" cy="549.2" r="3.9"/><circle cx="831.2" cy="548.5" r="3.9"/><circle cx="832.3" cy="552.7" r="3.9"/><circle cx="833.5" cy="554.1" r="3.9"/><circle cx="834.6" cy="550.8" r="3.9"/><circle cx="835.8" cy="550.1" r="3.9"/><circle cx="836.9" cy="548.4" r="3.9"/><circle cx="838.1" cy="550.5" r="3.9"/><circle cx="839.2" cy="553.7" r="3.9"/><circle cx="840.4" cy="548.4" r="3.9"/><circle cx="841.5" cy="548.2" r="3.9"/><circle cx="842.7" cy="552.5" r="3.9"/><circle cx="843.8" cy="552.2" r="3.9"/><circle cx="845.0" cy="552.0" r="3.9"/><circle cx="846.1" cy="546.6" r="3.9"/><circle cx="847.3" cy="542.7" r="3.9"/><circle cx="848.4" cy="549.9" r="3.9"/><circle cx="849.6" cy="553.2" r="3.9"/><circle cx="850.7" cy="545.4" r="3.9"/><circle cx="851.9" cy="545.6" r="3.9"/><circle cx="853.0" cy="548.0" r="3.9"/><circle cx="854.2" cy="542.7" r="3.9"/><circle cx="855.3" cy="538.0" r="3.9"/><circle cx="856.5" cy="538.5" r="3.9"/><circle cx="857.6" cy="544.6" r="3.9"/><circle cx="858.8" cy="548.2" r="3.9"/><circle cx="859.9" cy="546.9" r="3.9"/><circle cx="861.1" cy="547.6" r="3.9"/><circle cx="862.2" cy="549.6" r="3.9"/><circle cx="863.4" cy="543.8" r="3.9"/><circle cx="864.5" cy="541.5" r="3.9"/><circle cx="865.7" cy="544.5" r="3.9"/><circle cx="866.8" cy="542.2" r="3.9"/><circle cx="868.0" cy="542.8" r="3.9"/><circle cx="869.1" cy="545.4" r="3.9"/><circle cx="870.3" cy="546.0" r="3.9"/><circle cx="871.4" cy="542.7" r="3.9"/><circle cx="872.6" cy="542.1" r="3.9"/><circle cx="873.7" cy="550.4" r="3.9"/><circle cx="874.9" cy="548.9" r="3.9"/><circle cx="876.0" cy="539.9" r="3.9"/><circle cx="877.2" cy="543.0" r="3.9"/><circle cx="878.3" cy="548.5" r="3.9"/><circle cx="879.5" cy="548.8" r="3.9"/><circle cx="880.6" cy="544.7" r="3.9"/><circle cx="881.8" cy="546.1" r="3.9"/><circle cx="882.9" cy="547.1" r="3.9"/><circle cx="884.1" cy="542.1" r="3.9"/><circle cx="885.2" cy="542.6" r="3.9"/><circle cx="886.4" cy="545.2" r="3.9"/><circle cx="887.5" cy="548.5" r="3.9"/><circle cx="888.7" cy="550.4" r="3.9"/><circle cx="889.8" cy="548.8" r="3.9"/><circle cx="891.0" cy="549.6" r="3.9"/><circle cx="892.1" cy="550.0" r="3.9"/><circle cx="893.3" cy="550.1" r="3.9"/><circle cx="894.4" cy="546.6" r="3.9"/><circle cx="895.6" cy="540.7" r="3.9"/><circle cx="896.7" cy="546.1" r="3.9"/><circle cx="897.9" cy="546.7" r="3.9"/><circle cx="899.0" cy="544.2" r="3.9"/><circle cx="900.2" cy="547.5" r="3.9"/><circle cx="901.3" cy="547.1" r="3.9"/><circle cx="902.5" cy="546.4" r="3.9"/><circle cx="903.6" cy="551.1" r="3.9"/><circle cx="904.8" cy="546.2" r="3.9"/><circle cx="905.9" cy="545.1" r="3.9"/><circle cx="907.1" cy="556.9" r="3.9"/><circle cx="908.2" cy="554.9" r="3.9"/><circle cx="909.4" cy="549.4" r="3.9"/><circle cx="910.5" cy="551.3" r="3.9"/><circle cx="911.7" cy="555.9" r="3.9"/><circle cx="912.8" cy="551.4" r="3.9"/><circle cx="914.0" cy="547.2" r="3.9"/><circle cx="915.1" cy="549.8" r="3.9"/><circle cx="916.3" cy="551.1" r="3.9"/><circle cx="917.4" cy="552.1" r="3.9"/><circle cx="918.6" cy="552.4" r="3.9"/><circle cx="919.7" cy="551.1" r="3.9"/><circle cx="920.9" cy="549.6" r="3.9"/><circle cx="922.0" cy="549.0" r="3.9"/><circle cx="923.2" cy="547.2" r="3.9"/><circle cx="924.3" cy="548.4" r="3.9"/><circle cx="925.5" cy="549.6" r="3.9"/><circle cx="926.6" cy="547.1" r="3.9"/><circle cx="927.8" cy="551.2" r="3.9"/><circle cx="928.9" cy="553.7" r="3.9"/><circle cx="930.1" cy="546.4" r="3.9"/><circle cx="931.2" cy="549.4" r="3.9"/><circle cx="932.4" cy="550.9" r="3.9"/><circle cx="933.5" cy="549.4" r="3.9"/><circle cx="934.7" cy="551.1" r="3.9"/><circle cx="935.8" cy="550.5" r="3.9"/><circle cx="937.0" cy="550.9" r="3.9"/><circle cx="938.1" cy="548.8" r="3.9"/><circle cx="939.3" cy="548.4" r="3.9"/><circle cx="940.4" cy="554.8" r="3.9"/><circle cx="941.6" cy="549.1" r="3.9"/><circle cx="942.7" cy="544.2" r="3.9"/><circle cx="943.9" cy="550.8" r="3.9"/><circle cx="945.0" cy="547.9" r="3.9"/><circle cx="946.2" cy="543.4" r="3.9"/><circle cx="947.3" cy="551.3" r="3.9"/><circle cx="948.5" cy="553.7" r="3.9"/><circle cx="949.6" cy="553.5" r="3.9"/><circle cx="950.8" cy="555.7" r="3.9"/><circle cx="951.9" cy="550.7" r="3.9"/><circle cx="953.1" cy="550.5" r="3.9"/><circle cx="954.2" cy="551.8" r="3.9"/><circle cx="955.4" cy="553.5" r="3.9"/><circle cx="956.5" cy="553.0" r="3.9"/><circle cx="957.7" cy="550.4" r="3.9"/><circle cx="958.8" cy="549.7" r="3.9"/></g><g fill="none" stroke="#FF8000" stroke-width="2.0"><circle cx="198.6" cy="578.6" r="3.9"/><circle cx="201.1" cy="595.4" r="3.9"/><circle cx="203.5" cy="603.7" r="3.9"/><circle cx="206.0" cy="609.1" r="3.9"/><circle cx="208.4" cy="615.3" r="3.9"/><circle cx="210.7" cy="619.1" r="3.9"/><circle cx="213.1" cy="620.8" r="3.9"/><circle cx="215.4" cy="621.6" r="3.9"/><circle cx="217.7" cy="621.8" r="3.9"/><circle cx="220.0" cy="622.7" r="3.9"/><circle cx="222.2" cy="623.3" r="3.9"/><circle cx="224.4" cy="622.4" r="3.9"/><circle cx="226.6" cy="623.0" r="3.9"/><circle cx="228.8" cy="622.5" r="3.9"/><circle cx="230.9" cy="623.2" r="3.9"/><circle cx="233.1" cy="624.0" r="3.9"/><circle cx="235.2" cy="621.4" r="3.9"/><circle cx="237.2" cy="620.1" r="3.9"/><circle cx="239.3" cy="617.1" r="3.9"/><circle cx="241.3" cy="617.7" r="3.9"/><circle cx="243.3" cy="620.9" r="3.9"/><circle cx="245.3" cy="623.4" r="3.9"/><circle cx="247.3" cy="622.8" r="3.9"/><circle cx="249.2" cy="623.7" r="3.9"/><circle cx="251.1" cy="625.5" r="3.9"/><circle cx="253.0" cy="625.2" r="3.9"/><circle cx="254.9" cy="623.9" r="3.9"/><circle cx="256.8" cy="624.0" r="3.9"/><circle cx="258.6" cy="626.7" r="3.9"/><circle cx="260.4" cy="627.8" r="3.9"/><circle cx="262.2" cy="628.8" r="3.9"/><circle cx="264.0" cy="627.7" r="3.9"/><circle cx="265.7" cy="629.1" r="3.9"/><circle cx="267.4" cy="631.3" r="3.9"/><circle cx="269.1" cy="631.5" r="3.9"/><circle cx="270.8" cy="632.3" r="3.9"/><circle cx="272.4" cy="633.2" r="3.9"/><circle cx="274.0" cy="632.7" r="3.9"/><circle cx="275.6" cy="630.8" r="3.9"/><circle cx="277.1" cy="629.9" r="3.9"/><circle cx="278.6" cy="632.9" r="3.9"/><circle cx="280.1" cy="635.2" r="3.9"/><circle cx="281.6" cy="634.4" r="3.9"/><circle cx="283.0" cy="633.7" r="3.9"/><circle cx="284.5" cy="633.9" r="3.9"/><circle cx="285.9" cy="634.7" r="3.9"/><circle cx="287.3" cy="634.6" r="3.9"/><circle cx="288.6" cy="634.2" r="3.9"/><circle cx="289.9" cy="636.9" r="3.9"/><circle cx="291.3" cy="638.1" r="3.9"/><circle cx="292.6" cy="635.7" r="3.9"/><circle cx="293.8" cy="634.5" r="3.9"/><circle cx="295.1" cy="634.6" r="3.9"/><circle cx="296.3" cy="636.8" r="3.9"/><circle cx="297.5" cy="638.5" r="3.9"/><circle cx="298.7" cy="637.9" r="3.9"/><circle cx="299.9" cy="637.4" r="3.9"/><circle cx="301.0" cy="637.6" r="3.9"/><circle cx="302.2" cy="636.7" r="3.9"/><circle cx="303.3" cy="638.4" r="3.9"/><circle cx="304.5" cy="640.1" r="3.9"/><circle cx="305.6" cy="641.5" r="3.9"/><circle cx="306.8" cy="640.6" r="3.9"/><circle cx="307.9" cy="638.3" r="3.9"/><circle cx="309.1" cy="640.1" r="3.9"/><circle cx="310.2" cy="640.2" r="3.9"/><circle cx="311.4" cy="638.1" r="3.9"/><circle cx="312.5" cy="637.7" r="3.9"/><circle cx="313.7" cy="639.3" r="3.9"/><circle cx="314.8" cy="640.8" r="3.9"/><circle cx="316.0" cy="640.8" r="3.9"/><circle cx="317.1" cy="641.6" r="3.9"/><circle cx="318.3" cy="642.9" r="3.9"/><circle cx="319.4" cy="642.4" r="3.9"/><circle cx="320.6" cy="641.6" r="3.9"/><circle cx="321.7" cy="641.3" r="3.9"/><circle cx="322.9" cy="642.0" r="3.9"/><circle cx="324.0" cy="643.3" r="3.9"/><circle cx="325.2" cy="643.0" r="3.9"/><circle cx="326.3" cy="642.7" r="3.9"/><circle cx="327.5" cy="642.5" r="3.9"/><circle cx="328.6" cy="640.8" r="3.9"/><circle cx="329.8" cy="640.3" r="3.9"/><circle cx="330.9" cy="642.6" r="3.9"/><circle cx="332.1" cy="644.2" r="3.9"/><circle cx="333.2" cy="645.2" r="3.9"/><circle cx="334.4" cy="645.0" r="3.9"/><circle cx="335.5" cy="644.4" r="3.9"/><circle cx="336.7" cy="645.8" r="3.9"/><circle cx="337.8" cy="646.1" r="3.9"/><circle cx="339.0" cy="644.3" r="3.9"/><circle cx="340.1" cy="643.3" r="3.9"/><circle cx="341.3" cy="644.2" r="3.9"/><circle cx="342.4" cy="643.5" r="3.9"/><circle cx="343.6" cy="644.0" r="3.9"/><circle cx="344.7" cy="646.3" r="3.9"/><circle cx="345.9" cy="645.4" r="3.9"/><circle cx="347.0" cy="646.6" r="3.9"/><circle cx="348.2" cy="646.9" r="3.9"/><circle cx="349.3" cy="644.9" r="3.9"/><circle cx="350.5" cy="645.1" r="3.9"/><circle cx="351.6" cy="644.8" r="3.9"/><circle cx="352.8" cy="645.6" r="3.9"/><circle cx="353.9" cy="646.6" r="3.9"/><circle cx="355.1" cy="648.1" r="3.9"/><circle cx="356.2" cy="649.0" r="3.9"/><circle cx="357.4" cy="648.4" r="3.9"/><circle cx="358.5" cy="647.9" r="3.9"/><circle cx="359.7" cy="646.1" r="3.9"/><circle cx="360.8" cy="646.3" r="3.9"/><circle cx="362.0" cy="647.1" r="3.9"/><circle cx="363.1" cy="648.3" r="3.9"/><circle cx="364.3" cy="649.2" r="3.9"/><circle cx="365.4" cy="650.1" r="3.9"/><circle cx="366.6" cy="651.0" r="3.9"/><circle cx="367.7" cy="650.2" r="3.9"/><circle cx="368.9" cy="649.8" r="3.9"/><circle cx="370.0" cy="649.2" r="3.9"/><circle cx="371.2" cy="649.7" r="3.9"/><circle cx="372.3" cy="650.5" r="3.9"/><circle cx="373.5" cy="649.2" r="3.9"/><circle cx="374.6" cy="648.8" r="3.9"/><circle cx="375.8" cy="652.4" r="3.9"/><circle cx="376.9" cy="651.9" r="3.9"/><circle cx="378.1" cy="648.9" r="3.9"/><circle cx="379.2" cy="648.3" r="3.9"/><circle cx="380.4" cy="647.1" r="3.9"/><circle cx="381.5" cy="649.2" r="3.9"/><circle cx="382.7" cy="650.9" r="3.9"/><circle cx="383.8" cy="650.0" r="3.9"/><circle cx="385.0" cy="652.0" r="3.9"/><circle cx="386.1" cy="654.5" r="3.9"/><circle cx="387.3" cy="651.6" r="3.9"/><circle cx="388.4" cy="650.1" r="3.9"/><circle cx="389.6" cy="651.8" r="3.9"/><circle cx="390.7" cy="651.2" r="3.9"/><circle cx="391.9" cy="651.1" r="3.9"/><circle cx="393.0" cy="650.7" r="3.9"/><circle cx="394.2" cy="652.0" r="3.9"/><circle cx="395.3" cy="652.8" r="3.9"/><circle cx="396.5" cy="651.4" r="3.9"/><circle cx="397.6" cy="652.2" r="3.9"/><circle cx="398.8" cy="652.9" r="3.9"/><circle cx="399.9" cy="652.1" r="3.9"/><circle cx="401.1" cy="651.5" r="3.9"/><circle cx="402.2" cy="653.1" r="3.9"/><circle cx="403.4" cy="653.4" r="3.9"/><circle cx="404.5" cy="651.3" r="3.9"/><circle cx="405.7" cy="649.8" r="3.9"/><circle cx="406.8" cy="649.5" r="3.9"/><circle cx="408.0" cy="649.3" r="3.9"/><circle cx="409.1" cy="649.9" r="3.9"/><circle cx="410.3" cy="651.5" r="3.9"/><circle cx="411.4" cy="649.0" r="3.9"/><circle cx="412.6" cy="648.8" r="3.9"/><circle cx="413.7" cy="652.1" r="3.9"/><circle cx="414.9" cy="652.3" r="3.9"/><circle cx="416.0" cy="650.5" r="3.9"/><circle cx="417.2" cy="651.9" r="3.9"/><circle cx="418.3" cy="652.2" r="3.9"/><circle cx="419.5" cy="649.2" r="3.9"/><circle cx="420.6" cy="648.8" r="3.9"/><circle cx="421.8" cy="650.4" r="3.9"/><circle cx="422.9" cy="653.0" r="3.9"/><circle cx="424.1" cy="654.5" r="3.9"/><circle cx="425.2" cy="653.6" r="3.9"/><circle cx="426.4" cy="650.7" r="3.9"/><circle cx="427.5" cy="649.7" r="3.9"/><circle cx="428.7" cy="650.1" r="3.9"/><circle cx="429.8" cy="650.8" r="3.9"/><circle cx="431.0" cy="649.7" r="3.9"/><circle cx="432.1" cy="650.1" r="3.9"/><circle cx="433.3" cy="653.3" r="3.9"/><circle cx="434.4" cy="653.0" r="3.9"/><circle cx="435.6" cy="652.8" r="3.9"/><circle cx="436.7" cy="651.8" r="3.9"/><circle cx="437.9" cy="649.4" r="3.9"/><circle cx="439.0" cy="649.9" r="3.9"/><circle cx="440.2" cy="653.3" r="3.9"/><circle cx="441.3" cy="655.6" r="3.9"/><circle cx="442.5" cy="653.5" r="3.9"/><circle cx="443.6" cy="653.8" r="3.9"/><circle cx="444.8" cy="654.0" r="3.9"/><circle cx="445.9" cy="654.5" r="3.9"/><circle cx="447.1" cy="655.6" r="3.9"/><circle cx="448.2" cy="653.1" r="3.9"/><circle cx="449.4" cy="653.6" r="3.9"/><circle cx="450.5" cy="653.2" r="3.9"/><circle cx="451.7" cy="650.9" r="3.9"/><circle cx="452.8" cy="650.0" r="3.9"/><circle cx="454.0" cy="651.7" r="3.9"/><circle cx="455.1" cy="653.7" r="3.9"/><circle cx="456.3" cy="653.2" r="3.9"/><circle cx="457.4" cy="652.8" r="3.9"/><circle cx="458.6" cy="655.0" r="3.9"/><circle cx="459.7" cy="655.0" r="3.9"/><circle cx="460.9" cy="652.1" r="3.9"/><circle cx="462.0" cy="654.4" r="3.9"/><circle cx="463.2" cy="657.5" r="3.9"/><circle cx="464.3" cy="656.3" r="3.9"/><circle cx="465.5" cy="651.9" r="3.9"/><circle cx="466.6" cy="650.6" r="3.9"/><circle cx="467.8" cy="654.0" r="3.9"/><circle cx="468.9" cy="654.9" r="3.9"/><circle cx="470.1" cy="656.3" r="3.9"/><circle cx="471.2" cy="654.4" r="3.9"/><circle cx="472.4" cy="653.2" r="3.9"/><circle cx="473.5" cy="654.3" r="3.9"/><circle cx="474.7" cy="655.3" r="3.9"/><circle cx="475.8" cy="656.2" r="3.9"/><circle cx="477.0" cy="655.8" r="3.9"/><circle cx="478.1" cy="655.0" r="3.9"/><circle cx="479.3" cy="651.5" r="3.9"/><circle cx="480.4" cy="650.9" r="3.9"/><circle cx="481.6" cy="652.1" r="3.9"/><circle cx="482.7" cy="652.3" r="3.9"/><circle cx="483.9" cy="655.0" r="3.9"/><circle cx="485.0" cy="658.6" r="3.9"/><circle cx="486.2" cy="657.3" r="3.9"/><circle cx="487.3" cy="653.7" r="3.9"/><circle cx="488.5" cy="653.2" r="3.9"/><circle cx="489.6" cy="653.8" r="3.9"/><circle cx="490.8" cy="656.2" r="3.9"/><circle cx="491.9" cy="657.8" r="3.9"/><circle cx="493.1" cy="656.4" r="3.9"/><circle cx="494.2" cy="655.3" r="3.9"/><circle cx="495.4" cy="651.6" r="3.9"/><circle cx="496.5" cy="651.0" r="3.9"/><circle cx="497.7" cy="652.4" r="3.9"/><circle cx="498.8" cy="654.3" r="3.9"/><circle cx="500.0" cy="656.2" r="3.9"/><circle cx="501.1" cy="654.5" r="3.9"/><circle cx="502.3" cy="653.8" r="3.9"/><circle cx="503.4" cy="657.7" r="3.9"/><circle cx="504.6" cy="656.9" r="3.9"/><circle cx="505.7" cy="653.1" r="3.9"/><circle cx="506.9" cy="654.4" r="3.9"/><circle cx="508.0" cy="654.8" r="3.9"/><circle cx="509.2" cy="654.6" r="3.9"/><circle cx="510.3" cy="656.7" r="3.9"/><circle cx="511.5" cy="660.2" r="3.9"/><circle cx="512.6" cy="656.7" r="3.9"/><circle cx="513.8" cy="654.0" r="3.9"/><circle cx="514.9" cy="657.0" r="3.9"/><circle cx="516.1" cy="657.0" r="3.9"/><circle cx="517.2" cy="656.8" r="3.9"/><circle cx="518.4" cy="656.5" r="3.9"/><circle cx="519.5" cy="658.5" r="3.9"/><circle cx="520.7" cy="658.4" r="3.9"/><circle cx="521.8" cy="656.7" r="3.9"/><circle cx="523.0" cy="657.6" r="3.9"/><circle cx="524.1" cy="658.1" r="3.9"/><circle cx="525.3" cy="657.9" r="3.9"/><circle cx="526.4" cy="659.5" r="3.9"/><circle cx="527.6" cy="659.9" r="3.9"/><circle cx="528.7" cy="658.6" r="3.9"/><circle cx="529.9" cy="658.7" r="3.9"/><circle cx="531.0" cy="656.9" r="3.9"/><circle cx="532.2" cy="655.7" r="3.9"/><circle cx="533.3" cy="655.7" r="3.9"/><circle cx="534.5" cy="657.5" r="3.9"/><circle cx="535.6" cy="658.2" r="3.9"/><circle cx="536.8" cy="656.2" r="3.9"/><circle cx="537.9" cy="657.9" r="3.9"/><circle cx="539.1" cy="660.7" r="3.9"/><circle cx="540.2" cy="657.4" r="3.9"/><circle cx="541.4" cy="659.4" r="3.9"/><circle cx="542.5" cy="662.5" r="3.9"/><circle cx="543.7" cy="659.5" r="3.9"/><circle cx="544.8" cy="661.3" r="3.9"/><circle cx="546.0" cy="661.7" r="3.9"/><circle cx="547.1" cy="658.9" r="3.9"/><circle cx="548.3" cy="662.6" r="3.9"/><circle cx="549.4" cy="661.8" r="3.9"/><circle cx="550.6" cy="658.0" r="3.9"/><circle cx="551.7" cy="661.3" r="3.9"/><circle cx="552.9" cy="659.7" r="3.9"/><circle cx="554.0" cy="658.1" r="3.9"/><circle cx="555.2" cy="660.7" r="3.9"/><circle cx="556.3" cy="665.0" r="3.9"/><circle cx="557.5" cy="662.9" r="3.9"/><circle cx="558.6" cy="658.7" r="3.9"/><circle cx="559.8" cy="661.4" r="3.9"/><circle cx="560.9" cy="661.7" r="3.9"/><circle cx="562.1" cy="658.5" r="3.9"/><circle cx="563.2" cy="659.1" r="3.9"/><circle cx="564.4" cy="661.5" r="3.9"/><circle cx="565.5" cy="661.6" r="3.9"/><circle cx="566.7" cy="663.4" r="3.9"/><circle cx="567.8" cy="664.5" r="3.9"/><circle cx="569.0" cy="663.3" r="3.9"/><circle cx="570.1" cy="662.1" r="3.9"/><circle cx="571.3" cy="659.5" r="3.9"/><circle cx="572.4" cy="658.7" r="3.9"/><circle cx="573.6" cy="661.1" r="3.9"/><circle cx="574.7" cy="660.7" r="3.9"/><circle cx="575.9" cy="660.3" r="3.9"/><circle cx="577.0" cy="659.3" r="3.9"/><circle cx="578.2" cy="661.5" r="3.9"/><circle cx="579.3" cy="666.6" r="3.9"/><circle cx="580.5" cy="662.9" r="3.9"/><circle cx="581.6" cy="659.5" r="3.9"/><circle cx="582.8" cy="659.5" r="3.9"/><circle cx="583.9" cy="660.8" r="3.9"/><circle cx="585.1" cy="661.8" r="3.9"/><circle cx="586.2" cy="659.4" r="3.9"/><circle cx="587.4" cy="657.9" r="3.9"/><circle cx="588.5" cy="657.7" r="3.9"/><circle cx="589.7" cy="656.1" r="3.9"/><circle cx="590.8" cy="657.3" r="3.9"/><circle cx="592.0" cy="658.4" r="3.9"/><circle cx="593.1" cy="658.6" r="3.9"/><circle cx="594.3" cy="660.6" r="3.9"/><circle cx="595.4" cy="662.2" r="3.9"/><circle cx="596.6" cy="662.4" r="3.9"/><circle cx="597.7" cy="662.8" r="3.9"/><circle cx="598.9" cy="661.6" r="3.9"/><circle cx="600.0" cy="661.3" r="3.9"/><circle cx="601.2" cy="663.1" r="3.9"/><circle cx="602.3" cy="662.9" r="3.9"/><circle cx="603.5" cy="663.9" r="3.9"/><circle cx="604.6" cy="665.8" r="3.9"/><circle cx="605.8" cy="662.1" r="3.9"/><circle cx="606.9" cy="660.9" r="3.9"/><circle cx="608.1" cy="661.9" r="3.9"/><circle cx="609.2" cy="663.6" r="3.9"/><circle cx="610.4" cy="662.7" r="3.9"/><circle cx="611.5" cy="658.6" r="3.9"/><circle cx="612.7" cy="659.1" r="3.9"/><circle cx="613.8" cy="664.1" r="3.9"/><circle cx="615.0" cy="664.9" r="3.9"/><circle cx="616.1" cy="662.0" r="3.9"/><circle cx="617.3" cy="663.4" r="3.9"/><circle cx="618.4" cy="659.8" r="3.9"/><circle cx="619.6" cy="660.2" r="3.9"/><circle cx="620.7" cy="664.9" r="3.9"/><circle cx="621.9" cy="665.2" r="3.9"/><circle cx="623.0" cy="665.7" r="3.9"/><circle cx="624.2" cy="665.4" r="3.9"/><circle cx="625.3" cy="663.6" r="3.9"/><circle cx="626.5" cy="663.6" r="3.9"/><circle cx="627.6" cy="664.2" r="3.9"/><circle cx="628.8" cy="668.6" r="3.9"/><circle cx="629.9" cy="668.7" r="3.9"/><circle cx="631.1" cy="665.4" r="3.9"/><circle cx="632.2" cy="663.5" r="3.9"/><circle cx="633.4" cy="661.7" r="3.9"/><circle cx="634.5" cy="665.7" r="3.9"/><circle cx="635.7" cy="665.1" r="3.9"/><circle cx="636.8" cy="660.5" r="3.9"/><circle cx="638.0" cy="662.4" r="3.9"/><circle cx="639.1" cy="663.4" r="3.9"/><circle cx="640.3" cy="667.4" r="3.9"/><circle cx="641.4" cy="663.6" r="3.9"/><circle cx="642.6" cy="660.5" r="3.9"/><circle cx="643.7" cy="666.5" r="3.9"/><circle cx="644.9" cy="663.6" r="3.9"/><circle cx="646.0" cy="661.0" r="3.9"/><circle cx="647.2" cy="664.0" r="3.9"/><circle cx="648.3" cy="668.5" r="3.9"/><circle cx="649.5" cy="665.9" r="3.9"/><circle cx="650.6" cy="659.5" r="3.9"/><circle cx="651.8" cy="663.3" r="3.9"/><circle cx="652.9" cy="669.4" r="3.9"/><circle cx="654.1" cy="666.8" r="3.9"/><circle cx="655.2" cy="659.4" r="3.9"/><circle cx="656.4" cy="663.0" r="3.9"/><circle cx="657.5" cy="667.0" r="3.9"/><circle cx="658.7" cy="666.3" r="3.9"/><circle cx="659.8" cy="666.7" r="3.9"/><circle cx="661.0" cy="663.6" r="3.9"/><circle cx="662.1" cy="662.7" r="3.9"/><circle cx="663.3" cy="666.3" r="3.9"/><circle cx="664.4" cy="670.1" r="3.9"/><circle cx="665.6" cy="662.7" r="3.9"/><circle cx="666.7" cy="657.8" r="3.9"/><circle cx="667.9" cy="665.7" r="3.9"/><circle cx="669.0" cy="666.8" r="3.9"/><circle cx="670.2" cy="660.3" r="3.9"/><circle cx="671.3" cy="661.0" r="3.9"/><circle cx="672.5" cy="663.5" r="3.9"/><circle cx="673.6" cy="663.2" r="3.9"/><circle cx="674.8" cy="662.3" r="3.9"/><circle cx="675.9" cy="661.8" r="3.9"/><circle cx="677.1" cy="661.8" r="3.9"/><circle cx="678.2" cy="663.0" r="3.9"/><circle cx="679.4" cy="662.2" r="3.9"/><circle cx="680.5" cy="660.9" r="3.9"/><circle cx="681.7" cy="662.2" r="3.9"/><circle cx="682.8" cy="665.4" r="3.9"/><circle cx="684.0" cy="666.4" r="3.9"/><circle cx="685.1" cy="663.4" r="3.9"/><circle cx="686.3" cy="663.6" r="3.9"/><circle cx="687.4" cy="664.6" r="3.9"/><circle cx="688.6" cy="665.7" r="3.9"/><circle cx="689.7" cy="665.9" r="3.9"/><circle cx="690.9" cy="667.3" r="3.9"/><circle cx="692.0" cy="668.9" r="3.9"/><circle cx="693.2" cy="665.0" r="3.9"/><circle cx="694.3" cy="661.2" r="3.9"/><circle cx="695.5" cy="663.3" r="3.9"/><circle cx="696.6" cy="665.7" r="3.9"/><circle cx="697.8" cy="664.0" r="3.9"/><circle cx="698.9" cy="660.2" r="3.9"/><circle cx="700.1" cy="656.9" r="3.9"/><circle cx="701.2" cy="661.2" r="3.9"/><circle cx="702.4" cy="667.1" r="3.9"/><circle cx="703.5" cy="668.5" r="3.9"/><circle cx="704.7" cy="664.5" r="3.9"/><circle cx="705.8" cy="665.4" r="3.9"/><circle cx="707.0" cy="667.4" r="3.9"/><circle cx="708.1" cy="666.4" r="3.9"/><circle cx="709.3" cy="668.9" r="3.9"/><circle cx="710.4" cy="666.4" r="3.9"/><circle cx="711.6" cy="663.7" r="3.9"/><circle cx="712.7" cy="660.5" r="3.9"/><circle cx="713.9" cy="659.3" r="3.9"/><circle cx="715.0" cy="659.4" r="3.9"/><circle cx="716.2" cy="661.7" r="3.9"/><circle cx="717.3" cy="665.2" r="3.9"/><circle cx="718.5" cy="665.7" r="3.9"/><circle cx="719.6" cy="665.8" r="3.9"/><circle cx="720.8" cy="662.0" r="3.9"/><circle cx="721.9" cy="661.4" r="3.9"/><circle cx="723.1" cy="661.4" r="3.9"/><circle cx="724.2" cy="661.5" r="3.9"/><circle cx="725.4" cy="662.6" r="3.9"/><circle cx="726.5" cy="659.2" r="3.9"/><circle cx="727.7" cy="658.6" r="3.9"/><circle cx="728.8" cy="660.8" r="3.9"/><circle cx="730.0" cy="660.2" r="3.9"/><circle cx="731.1" cy="662.0" r="3.9"/><circle cx="732.3" cy="666.3" r="3.9"/><circle cx="733.4" cy="663.6" r="3.9"/><circle cx="734.6" cy="659.2" r="3.9"/><circle cx="735.7" cy="655.2" r="3.9"/><circle cx="736.9" cy="655.7" r="3.9"/><circle cx="738.0" cy="659.6" r="3.9"/><circle cx="739.2" cy="655.3" r="3.9"/><circle cx="740.3" cy="656.9" r="3.9"/><circle cx="741.5" cy="662.8" r="3.9"/><circle cx="742.6" cy="660.6" r="3.9"/><circle cx="743.8" cy="658.5" r="3.9"/><circle cx="744.9" cy="658.1" r="3.9"/><circle cx="746.1" cy="660.5" r="3.9"/><circle cx="747.2" cy="659.3" r="3.9"/><circle cx="748.4" cy="657.0" r="3.9"/><circle cx="749.5" cy="664.5" r="3.9"/><circle cx="750.7" cy="665.3" r="3.9"/><circle cx="751.8" cy="662.1" r="3.9"/><circle cx="753.0" cy="661.7" r="3.9"/><circle cx="754.1" cy="658.2" r="3.9"/><circle cx="755.3" cy="658.6" r="3.9"/><circle cx="756.4" cy="662.6" r="3.9"/><circle cx="757.6" cy="661.0" r="3.9"/><circle cx="758.7" cy="661.4" r="3.9"/><circle cx="759.9" cy="666.8" r="3.9"/><circle cx="761.0" cy="669.0" r="3.9"/><circle cx="762.2" cy="663.4" r="3.9"/><circle cx="763.3" cy="659.6" r="3.9"/><circle cx="764.5" cy="660.0" r="3.9"/><circle cx="765.6" cy="665.0" r="3.9"/><circle cx="766.8" cy="670.4" r="3.9"/><circle cx="767.9" cy="670.1" r="3.9"/><circle cx="769.1" cy="667.5" r="3.9"/><circle cx="770.2" cy="663.8" r="3.9"/><circle cx="771.4" cy="665.7" r="3.9"/><circle cx="772.5" cy="668.3" r="3.9"/><circle cx="773.7" cy="666.1" r="3.9"/><circle cx="774.8" cy="666.1" r="3.9"/><circle cx="776.0" cy="669.2" r="3.9"/><circle cx="777.1" cy="669.2" r="3.9"/><circle cx="778.3" cy="665.4" r="3.9"/><circle cx="779.4" cy="660.2" r="3.9"/><circle cx="780.6" cy="661.7" r="3.9"/><circle cx="781.7" cy="666.5" r="3.9"/><circle cx="782.9" cy="666.3" r="3.9"/><circle cx="784.0" cy="664.9" r="3.9"/><circle cx="785.2" cy="663.8" r="3.9"/><circle cx="786.3" cy="666.1" r="3.9"/><circle cx="787.5" cy="667.3" r="3.9"/><circle cx="788.6" cy="665.9" r="3.9"/><circle cx="789.8" cy="663.7" r="3.9"/><circle cx="790.9" cy="662.1" r="3.9"/><circle cx="792.1" cy="664.6" r="3.9"/><circle cx="793.2" cy="663.7" r="3.9"/><circle cx="794.4" cy="660.7" r="3.9"/><circle cx="795.5" cy="662.1" r="3.9"/><circle cx="796.7" cy="667.5" r="3.9"/><circle cx="797.8" cy="668.7" r="3.9"/><circle cx="799.0" cy="669.2" r="3.9"/><circle cx="800.1" cy="668.5" r="3.9"/><circle cx="801.3" cy="664.7" r="3.9"/><circle cx="802.4" cy="662.0" r="3.9"/><circle cx="803.6" cy="661.4" r="3.9"/><circle cx="804.7" cy="667.6" r="3.9"/><circle cx="805.9" cy="669.6" r="3.9"/><circle cx="807.0" cy="668.1" r="3.9"/><circle cx="808.2" cy="668.9" r="3.9"/><circle cx="809.3" cy="667.3" r="3.9"/><circle cx="810.5" cy="665.3" r="3.9"/><circle cx="811.6" cy="665.6" r="3.9"/><circle cx="812.8" cy="667.5" r="3.9"/><circle cx="813.9" cy="668.3" r="3.9"/><circle cx="815.1" cy="667.9" r="3.9"/><circle cx="816.2" cy="667.3" r="3.9"/><circle cx="817.4" cy="664.5" r="3.9"/><circle cx="818.5" cy="663.6" r="3.9"/><circle cx="819.7" cy="663.3" r="3.9"/><circle cx="820.8" cy="666.1" r="3.9"/><circle cx="822.0" cy="663.5" r="3.9"/><circle cx="823.1" cy="660.9" r="3.9"/><circle cx="824.3" cy="670.7" r="3.9"/><circle cx="825.4" cy="670.4" r="3.9"/><circle cx="826.6" cy="662.7" r="3.9"/><circle cx="827.7" cy="663.5" r="3.9"/><circle cx="828.9" cy="668.8" r="3.9"/><circle cx="830.0" cy="668.5" r="3.9"/><circle cx="831.2" cy="667.6" r="3.9"/><circle cx="832.3" cy="668.7" r="3.9"/><circle cx="833.5" cy="667.1" r="3.9"/><circle cx="834.6" cy="674.3" r="3.9"/><circle cx="835.8" cy="675.9" r="3.9"/><circle cx="836.9" cy="668.3" r="3.9"/><circle cx="838.1" cy="667.6" r="3.9"/><circle cx="839.2" cy="670.2" r="3.9"/><circle cx="840.4" cy="672.7" r="3.9"/><circle cx="841.5" cy="674.1" r="3.9"/><circle cx="842.7" cy="674.1" r="3.9"/><circle cx="843.8" cy="669.8" r="3.9"/><circle cx="845.0" cy="671.2" r="3.9"/><circle cx="846.1" cy="673.7" r="3.9"/><circle cx="847.3" cy="671.9" r="3.9"/><circle cx="848.4" cy="669.3" r="3.9"/><circle cx="849.6" cy="668.7" r="3.9"/><circle cx="850.7" cy="670.4" r="3.9"/><circle cx="851.9" cy="671.6" r="3.9"/><circle cx="853.0" cy="670.0" r="3.9"/><circle cx="854.2" cy="670.2" r="3.9"/><circle cx="855.3" cy="673.7" r="3.9"/><circle cx="856.5" cy="671.1" r="3.9"/><circle cx="857.6" cy="669.5" r="3.9"/><circle cx="858.8" cy="670.1" r="3.9"/><circle cx="859.9" cy="673.5" r="3.9"/><circle cx="861.1" cy="669.8" r="3.9"/><circle cx="862.2" cy="667.1" r="3.9"/><circle cx="863.4" cy="669.0" r="3.9"/><circle cx="864.5" cy="668.8" r="3.9"/><circle cx="865.7" cy="674.4" r="3.9"/><circle cx="866.8" cy="673.9" r="3.9"/><circle cx="868.0" cy="672.4" r="3.9"/><circle cx="869.1" cy="671.9" r="3.9"/><circle cx="870.3" cy="675.9" r="3.9"/><circle cx="871.4" cy="679.8" r="3.9"/><circle cx="872.6" cy="678.0" r="3.9"/><circle cx="873.7" cy="673.1" r="3.9"/><circle cx="874.9" cy="668.2" r="3.9"/><circle cx="876.0" cy="673.5" r="3.9"/><circle cx="877.2" cy="675.5" r="3.9"/><circle cx="878.3" cy="672.6" r="3.9"/><circle cx="879.5" cy="673.8" r="3.9"/><circle cx="880.6" cy="671.6" r="3.9"/><circle cx="881.8" cy="672.6" r="3.9"/><circle cx="882.9" cy="675.4" r="3.9"/><circle cx="884.1" cy="674.8" r="3.9"/><circle cx="885.2" cy="673.2" r="3.9"/><circle cx="886.4" cy="673.3" r="3.9"/><circle cx="887.5" cy="673.3" r="3.9"/><circle cx="888.7" cy="674.3" r="3.9"/><circle cx="889.8" cy="678.4" r="3.9"/><circle cx="891.0" cy="678.3" r="3.9"/><circle cx="892.1" cy="676.9" r="3.9"/><circle cx="893.3" cy="676.3" r="3.9"/><circle cx="894.4" cy="669.2" r="3.9"/><circle cx="895.6" cy="669.3" r="3.9"/><circle cx="896.7" cy="674.1" r="3.9"/><circle cx="897.9" cy="671.9" r="3.9"/><circle cx="899.0" cy="671.3" r="3.9"/><circle cx="900.2" cy="667.3" r="3.9"/><circle cx="901.3" cy="666.2" r="3.9"/><circle cx="902.5" cy="670.1" r="3.9"/><circle cx="903.6" cy="673.9" r="3.9"/><circle cx="904.8" cy="670.5" r="3.9"/><circle cx="905.9" cy="664.7" r="3.9"/><circle cx="907.1" cy="668.7" r="3.9"/><circle cx="908.2" cy="668.2" r="3.9"/><circle cx="909.4" cy="668.9" r="3.9"/><circle cx="910.5" cy="670.7" r="3.9"/><circle cx="911.7" cy="664.0" r="3.9"/><circle cx="912.8" cy="666.0" r="3.9"/><circle cx="914.0" cy="671.7" r="3.9"/><circle cx="915.1" cy="666.2" r="3.9"/><circle cx="916.3" cy="665.8" r="3.9"/><circle cx="917.4" cy="668.3" r="3.9"/><circle cx="918.6" cy="668.1" r="3.9"/><circle cx="919.7" cy="667.8" r="3.9"/><circle cx="920.9" cy="660.8" r="3.9"/><circle cx="922.0" cy="662.7" r="3.9"/><circle cx="923.2" cy="668.3" r="3.9"/><circle cx="924.3" cy="671.8" r="3.9"/><circle cx="925.5" cy="673.5" r="3.9"/><circle cx="926.6" cy="670.2" r="3.9"/><circle cx="927.8" cy="665.8" r="3.9"/><circle cx="928.9" cy="663.0" r="3.9"/><circle cx="930.1" cy="662.7" r="3.9"/><circle cx="931.2" cy="662.0" r="3.9"/><circle cx="932.4" cy="661.9" r="3.9"/><circle cx="933.5" cy="658.0" r="3.9"/><circle cx="934.7" cy="658.9" r="3.9"/><circle cx="935.8" cy="664.6" r="3.9"/><circle cx="937.0" cy="670.0" r="3.9"/><circle cx="938.1" cy="671.8" r="3.9"/><circle cx="939.3" cy="664.9" r="3.9"/><circle cx="940.4" cy="664.5" r="3.9"/><circle cx="941.6" cy="662.8" r="3.9"/><circle cx="942.7" cy="660.2" r="3.9"/><circle cx="943.9" cy="658.8" r="3.9"/><circle cx="945.0" cy="663.4" r="3.9"/><circle cx="946.2" cy="668.9" r="3.9"/><circle cx="947.3" cy="663.1" r="3.9"/><circle cx="948.5" cy="661.6" r="3.9"/><circle cx="949.6" cy="666.4" r="3.9"/><circle cx="950.8" cy="667.7" r="3.9"/><circle cx="951.9" cy="666.4" r="3.9"/><circle cx="953.1" cy="663.4" r="3.9"/><circle cx="954.2" cy="661.1" r="3.9"/><circle cx="955.4" cy="663.2" r="3.9"/><circle cx="956.5" cy="666.8" r="3.9"/><circle cx="957.7" cy="664.7" r="3.9"/><circle cx="958.8" cy="660.1" r="3.9"/></g><g fill="none" stroke="#808000" stroke-width="2.0"><circle cx="198.2" cy="726.7" r="3.9"/><circle cx="200.7" cy="724.4" r="3.9"/><circle cx="203.1" cy="725.5" r="3.9"/><circle cx="205.6" cy="721.5" r="3.9"/><circle cx="208.0" cy="719.0" r="3.9"/><circle cx="210.4" cy="716.6" r="3.9"/><circle cx="212.7" cy="712.1" r="3.9"/><circle cx="215.0" cy="710.5" r="3.9"/><circle cx="217.3" cy="707.2" r="3.9"/><circle cx="219.6" cy="707.9" r="3.9"/><circle cx="221.9" cy="711.8" r="3.9"/><circle cx="224.1" cy="716.4" r="3.9"/><circle cx="226.3" cy="720.0" r="3.9"/><circle cx="228.5" cy="725.0" r="3.9"/><circle cx="230.6" cy="725.7" r="3.9"/><circle cx="232.7" cy="728.6" r="3.9"/><circle cx="234.8" cy="732.5" r="3.9"/><circle cx="236.9" cy="733.6" r="3.9"/><circle cx="239.0" cy="735.6" r="3.9"/><circle cx="241.0" cy="735.9" r="3.9"/><circle cx="243.0" cy="739.8" r="3.9"/><circle cx="245.0" cy="737.7" r="3.9"/><circle cx="247.0" cy="740.3" r="3.9"/><circle cx="248.9" cy="738.0" r="3.9"/><circle cx="250.8" cy="741.6" r="3.9"/><circle cx="252.7" cy="739.0" r="3.9"/><circle cx="254.6" cy="741.6" r="3.9"/><circle cx="256.5" cy="738.6" r="3.9"/><circle cx="258.3" cy="740.3" r="3.9"/><circle cx="260.1" cy="742.7" r="3.9"/><circle cx="261.9" cy="740.6" r="3.9"/><circle cx="263.7" cy="742.6" r="3.9"/><circle cx="265.4" cy="742.9" r="3.9"/><circle cx="267.2" cy="741.5" r="3.9"/><circle cx="268.8" cy="746.0" r="3.9"/><circle cx="270.5" cy="747.1" r="3.9"/><circle cx="272.1" cy="746.1" r="3.9"/><circle cx="273.7" cy="749.2" r="3.9"/><circle cx="275.3" cy="748.4" r="3.9"/><circle cx="276.9" cy="749.0" r="3.9"/><circle cx="278.4" cy="751.0" r="3.9"/><circle cx="279.9" cy="750.9" r="3.9"/><circle cx="281.4" cy="755.4" r="3.9"/><circle cx="282.8" cy="751.2" r="3.9"/><circle cx="284.2" cy="754.6" r="3.9"/><circle cx="285.7" cy="755.4" r="3.9"/><circle cx="287.0" cy="752.2" r="3.9"/><circle cx="288.4" cy="752.9" r="3.9"/><circle cx="289.7" cy="756.1" r="3.9"/><circle cx="291.1" cy="755.2" r="3.9"/><circle cx="292.3" cy="756.5" r="3.9"/><circle cx="293.6" cy="757.7" r="3.9"/><circle cx="294.9" cy="756.1" r="3.9"/><circle cx="296.1" cy="755.5" r="3.9"/><circle cx="297.3" cy="753.7" r="3.9"/><circle cx="298.5" cy="757.4" r="3.9"/><circle cx="299.7" cy="756.3" r="3.9"/><circle cx="300.8" cy="757.9" r="3.9"/><circle cx="302.0" cy="758.0" r="3.9"/><circle cx="303.1" cy="756.3" r="3.9"/><circle cx="304.3" cy="760.2" r="3.9"/><circle cx="305.4" cy="759.7" r="3.9"/><circle cx="306.6" cy="759.6" r="3.9"/><circle cx="307.7" cy="757.3" r="3.9"/><circle cx="308.9" cy="758.5" r="3.9"/><circle cx="310.0" cy="758.5" r="3.9"/><circle cx="311.2" cy="758.9" r="3.9"/><circle cx="312.3" cy="758.2" r="3.9"/><circle cx="313.5" cy="760.3" r="3.9"/><circle cx="314.6" cy="760.3" r="3.9"/><circle cx="315.8" cy="760.7" r="3.9"/><circle cx="316.9" cy="759.8" r="3.9"/><circle cx="318.1" cy="762.2" r="3.9"/><circle cx="319.2" cy="761.1" r="3.9"/><circle cx="320.4" cy="757.8" r="3.9"/><circle cx="321.5" cy="760.5" r="3.9"/><circle cx="322.7" cy="761.5" r="3.9"/><circle cx="323.8" cy="762.9" r="3.9"/><circle cx="325.0" cy="761.6" r="3.9"/><circle cx="326.1" cy="761.9" r="3.9"/><circle cx="327.3" cy="761.7" r="3.9"/><circle cx="328.4" cy="763.5" r="3.9"/><circle cx="329.6" cy="762.4" r="3.9"/><circle cx="330.7" cy="762.5" r="3.9"/><circle cx="331.9" cy="762.6" r="3.9"/><circle cx="333.0" cy="764.4" r="3.9"/><circle cx="334.2" cy="763.3" r="3.9"/><circle cx="335.3" cy="762.3" r="3.9"/><circle cx="336.5" cy="765.3" r="3.9"/><circle cx="337.6" cy="764.0" r="3.9"/><circle cx="338.8" cy="765.5" r="3.9"/><circle cx="339.9" cy="765.9" r="3.9"/><circle cx="341.1" cy="767.1" r="3.9"/><circle cx="342.2" cy="767.2" r="3.9"/><circle cx="343.4" cy="765.5" r="3.9"/><circle cx="344.5" cy="766.2" r="3.9"/><circle cx="345.7" cy="765.1" r="3.9"/><circle cx="346.8" cy="768.9" r="3.9"/><circle cx="348.0" cy="767.6" r="3.9"/><circle cx="349.1" cy="768.9" r="3.9"/><circle cx="350.3" cy="767.0" r="3.9"/><circle cx="351.4" cy="765.1" r="3.9"/><circle cx="352.6" cy="769.6" r="3.9"/><circle cx="353.7" cy="768.0" r="3.9"/><circle cx="354.9" cy="768.2" r="3.9"/><circle cx="356.0" cy="768.2" r="3.9"/><circle cx="357.2" cy="769.1" r="3.9"/><circle cx="358.3" cy="769.0" r="3.9"/><circle cx="359.5" cy="766.6" r="3.9"/><circle cx="360.6" cy="769.9" r="3.9"/><circle cx="361.8" cy="768.1" r="3.9"/><circle cx="362.9" cy="768.3" r="3.9"/><circle cx="364.1" cy="771.0" r="3.9"/><circle cx="365.2" cy="770.1" r="3.9"/><circle cx="366.4" cy="768.7" r="3.9"/><circle cx="367.5" cy="767.0" r="3.9"/><circle cx="368.7" cy="769.5" r="3.9"/><circle cx="369.8" cy="770.1" r="3.9"/><circle cx="371.0" cy="769.4" r="3.9"/><circle cx="372.1" cy="768.1" r="3.9"/><circle cx="373.3" cy="768.7" r="3.9"/><circle cx="374.4" cy="768.3" r="3.9"/><circle cx="375.6" cy="770.1" r="3.9"/><circle cx="376.7" cy="770.9" r="3.9"/><circle cx="377.9" cy="771.2" r="3.9"/><circle cx="379.0" cy="769.2" r="3.9"/><circle cx="380.2" cy="770.4" r="3.9"/><circle cx="381.3" cy="770.8" r="3.9"/><circle cx="382.5" cy="769.6" r="3.9"/><circle cx="383.6" cy="770.1" r="3.9"/><circle cx="384.8" cy="772.9" r="3.9"/><circle cx="385.9" cy="770.7" r="3.9"/><circle cx="387.1" cy="771.6" r="3.9"/><circle cx="388.2" cy="770.1" r="3.9"/><circle cx="389.4" cy="770.7" r="3.9"/><circle cx="390.5" cy="768.7" r="3.9"/><circle cx="391.7" cy="770.7" r="3.9"/><circle cx="392.8" cy="772.2" r="3.9"/><circle cx="394.0" cy="773.4" r="3.9"/><circle cx="395.1" cy="772.3" r="3.9"/><circle cx="396.3" cy="771.8" r="3.9"/><circle cx="397.4" cy="771.1" r="3.9"/><circle cx="398.6" cy="770.4" r="3.9"/><circle cx="399.7" cy="771.0" r="3.9"/><circle cx="400.9" cy="771.9" r="3.9"/><circle cx="402.0" cy="770.3" r="3.9"/><circle cx="403.2" cy="772.4" r="3.9"/><circle cx="404.3" cy="770.2" r="3.9"/><circle cx="405.5" cy="769.3" r="3.9"/><circle cx="406.6" cy="770.3" r="3.9"/><circle cx="407.8" cy="769.6" r="3.9"/><circle cx="408.9" cy="770.0" r="3.9"/><circle cx="410.1" cy="773.0" r="3.9"/><circle cx="411.2" cy="771.4" r="3.9"/><circle cx="412.4" cy="772.0" r="3.9"/><circle cx="413.5" cy="773.1" r="3.9"/><circle cx="414.7" cy="773.3" r="3.9"/><circle cx="415.8" cy="771.3" r="3.9"/><circle cx="417.0" cy="773.5" r="3.9"/><circle cx="418.1" cy="772.4" r="3.9"/><circle cx="419.3" cy="772.0" r="3.9"/><circle cx="420.4" cy="772.6" r="3.9"/><circle cx="421.6" cy="770.4" r="3.9"/><circle cx="422.7" cy="771.2" r="3.9"/><circle cx="423.9" cy="772.1" r="3.9"/><circle cx="425.0" cy="773.0" r="3.9"/><circle cx="426.2" cy="771.9" r="3.9"/><circle cx="427.3" cy="772.2" r="3.9"/><circle cx="428.5" cy="773.6" r="3.9"/><circle cx="429.6" cy="774.1" r="3.9"/><circle cx="430.8" cy="773.4" r="3.9"/><circle cx="431.9" cy="774.1" r="3.9"/><circle cx="433.1" cy="772.1" r="3.9"/><circle cx="434.2" cy="772.3" r="3.9"/><circle cx="435.4" cy="773.1" r="3.9"/><circle cx="436.5" cy="772.4" r="3.9"/><circle cx="437.7" cy="772.2" r="3.9"/><circle cx="438.8" cy="774.8" r="3.9"/><circle cx="440.0" cy="772.6" r="3.9"/><circle cx="441.1" cy="771.8" r="3.9"/><circle cx="442.3" cy="773.5" r="3.9"/><circle cx="443.4" cy="775.2" r="3.9"/><circle cx="444.6" cy="773.2" r="3.9"/><circle cx="445.7" cy="774.6" r="3.9"/><circle cx="446.9" cy="772.6" r="3.9"/><circle cx="448.0" cy="772.6" r="3.9"/><circle cx="449.2" cy="772.4" r="3.9"/><circle cx="450.3" cy="773.1" r="3.9"/><circle cx="451.5" cy="775.5" r="3.9"/><circle cx="452.6" cy="772.0" r="3.9"/><circle cx="453.8" cy="775.4" r="3.9"/><circle cx="454.9" cy="772.3" r="3.9"/><circle cx="456.1" cy="773.2" r="3.9"/><circle cx="457.2" cy="774.5" r="3.9"/><circle cx="458.4" cy="774.4" r="3.9"/><circle cx="459.5" cy="774.0" r="3.9"/><circle cx="460.7" cy="771.8" r="3.9"/><circle cx="461.8" cy="774.2" r="3.9"/><circle cx="463.0" cy="772.6" r="3.9"/><circle cx="464.1" cy="776.9" r="3.9"/><circle cx="465.3" cy="773.6" r="3.9"/><circle cx="466.4" cy="774.1" r="3.9"/><circle cx="467.6" cy="772.6" r="3.9"/><circle cx="468.7" cy="773.5" r="3.9"/><circle cx="469.9" cy="772.5" r="3.9"/><circle cx="471.0" cy="775.3" r="3.9"/><circle cx="472.2" cy="773.8" r="3.9"/><circle cx="473.3" cy="774.9" r="3.9"/><circle cx="474.5" cy="773.4" r="3.9"/><circle cx="475.6" cy="773.7" r="3.9"/><circle cx="476.8" cy="775.8" r="3.9"/><circle cx="477.9" cy="773.2" r="3.9"/><circle cx="479.1" cy="772.3" r="3.9"/><circle cx="480.2" cy="774.9" r="3.9"/><circle cx="481.4" cy="773.2" r="3.9"/><circle cx="482.5" cy="774.0" r="3.9"/><circle cx="483.7" cy="775.7" r="3.9"/><circle cx="484.8" cy="773.7" r="3.9"/><circle cx="486.0" cy="775.7" r="3.9"/><circle cx="487.1" cy="773.9" r="3.9"/><circle cx="488.3" cy="776.5" r="3.9"/><circle cx="489.4" cy="776.4" r="3.9"/><circle cx="490.6" cy="774.3" r="3.9"/><circle cx="491.7" cy="774.7" r="3.9"/><circle cx="492.9" cy="774.0" r="3.9"/><circle cx="494.0" cy="775.3" r="3.9"/><circle cx="495.2" cy="776.4" r="3.9"/><circle cx="496.3" cy="773.4" r="3.9"/><circle cx="497.5" cy="776.2" r="3.9"/><circle cx="498.6" cy="773.7" r="3.9"/><circle cx="499.8" cy="774.2" r="3.9"/><circle cx="500.9" cy="773.2" r="3.9"/><circle cx="502.1" cy="777.8" r="3.9"/><circle cx="503.2" cy="775.5" r="3.9"/><circle cx="504.4" cy="775.7" r="3.9"/><circle cx="505.5" cy="774.7" r="3.9"/><circle cx="506.7" cy="776.8" r="3.9"/><circle cx="507.8" cy="773.1" r="3.9"/><circle cx="509.0" cy="775.7" r="3.9"/><circle cx="510.1" cy="778.3" r="3.9"/><circle cx="511.3" cy="775.3" r="3.9"/><circle cx="512.4" cy="775.8" r="3.9"/><circle cx="513.6" cy="776.6" r="3.9"/><circle cx="514.7" cy="775.0" r="3.9"/><circle cx="515.9" cy="776.0" r="3.9"/><circle cx="517.0" cy="777.1" r="3.9"/><circle cx="518.2" cy="776.3" r="3.9"/><circle cx="519.3" cy="776.6" r="3.9"/><circle cx="520.5" cy="775.8" r="3.9"/><circle cx="521.6" cy="776.6" r="3.9"/><circle cx="522.8" cy="776.3" r="3.9"/><circle cx="523.9" cy="778.0" r="3.9"/><circle cx="525.1" cy="777.2" r="3.9"/><circle cx="526.2" cy="776.2" r="3.9"/><circle cx="527.4" cy="773.6" r="3.9"/><circle cx="528.5" cy="777.4" r="3.9"/><circle cx="529.7" cy="777.5" r="3.9"/><circle cx="530.8" cy="775.6" r="3.9"/><circle cx="532.0" cy="774.4" r="3.9"/><circle cx="533.1" cy="775.4" r="3.9"/><circle cx="534.3" cy="777.9" r="3.9"/><circle cx="535.4" cy="775.6" r="3.9"/><circle cx="536.6" cy="776.4" r="3.9"/><circle cx="537.7" cy="777.2" r="3.9"/><circle cx="538.9" cy="778.5" r="3.9"/><circle cx="540.0" cy="777.1" r="3.9"/><circle cx="541.2" cy="777.0" r="3.9"/><circle cx="542.3" cy="776.6" r="3.9"/><circle cx="543.5" cy="779.2" r="3.9"/><circle cx="544.6" cy="778.6" r="3.9"/><circle cx="545.8" cy="777.3" r="3.9"/><circle cx="546.9" cy="775.8" r="3.9"/><circle cx="548.1" cy="776.6" r="3.9"/><circle cx="549.2" cy="778.2" r="3.9"/><circle cx="550.4" cy="776.8" r="3.9"/><circle cx="551.5" cy="778.7" r="3.9"/><circle cx="552.7" cy="778.2" r="3.9"/><circle cx="553.8" cy="778.1" r="3.9"/><circle cx="555.0" cy="778.6" r="3.9"/><circle cx="556.1" cy="778.5" r="3.9"/><circle cx="557.3" cy="777.0" r="3.9"/><circle cx="558.4" cy="777.6" r="3.9"/><circle cx="559.6" cy="780.8" r="3.9"/><circle cx="560.7" cy="776.7" r="3.9"/><circle cx="561.9" cy="777.7" r="3.9"/><circle cx="563.0" cy="779.5" r="3.9"/><circle cx="564.2" cy="778.1" r="3.9"/><circle cx="565.3" cy="777.4" r="3.9"/><circle cx="566.5" cy="776.9" r="3.9"/><circle cx="567.6" cy="779.1" r="3.9"/><circle cx="568.8" cy="779.7" r="3.9"/><circle cx="569.9" cy="780.2" r="3.9"/><circle cx="571.1" cy="778.7" r="3.9"/><circle cx="572.2" cy="780.0" r="3.9"/><circle cx="573.4" cy="777.6" r="3.9"/><circle cx="574.5" cy="779.1" r="3.9"/><circle cx="575.7" cy="778.1" r="3.9"/><circle cx="576.8" cy="779.2" r="3.9"/><circle cx="578.0" cy="779.9" r="3.9"/><circle cx="579.1" cy="780.3" r="3.9"/><circle cx="580.3" cy="778.0" r="3.9"/><circle cx="581.4" cy="780.7" r="3.9"/><circle cx="582.6" cy="778.7" r="3.9"/><circle cx="583.7" cy="778.2" r="3.9"/><circle cx="584.9" cy="779.2" r="3.9"/><circle cx="586.0" cy="777.8" r="3.9"/><circle cx="587.2" cy="779.5" r="3.9"/><circle cx="588.3" cy="779.9" r="3.9"/><circle cx="589.5" cy="779.4" r="3.9"/><circle cx="590.6" cy="780.3" r="3.9"/><circle cx="591.8" cy="779.4" r="3.9"/><circle cx="592.9" cy="779.8" r="3.9"/><circle cx="594.1" cy="778.2" r="3.9"/><circle cx="595.2" cy="780.0" r="3.9"/><circle cx="596.4" cy="779.0" r="3.9"/><circle cx="597.5" cy="779.5" r="3.9"/><circle cx="598.7" cy="780.0" r="3.9"/><circle cx="599.8" cy="780.4" r="3.9"/><circle cx="601.0" cy="778.3" r="3.9"/><circle cx="602.1" cy="778.5" r="3.9"/><circle cx="603.3" cy="780.0" r="3.9"/><circle cx="604.4" cy="781.0" r="3.9"/><circle cx="605.6" cy="780.9" r="3.9"/><circle cx="606.7" cy="781.6" r="3.9"/><circle cx="607.9" cy="782.1" r="3.9"/><circle cx="609.0" cy="781.2" r="3.9"/><circle cx="610.2" cy="780.7" r="3.9"/><circle cx="611.3" cy="779.6" r="3.9"/><circle cx="612.5" cy="779.7" r="3.9"/><circle cx="613.6" cy="780.3" r="3.9"/><circle cx="614.8" cy="781.2" r="3.9"/><circle cx="615.9" cy="781.3" r="3.9"/><circle cx="617.1" cy="781.1" r="3.9"/><circle cx="618.2" cy="780.9" r="3.9"/><circle cx="619.4" cy="781.9" r="3.9"/><circle cx="620.5" cy="781.5" r="3.9"/><circle cx="621.7" cy="781.6" r="3.9"/><circle cx="622.8" cy="781.7" r="3.9"/><circle cx="624.0" cy="780.8" r="3.9"/><circle cx="625.1" cy="780.3" r="3.9"/><circle cx="626.3" cy="782.1" r="3.9"/><circle cx="627.4" cy="782.1" r="3.9"/><circle cx="628.6" cy="781.4" r="3.9"/><circle cx="629.7" cy="781.2" r="3.9"/><circle cx="630.9" cy="784.4" r="3.9"/><circle cx="632.0" cy="780.9" r="3.9"/><circle cx="633.2" cy="781.6" r="3.9"/><circle cx="634.3" cy="782.2" r="3.9"/><circle cx="635.5" cy="780.6" r="3.9"/><circle cx="636.6" cy="782.2" r="3.9"/><circle cx="637.8" cy="784.1" r="3.9"/><circle cx="638.9" cy="783.2" r="3.9"/><circle cx="640.1" cy="782.9" r="3.9"/><circle cx="641.2" cy="782.9" r="3.9"/><circle cx="642.4" cy="782.4" r="3.9"/><circle cx="643.5" cy="783.5" r="3.9"/><circle cx="644.7" cy="782.2" r="3.9"/><circle cx="645.8" cy="782.0" r="3.9"/><circle cx="647.0" cy="782.6" r="3.9"/><circle cx="648.1" cy="783.6" r="3.9"/><circle cx="649.3" cy="783.0" r="3.9"/><circle cx="650.4" cy="783.5" r="3.9"/><circle cx="651.6" cy="780.4" r="3.9"/><circle cx="652.7" cy="784.2" r="3.9"/><circle cx="653.9" cy="785.5" r="3.9"/><circle cx="655.0" cy="784.4" r="3.9"/><circle cx="656.2" cy="782.6" r="3.9"/><circle cx="657.3" cy="782.0" r="3.9"/><circle cx="658.5" cy="783.4" r="3.9"/><circle cx="659.6" cy="782.0" r="3.9"/><circle cx="660.8" cy="784.0" r="3.9"/><circle cx="661.9" cy="782.6" r="3.9"/><circle cx="663.1" cy="784.4" r="3.9"/><circle cx="664.2" cy="784.9" r="3.9"/><circle cx="665.4" cy="781.0" r="3.9"/><circle cx="666.5" cy="783.8" r="3.9"/><circle cx="667.7" cy="782.7" r="3.9"/><circle cx="668.8" cy="781.9" r="3.9"/><circle cx="670.0" cy="782.9" r="3.9"/><circle cx="671.1" cy="783.4" r="3.9"/><circle cx="672.3" cy="784.9" r="3.9"/><circle cx="673.4" cy="782.0" r="3.9"/><circle cx="674.6" cy="785.0" r="3.9"/><circle cx="675.7" cy="786.1" r="3.9"/><circle cx="676.9" cy="784.6" r="3.9"/><circle cx="678.0" cy="784.6" r="3.9"/><circle cx="679.2" cy="784.0" r="3.9"/><circle cx="680.3" cy="782.7" r="3.9"/><circle cx="681.5" cy="784.7" r="3.9"/><circle cx="682.6" cy="784.6" r="3.9"/><circle cx="683.8" cy="785.0" r="3.9"/><circle cx="684.9" cy="787.2" r="3.9"/><circle cx="686.1" cy="785.1" r="3.9"/><circle cx="687.2" cy="784.8" r="3.9"/><circle cx="688.4" cy="786.2" r="3.9"/><circle cx="689.5" cy="782.9" r="3.9"/><circle cx="690.7" cy="783.2" r="3.9"/><circle cx="691.8" cy="784.1" r="3.9"/><circle cx="693.0" cy="783.8" r="3.9"/><circle cx="694.1" cy="785.4" r="3.9"/><circle cx="695.3" cy="784.3" r="3.9"/><circle cx="696.4" cy="786.7" r="3.9"/><circle cx="697.6" cy="786.5" r="3.9"/><circle cx="698.7" cy="785.7" r="3.9"/><circle cx="699.9" cy="784.4" r="3.9"/><circle cx="701.0" cy="785.6" r="3.9"/><circle cx="702.2" cy="785.9" r="3.9"/><circle cx="703.3" cy="783.8" r="3.9"/><circle cx="704.5" cy="785.4" r="3.9"/><circle cx="705.6" cy="785.9" r="3.9"/><circle cx="706.8" cy="785.3" r="3.9"/><circle cx="707.9" cy="786.9" r="3.9"/><circle cx="709.1" cy="786.6" r="3.9"/><circle cx="710.2" cy="784.3" r="3.9"/><circle cx="711.4" cy="785.4" r="3.9"/><circle cx="712.5" cy="784.4" r="3.9"/><circle cx="713.7" cy="786.0" r="3.9"/><circle cx="714.8" cy="784.4" r="3.9"/><circle cx="716.0" cy="786.5" r="3.9"/><circle cx="717.1" cy="785.9" r="3.9"/><circle cx="718.3" cy="786.6" r="3.9"/><circle cx="719.4" cy="785.4" r="3.9"/><circle cx="720.6" cy="783.9" r="3.9"/><circle cx="721.7" cy="787.6" r="3.9"/><circle cx="722.9" cy="785.5" r="3.9"/><circle cx="724.0" cy="787.3" r="3.9"/><circle cx="725.2" cy="786.2" r="3.9"/><circle cx="726.3" cy="786.5" r="3.9"/><circle cx="727.5" cy="787.9" r="3.9"/><circle cx="728.6" cy="786.2" r="3.9"/><circle cx="729.8" cy="787.5" r="3.9"/><circle cx="730.9" cy="784.2" r="3.9"/><circle cx="732.1" cy="787.0" r="3.9"/><circle cx="733.2" cy="785.7" r="3.9"/><circle cx="734.4" cy="785.9" r="3.9"/><circle cx="735.5" cy="786.1" r="3.9"/><circle cx="736.7" cy="786.5" r="3.9"/><circle cx="737.8" cy="788.0" r="3.9"/><circle cx="739.0" cy="784.1" r="3.9"/><circle cx="740.1" cy="786.3" r="3.9"/><circle cx="741.3" cy="785.5" r="3.9"/><circle cx="742.4" cy="787.6" r="3.9"/><circle cx="743.6" cy="785.9" r="3.9"/><circle cx="744.7" cy="786.9" r="3.9"/><circle cx="745.9" cy="786.0" r="3.9"/><circle cx="747.0" cy="787.2" r="3.9"/><circle cx="748.2" cy="787.6" r="3.9"/><circle cx="749.3" cy="786.1" r="3.9"/><circle cx="750.5" cy="786.6" r="3.9"/><circle cx="751.6" cy="785.0" r="3.9"/><circle cx="752.8" cy="787.0" r="3.9"/><circle cx="753.9" cy="787.6" r="3.9"/><circle cx="755.1" cy="786.1" r="3.9"/><circle cx="756.2" cy="788.0" r="3.9"/><circle cx="757.4" cy="784.4" r="3.9"/><circle cx="758.5" cy="784.7" r="3.9"/><circle cx="759.7" cy="785.3" r="3.9"/><circle cx="760.8" cy="786.3" r="3.9"/><circle cx="762.0" cy="786.9" r="3.9"/><circle cx="763.1" cy="786.9" r="3.9"/><circle cx="764.3" cy="786.9" r="3.9"/><circle cx="765.4" cy="787.8" r="3.9"/><circle cx="766.6" cy="786.5" r="3.9"/><circle cx="767.7" cy="785.7" r="3.9"/><circle cx="768.9" cy="785.7" r="3.9"/><circle cx="770.0" cy="789.5" r="3.9"/><circle cx="771.2" cy="784.5" r="3.9"/><circle cx="772.3" cy="787.0" r="3.9"/><circle cx="773.5" cy="788.9" r="3.9"/><circle cx="774.6" cy="787.8" r="3.9"/><circle cx="775.8" cy="786.4" r="3.9"/><circle cx="776.9" cy="787.4" r="3.9"/><circle cx="778.1" cy="788.4" r="3.9"/><circle cx="779.2" cy="788.8" r="3.9"/><circle cx="780.4" cy="786.4" r="3.9"/><circle cx="781.5" cy="788.3" r="3.9"/><circle cx="782.7" cy="787.8" r="3.9"/><circle cx="783.8" cy="788.8" r="3.9"/><circle cx="785.0" cy="789.2" r="3.9"/><circle cx="786.1" cy="787.2" r="3.9"/><circle cx="787.3" cy="786.0" r="3.9"/><circle cx="788.4" cy="788.1" r="3.9"/><circle cx="789.6" cy="789.7" r="3.9"/><circle cx="790.7" cy="788.5" r="3.9"/><circle cx="791.9" cy="788.0" r="3.9"/><circle cx="793.0" cy="790.5" r="3.9"/><circle cx="794.2" cy="786.7" r="3.9"/><circle cx="795.3" cy="788.9" r="3.9"/><circle cx="796.5" cy="787.3" r="3.9"/><circle cx="797.6" cy="788.0" r="3.9"/><circle cx="798.8" cy="788.1" r="3.9"/><circle cx="799.9" cy="789.7" r="3.9"/><circle cx="801.1" cy="787.0" r="3.9"/><circle cx="802.2" cy="787.5" r="3.9"/><circle cx="803.4" cy="786.3" r="3.9"/><circle cx="804.5" cy="788.7" r="3.9"/><circle cx="805.7" cy="787.7" r="3.9"/><circle cx="806.8" cy="788.7" r="3.9"/><circle cx="808.0" cy="787.0" r="3.9"/><circle cx="809.1" cy="787.9" r="3.9"/><circle cx="810.3" cy="789.5" r="3.9"/><circle cx="811.4" cy="788.1" r="3.9"/><circle cx="812.6" cy="789.1" r="3.9"/><circle cx="813.7" cy="789.0" r="3.9"/><circle cx="814.9" cy="788.0" r="3.9"/><circle cx="816.0" cy="786.7" r="3.9"/><circle cx="817.2" cy="789.6" r="3.9"/><circle cx="818.3" cy="788.7" r="3.9"/><circle cx="819.5" cy="789.6" r="3.9"/><circle cx="820.6" cy="786.3" r="3.9"/><circle cx="821.8" cy="786.7" r="3.9"/><circle cx="822.9" cy="786.2" r="3.9"/><circle cx="824.1" cy="787.7" r="3.9"/><circle cx="825.2" cy="789.9" r="3.9"/><circle cx="826.4" cy="789.4" r="3.9"/><circle cx="827.5" cy="788.7" r="3.9"/><circle cx="828.7" cy="788.9" r="3.9"/><circle cx="829.8" cy="789.7" r="3.9"/><circle cx="831.0" cy="788.5" r="3.9"/><circle cx="832.1" cy="789.3" r="3.9"/><circle cx="833.3" cy="789.1" r="3.9"/><circle cx="834.4" cy="786.5" r="3.9"/><circle cx="835.6" cy="788.5" r="3.9"/><circle cx="836.7" cy="790.5" r="3.9"/><circle cx="837.9" cy="788.6" r="3.9"/><circle cx="839.0" cy="788.9" r="3.9"/><circle cx="840.2" cy="788.4" r="3.9"/><circle cx="841.3" cy="788.6" r="3.9"/><circle cx="842.5" cy="790.4" r="3.9"/><circle cx="843.6" cy="788.9" r="3.9"/><circle cx="844.8" cy="788.0" r="3.9"/><circle cx="845.9" cy="785.7" r="3.9"/><circle cx="847.1" cy="788.6" r="3.9"/><circle cx="848.2" cy="787.1" r="3.9"/><circle cx="849.4" cy="787.3" r="3.9"/><circle cx="850.5" cy="790.2" r="3.9"/><circle cx="851.7" cy="790.2" r="3.9"/><circle cx="852.8" cy="787.3" r="3.9"/><circle cx="854.0" cy="790.4" r="3.9"/><circle cx="855.1" cy="790.0" r="3.9"/><circle cx="856.3" cy="788.6" r="3.9"/><circle cx="857.4" cy="790.3" r="3.9"/><circle cx="858.6" cy="787.7" r="3.9"/><circle cx="859.7" cy="788.2" r="3.9"/><circle cx="860.9" cy="788.0" r="3.9"/><circle cx="862.0" cy="788.4" r="3.9"/><circle cx="863.2" cy="790.6" r="3.9"/><circle cx="864.3" cy="788.2" r="3.9"/><circle cx="865.5" cy="788.4" r="3.9"/><circle cx="866.6" cy="788.7" r="3.9"/><circle cx="867.8" cy="790.0" r="3.9"/><circle cx="868.9" cy="789.4" r="3.9"/><circle cx="870.1" cy="790.8" r="3.9"/><circle cx="871.2" cy="789.0" r="3.9"/><circle cx="872.4" cy="788.4" r="3.9"/><circle cx="873.5" cy="789.3" r="3.9"/><circle cx="874.7" cy="790.0" r="3.9"/><circle cx="875.8" cy="788.9" r="3.9"/><circle cx="877.0" cy="790.3" r="3.9"/><circle cx="878.1" cy="792.0" r="3.9"/><circle cx="879.3" cy="789.4" r="3.9"/><circle cx="880.4" cy="790.1" r="3.9"/><circle cx="881.6" cy="791.6" r="3.9"/><circle cx="882.7" cy="789.4" r="3.9"/><circle cx="883.9" cy="789.2" r="3.9"/><circle cx="885.0" cy="788.9" r="3.9"/><circle cx="886.2" cy="790.6" r="3.9"/><circle cx="887.3" cy="790.8" r="3.9"/><circle cx="888.5" cy="790.1" r="3.9"/><circle cx="889.6" cy="790.3" r="3.9"/><circle cx="890.8" cy="791.7" r="3.9"/><circle cx="891.9" cy="791.3" r="3.9"/><circle cx="893.1" cy="788.8" r="3.9"/><circle cx="894.2" cy="790.3" r="3.9"/><circle cx="895.4" cy="790.5" r="3.9"/><circle cx="896.5" cy="791.2" r="3.9"/><circle cx="897.7" cy="790.2" r="3.9"/><circle cx="898.8" cy="789.7" r="3.9"/><circle cx="900.0" cy="790.0" r="3.9"/><circle cx="901.1" cy="788.5" r="3.9"/><circle cx="902.3" cy="790.4" r="3.9"/><circle cx="903.4" cy="789.8" r="3.9"/><circle cx="904.6" cy="791.0" r="3.9"/><circle cx="905.7" cy="789.3" r="3.9"/><circle cx="906.9" cy="790.0" r="3.9"/><circle cx="908.0" cy="789.4" r="3.9"/><circle cx="909.2" cy="789.3" r="3.9"/><circle cx="910.3" cy="791.2" r="3.9"/><circle cx="911.5" cy="789.9" r="3.9"/><circle cx="912.6" cy="790.9" r="3.9"/><circle cx="913.8" cy="789.2" r="3.9"/><circle cx="914.9" cy="790.5" r="3.9"/><circle cx="916.1" cy="788.5" r="3.9"/><circle cx="917.2" cy="789.9" r="3.9"/><circle cx="918.4" cy="789.8" r="3.9"/><circle cx="919.5" cy="791.0" r="3.9"/><circle cx="920.7" cy="790.6" r="3.9"/><circle cx="921.8" cy="790.2" r="3.9"/><circle cx="923.0" cy="791.3" r="3.9"/><circle cx="924.1" cy="790.6" r="3.9"/><circle cx="925.3" cy="790.9" r="3.9"/><circle cx="926.4" cy="791.2" r="3.9"/><circle cx="927.6" cy="790.3" r="3.9"/><circle cx="928.7" cy="790.0" r="3.9"/><circle cx="929.9" cy="790.7" r="3.9"/><circle cx="931.0" cy="789.8" r="3.9"/><circle cx="932.2" cy="790.7" r="3.9"/><circle cx="933.3" cy="791.5" r="3.9"/><circle cx="934.5" cy="791.2" r="3.9"/><circle cx="935.6" cy="789.9" r="3.9"/><circle cx="936.8" cy="788.9" r="3.9"/><circle cx="937.9" cy="790.2" r="3.9"/><circle cx="939.1" cy="790.1" r="3.9"/><circle cx="940.2" cy="791.5" r="3.9"/><circle cx="941.4" cy="789.8" r="3.9"/><circle cx="942.5" cy="790.0" r="3.9"/><circle cx="943.7" cy="791.0" r="3.9"/><circle cx="944.8" cy="789.7" r="3.9"/><circle cx="946.0" cy="790.0" r="3.9"/><circle cx="947.1" cy="792.1" r="3.9"/><circle cx="948.3" cy="791.8" r="3.9"/><circle cx="949.4" cy="790.9" r="3.9"/><circle cx="950.6" cy="790.5" r="3.9"/><circle cx="951.7" cy="789.1" r="3.9"/><circle cx="952.9" cy="790.8" r="3.9"/><circle cx="954.0" cy="790.2" r="3.9"/><circle cx="955.2" cy="790.4" r="3.9"/><circle cx="956.3" cy="789.6" r="3.9"/><circle cx="957.5" cy="790.1" r="3.9"/><circle cx="958.6" cy="789.9" r="3.9"/></g><g fill="none" stroke="#000080" stroke-width="2"><circle cx="198.0" cy="880.1" r="5.9"/><circle cx="201.2" cy="883.6" r="5.9"/><circle cx="204.4" cy="884.6" r="5.9"/><circle cx="207.5" cy="885.0" r="5.9"/><circle cx="210.6" cy="885.9" r="5.9"/><circle cx="213.7" cy="889.7" r="5.9"/><circle cx="216.7" cy="894.1" r="5.9"/><circle cx="219.7" cy="899.0" r="5.9"/><circle cx="222.7" cy="901.9" r="5.9"/><circle cx="225.7" cy="904.3" r="5.9"/><circle cx="228.6" cy="905.7" r="5.9"/><circle cx="231.5" cy="907.3" r="5.9"/><circle cx="234.4" cy="908.0" r="5.9"/><circle cx="237.2" cy="910.3" r="5.9"/><circle cx="240.1" cy="915.8" r="5.9"/><circle cx="242.9" cy="918.2" r="5.9"/><circle cx="245.7" cy="922.9" r="5.9"/><circle cx="248.4" cy="925.0" r="5.9"/><circle cx="251.2" cy="928.5" r="5.9"/><circle cx="253.9" cy="929.3" r="5.9"/><circle cx="256.7" cy="929.3" r="5.9"/><circle cx="259.4" cy="931.5" r="5.9"/><circle cx="262.1" cy="934.4" r="5.9"/><circle cx="264.8" cy="937.1" r="5.9"/><circle cx="267.4" cy="940.2" r="5.9"/><circle cx="270.1" cy="942.7" r="5.9"/><circle cx="272.8" cy="945.0" r="5.9"/><circle cx="275.4" cy="946.1" r="5.9"/><circle cx="278.0" cy="946.5" r="5.9"/><circle cx="280.6" cy="948.2" r="5.9"/><circle cx="283.2" cy="948.3" r="5.9"/><circle cx="285.8" cy="950.5" r="5.9"/><circle cx="288.4" cy="951.9" r="5.9"/><circle cx="290.9" cy="953.8" r="5.9"/><circle cx="293.5" cy="957.4" r="5.9"/><circle cx="296.0" cy="957.5" r="5.9"/><circle cx="298.5" cy="959.0" r="5.9"/><circle cx="301.0" cy="958.2" r="5.9"/><circle cx="303.5" cy="958.4" r="5.9"/><circle cx="306.0" cy="959.9" r="5.9"/><circle cx="308.5" cy="959.0" r="5.9"/><circle cx="311.0" cy="961.5" r="5.9"/><circle cx="313.5" cy="963.5" r="5.9"/><circle cx="316.0" cy="967.0" r="5.9"/><circle cx="318.5" cy="970.7" r="5.9"/><circle cx="321.0" cy="973.0" r="5.9"/><circle cx="323.5" cy="975.2" r="5.9"/><circle cx="326.0" cy="975.7" r="5.9"/><circle cx="328.5" cy="975.3" r="5.9"/><circle cx="331.0" cy="976.3" r="5.9"/><circle cx="333.5" cy="976.1" r="5.9"/><circle cx="336.0" cy="976.9" r="5.9"/><circle cx="338.5" cy="978.5" r="5.9"/><circle cx="341.0" cy="981.0" r="5.9"/><circle cx="343.5" cy="983.0" r="5.9"/><circle cx="346.0" cy="983.0" r="5.9"/><circle cx="348.5" cy="984.1" r="5.9"/><circle cx="351.0" cy="983.1" r="5.9"/><circle cx="353.5" cy="982.9" r="5.9"/><circle cx="356.0" cy="981.3" r="5.9"/><circle cx="358.5" cy="984.0" r="5.9"/><circle cx="361.0" cy="984.1" r="5.9"/><circle cx="363.5" cy="988.2" r="5.9"/><circle cx="366.0" cy="989.5" r="5.9"/><circle cx="368.5" cy="990.2" r="5.9"/><circle cx="371.0" cy="989.3" r="5.9"/><circle cx="373.5" cy="987.9" r="5.9"/><circle cx="376.0" cy="989.8" r="5.9"/><circle cx="378.5" cy="991.3" r="5.9"/><circle cx="381.0" cy="994.0" r="5.9"/><circle cx="383.5" cy="992.2" r="5.9"/><circle cx="386.0" cy="991.8" r="5.9"/><circle cx="388.5" cy="992.9" r="5.9"/><circle cx="391.0" cy="996.5" r="5.9"/><circle cx="393.5" cy="999.2" r="5.9"/><circle cx="396.0" cy="997.6" r="5.9"/><circle cx="398.5" cy="998.6" r="5.9"/><circle cx="401.0" cy="996.9" r="5.9"/><circle cx="403.5" cy="999.6" r="5.9"/><circle cx="406.0" cy="1000.1" r="5.9"/><circle cx="408.5" cy="1002.6" r="5.9"/><circle cx="411.0" cy="1002.2" r="5.9"/><circle cx="413.5" cy="1002.6" r="5.9"/><circle cx="416.0" cy="1000.8" r="5.9"/><circle cx="418.5" cy="1000.3" r="5.9"/><circle cx="421.0" cy="1001.5" r="5.9"/><circle cx="423.5" cy="1003.6" r="5.9"/><circle cx="426.0" cy="1004.0" r="5.9"/><circle cx="428.5" cy="1002.7" r="5.9"/><circle cx="431.0" cy="1003.5" r="5.9"/><circle cx="433.5" cy="1008.4" r="5.9"/><circle cx="436.0" cy="1011.6" r="5.9"/><circle cx="438.5" cy="1013.3" r="5.9"/><circle cx="441.0" cy="1009.4" r="5.9"/><circle cx="443.5" cy="1008.4" r="5.9"/><circle cx="446.0" cy="1008.6" r="5.9"/><circle cx="448.5" cy="1012.2" r="5.9"/><circle cx="451.0" cy="1013.5" r="5.9"/><circle cx="453.5" cy="1013.1" r="5.9"/><circle cx="456.0" cy="1015.6" r="5.9"/><circle cx="458.5" cy="1017.7" r="5.9"/><circle cx="461.0" cy="1018.5" r="5.9"/><circle cx="463.5" cy="1015.3" r="5.9"/><circle cx="466.0" cy="1016.7" r="5.9"/><circle cx="468.5" cy="1016.6" r="5.9"/><circle cx="471.0" cy="1020.2" r="5.9"/><circle cx="473.5" cy="1020.6" r="5.9"/><circle cx="476.0" cy="1020.6" r="5.9"/><circle cx="478.5" cy="1019.9" r="5.9"/><circle cx="481.0" cy="1017.2" r="5.9"/><circle cx="483.5" cy="1019.9" r="5.9"/><circle cx="486.0" cy="1020.4" r="5.9"/><circle cx="488.5" cy="1024.3" r="5.9"/><circle cx="491.0" cy="1024.9" r="5.9"/><circle cx="493.5" cy="1025.0" r="5.9"/><circle cx="496.0" cy="1024.3" r="5.9"/><circle cx="498.5" cy="1023.6" r="5.9"/><circle cx="501.0" cy="1023.6" r="5.9"/><circle cx="503.5" cy="1025.8" r="5.9"/><circle cx="506.0" cy="1025.5" r="5.9"/><circle cx="508.5" cy="1025.8" r="5.9"/><circle cx="511.0" cy="1023.1" r="5.9"/><circle cx="513.5" cy="1023.3" r="5.9"/><circle cx="516.0" cy="1021.4" r="5.9"/><circle cx="518.5" cy="1023.3" r="5.9"/><circle cx="521.0" cy="1024.2" r="5.9"/><circle cx="523.5" cy="1027.0" r="5.9"/><circle cx="526.0" cy="1025.4" r="5.9"/><circle cx="528.5" cy="1025.5" r="5.9"/><circle cx="531.0" cy="1025.2" r="5.9"/><circle cx="533.5" cy="1026.5" r="5.9"/><circle cx="536.0" cy="1031.9" r="5.9"/><circle cx="538.5" cy="1035.0" r="5.9"/><circle cx="541.0" cy="1036.4" r="5.9"/><circle cx="543.5" cy="1031.0" r="5.9"/><circle cx="546.0" cy="1030.3" r="5.9"/><circle cx="548.5" cy="1027.9" r="5.9"/><circle cx="551.0" cy="1031.7" r="5.9"/><circle cx="553.5" cy="1031.8" r="5.9"/><circle cx="556.0" cy="1034.1" r="5.9"/><circle cx="558.5" cy="1033.2" r="5.9"/><circle cx="561.0" cy="1033.1" r="5.9"/><circle cx="563.5" cy="1031.2" r="5.9"/><circle cx="566.0" cy="1032.6" r="5.9"/><circle cx="568.5" cy="1031.8" r="5.9"/><circle cx="571.0" cy="1032.7" r="5.9"/><circle cx="573.5" cy="1031.7" r="5.9"/><circle cx="576.0" cy="1033.1" r="5.9"/><circle cx="578.5" cy="1035.7" r="5.9"/><circle cx="581.0" cy="1038.1" r="5.9"/><circle cx="583.5" cy="1039.9" r="5.9"/><circle cx="586.0" cy="1040.2" r="5.9"/><circle cx="588.5" cy="1039.1" r="5.9"/><circle cx="591.0" cy="1040.4" r="5.9"/><circle cx="593.5" cy="1037.6" r="5.9"/><circle cx="596.0" cy="1038.5" r="5.9"/><circle cx="598.5" cy="1036.1" r="5.9"/><circle cx="601.0" cy="1037.5" r="5.9"/><circle cx="603.5" cy="1037.4" r="5.9"/><circle cx="606.0" cy="1038.7" r="5.9"/><circle cx="608.5" cy="1042.0" r="5.9"/><circle cx="611.0" cy="1044.2" r="5.9"/><circle cx="613.5" cy="1041.7" r="5.9"/><circle cx="616.0" cy="1041.1" r="5.9"/><circle cx="618.5" cy="1042.9" r="5.9"/><circle cx="621.0" cy="1048.4" r="5.9"/><circle cx="623.5" cy="1051.2" r="5.9"/><circle cx="626.0" cy="1048.8" r="5.9"/><circle cx="628.5" cy="1045.6" r="5.9"/><circle cx="631.0" cy="1042.1" r="5.9"/><circle cx="633.5" cy="1043.5" r="5.9"/><circle cx="636.0" cy="1047.7" r="5.9"/><circle cx="638.5" cy="1048.8" r="5.9"/><circle cx="641.0" cy="1047.7" r="5.9"/><circle cx="643.5" cy="1047.1" r="5.9"/><circle cx="646.0" cy="1045.9" r="5.9"/><circle cx="648.5" cy="1046.2" r="5.9"/><circle cx="651.0" cy="1048.8" r="5.9"/><circle cx="653.5" cy="1055.5" r="5.9"/><circle cx="656.0" cy="1056.4" r="5.9"/><circle cx="658.5" cy="1057.2" r="5.9"/><circle cx="661.0" cy="1053.3" r="5.9"/><circle cx="663.5" cy="1052.6" r="5.9"/><circle cx="666.0" cy="1046.6" r="5.9"/><circle cx="668.5" cy="1049.4" r="5.9"/><circle cx="671.0" cy="1050.5" r="5.9"/><circle cx="673.5" cy="1058.3" r="5.9"/><circle cx="676.0" cy="1057.8" r="5.9"/><circle cx="678.5" cy="1059.1" r="5.9"/><circle cx="681.0" cy="1052.9" r="5.9"/><circle cx="683.5" cy="1055.2" r="5.9"/><circle cx="686.0" cy="1054.7" r="5.9"/><circle cx="688.5" cy="1057.9" r="5.9"/><circle cx="691.0" cy="1052.3" r="5.9"/><circle cx="693.5" cy="1054.8" r="5.9"/><circle cx="696.0" cy="1057.1" r="5.9"/><circle cx="698.5" cy="1060.2" r="5.9"/><circle cx="701.0" cy="1059.2" r="5.9"/><circle cx="703.5" cy="1058.5" r="5.9"/><circle cx="706.0" cy="1061.4" r="5.9"/><circle cx="708.5" cy="1061.7" r="5.9"/><circle cx="711.0" cy="1064.2" r="5.9"/><circle cx="713.5" cy="1062.5" r="5.9"/><circle cx="716.0" cy="1061.7" r="5.9"/><circle cx="718.5" cy="1058.4" r="5.9"/><circle cx="721.0" cy="1054.8" r="5.9"/><circle cx="723.5" cy="1054.8" r="5.9"/><circle cx="726.0" cy="1057.5" r="5.9"/><circle cx="728.5" cy="1062.5" r="5.9"/><circle cx="731.0" cy="1062.8" r="5.9"/><circle cx="733.5" cy="1062.0" r="5.9"/><circle cx="736.0" cy="1058.5" r="5.9"/><circle cx="738.5" cy="1059.6" r="5.9"/><circle cx="741.0" cy="1060.2" r="5.9"/><circle cx="743.5" cy="1065.1" r="5.9"/><circle cx="746.0" cy="1064.5" r="5.9"/><circle cx="748.5" cy="1065.5" r="5.9"/><circle cx="751.0" cy="1067.7" r="5.9"/><circle cx="753.5" cy="1068.6" r="5.9"/><circle cx="756.0" cy="1068.6" r="5.9"/><circle cx="758.5" cy="1063.1" r="5.9"/><circle cx="761.0" cy="1060.8" r="5.9"/><circle cx="763.5" cy="1060.8" r="5.9"/><circle cx="766.0" cy="1063.8" r="5.9"/><circle cx="768.5" cy="1067.8" r="5.9"/><circle cx="771.0" cy="1066.0" r="5.9"/><circle cx="773.5" cy="1065.7" r="5.9"/><circle cx="776.0" cy="1067.1" r="5.9"/><circle cx="778.5" cy="1071.3" r="5.9"/><circle cx="781.0" cy="1071.7" r="5.9"/><circle cx="783.5" cy="1067.7" r="5.9"/><circle cx="786.0" cy="1067.3" r="5.9"/><circle cx="788.5" cy="1068.9" r="5.9"/><circle cx="791.0" cy="1073.2" r="5.9"/><circle cx="793.5" cy="1071.6" r="5.9"/><circle cx="796.0" cy="1074.9" r="5.9"/><circle cx="798.5" cy="1074.1" r="5.9"/><circle cx="801.0" cy="1074.9" r="5.9"/><circle cx="803.5" cy="1068.0" r="5.9"/><circle cx="806.0" cy="1067.1" r="5.9"/><circle cx="808.5" cy="1065.3" r="5.9"/><circle cx="811.0" cy="1068.7" r="5.9"/><circle cx="813.5" cy="1070.6" r="5.9"/><circle cx="816.0" cy="1070.7" r="5.9"/><circle cx="818.5" cy="1074.0" r="5.9"/><circle cx="821.0" cy="1071.8" r="5.9"/><circle cx="823.5" cy="1072.6" r="5.9"/><circle cx="826.0" cy="1070.3" r="5.9"/><circle cx="828.5" cy="1070.2" r="5.9"/><circle cx="831.0" cy="1072.2" r="5.9"/><circle cx="833.5" cy="1073.2" r="5.9"/><circle cx="836.0" cy="1075.1" r="5.9"/><circle cx="838.5" cy="1077.6" r="5.9"/><circle cx="841.0" cy="1076.9" r="5.9"/><circle cx="843.5" cy="1078.2" r="5.9"/><circle cx="846.0" cy="1073.5" r="5.9"/><circle cx="848.5" cy="1070.7" r="5.9"/><circle cx="851.0" cy="1068.7" r="5.9"/><circle cx="853.5" cy="1068.7" r="5.9"/><circle cx="856.0" cy="1069.7" r="5.9"/><circle cx="858.5" cy="1071.0" r="5.9"/><circle cx="861.0" cy="1066.3" r="5.9"/><circle cx="863.5" cy="1064.0" r="5.9"/><circle cx="866.0" cy="1058.3" r="5.9"/><circle cx="868.5" cy="1063.7" r="5.9"/><circle cx="871.0" cy="1064.1" r="5.9"/><circle cx="873.5" cy="1066.6" r="5.9"/><circle cx="876.0" cy="1062.6" r="5.9"/><circle cx="878.5" cy="1065.4" r="5.9"/><circle cx="881.0" cy="1065.8" r="5.9"/><circle cx="883.5" cy="1068.3" r="5.9"/><circle cx="886.0" cy="1063.4" r="5.9"/><circle cx="888.5" cy="1066.4" r="5.9"/><circle cx="891.0" cy="1066.9" r="5.9"/><circle cx="893.5" cy="1071.6" r="5.9"/><circle cx="896.0" cy="1072.0" r="5.9"/><circle cx="898.5" cy="1071.2" r="5.9"/><circle cx="901.0" cy="1070.2" r="5.9"/><circle cx="903.5" cy="1069.5" r="5.9"/><circle cx="906.0" cy="1070.8" r="5.9"/><circle cx="908.5" cy="1070.9" r="5.9"/><circle cx="911.0" cy="1069.9" r="5.9"/><circle cx="913.5" cy="1068.5" r="5.9"/><circle cx="916.0" cy="1070.4" r="5.9"/><circle cx="918.5" cy="1072.1" r="5.9"/><circle cx="921.0" cy="1073.2" r="5.9"/><circle cx="923.5" cy="1075.5" r="5.9"/><circle cx="926.0" cy="1071.4" r="5.9"/><circle cx="928.5" cy="1071.2" r="5.9"/><circle cx="931.0" cy="1071.1" r="5.9"/><circle cx="933.5" cy="1073.3" r="5.9"/><circle cx="936.0" cy="1071.1" r="5.9"/><circle cx="938.5" cy="1070.8" r="5.9"/><circle cx="941.0" cy="1072.6" r="5.9"/><circle cx="943.5" cy="1073.5" r="5.9"/><circle cx="946.0" cy="1072.7" r="5.9"/><circle cx="948.5" cy="1070.1" r="5.9"/><circle cx="951.0" cy="1070.1" r="5.9"/><circle cx="953.5" cy="1068.7" r="5.9"/><circle cx="956.0" cy="1069.8" r="5.9"/><circle cx="958.5" cy="1072.4" r="5.9"/><circle cx="199.4" cy="862.5" r="5.9"/></g><g fill="none" stroke="#800080" stroke-width="2"><circle cx="198.7" cy="919.2" r="5.9"/><circle cx="201.9" cy="930.8" r="5.9"/><circle cx="205.0" cy="942.9" r="5.9"/><circle cx="208.1" cy="955.2" r="5.9"/><circle cx="211.1" cy="967.5" r="5.9"/><circle cx="214.1" cy="976.8" r="5.9"/><circle cx="217.0" cy="981.4" r="5.9"/><circle cx="219.9" cy="984.7" r="5.9"/><circle cx="222.7" cy="989.2" r="5.9"/><circle cx="225.5" cy="995.1" r="5.9"/><circle cx="228.2" cy="1000.0" r="5.9"/><circle cx="230.9" cy="1001.0" r="5.9"/><circle cx="233.5" cy="1001.5" r="5.9"/><circle cx="236.1" cy="1000.9" r="5.9"/><circle cx="238.7" cy="1004.1" r="5.9"/><circle cx="241.2" cy="1005.0" r="5.9"/><circle cx="243.7" cy="1007.9" r="5.9"/><circle cx="246.2" cy="1009.0" r="5.9"/><circle cx="248.6" cy="1010.4" r="5.9"/><circle cx="251.1" cy="1011.2" r="5.9"/><circle cx="253.5" cy="1011.1" r="5.9"/><circle cx="255.9" cy="1012.2" r="5.9"/><circle cx="258.2" cy="1013.7" r="5.9"/><circle cx="260.6" cy="1018.2" r="5.9"/><circle cx="262.9" cy="1019.9" r="5.9"/><circle cx="265.2" cy="1020.4" r="5.9"/><circle cx="267.5" cy="1017.9" r="5.9"/><circle cx="269.8" cy="1019.1" r="5.9"/><circle cx="272.0" cy="1018.9" r="5.9"/><circle cx="274.3" cy="1019.9" r="5.9"/><circle cx="276.5" cy="1020.3" r="5.9"/><circle cx="278.7" cy="1021.4" r="5.9"/><circle cx="280.8" cy="1023.8" r="5.9"/><circle cx="283.0" cy="1025.1" r="5.9"/><circle cx="285.1" cy="1026.2" r="5.9"/><circle cx="287.3" cy="1025.4" r="5.9"/><circle cx="289.4" cy="1024.4" r="5.9"/><circle cx="291.5" cy="1024.4" r="5.9"/><circle cx="293.5" cy="1025.7" r="5.9"/><circle cx="295.6" cy="1027.5" r="5.9"/><circle cx="297.6" cy="1029.3" r="5.9"/><circle cx="299.6" cy="1029.6" r="5.9"/><circle cx="301.6" cy="1029.3" r="5.9"/><circle cx="303.6" cy="1029.7" r="5.9"/><circle cx="305.6" cy="1029.0" r="5.9"/><circle cx="307.6" cy="1029.8" r="5.9"/><circle cx="309.6" cy="1031.0" r="5.9"/><circle cx="311.6" cy="1033.3" r="5.9"/><circle cx="313.6" cy="1033.4" r="5.9"/><circle cx="315.6" cy="1032.5" r="5.9"/><circle cx="317.6" cy="1032.9" r="5.9"/><circle cx="319.6" cy="1034.8" r="5.9"/><circle cx="321.6" cy="1034.3" r="5.9"/><circle cx="323.6" cy="1033.4" r="5.9"/><circle cx="325.6" cy="1032.7" r="5.9"/><circle cx="327.6" cy="1034.9" r="5.9"/><circle cx="329.6" cy="1034.9" r="5.9"/><circle cx="331.6" cy="1035.5" r="5.9"/><circle cx="333.6" cy="1034.7" r="5.9"/><circle cx="335.6" cy="1037.2" r="5.9"/><circle cx="337.6" cy="1037.3" r="5.9"/><circle cx="339.6" cy="1037.7" r="5.9"/><circle cx="341.6" cy="1036.1" r="5.9"/><circle cx="343.6" cy="1036.8" r="5.9"/><circle cx="345.6" cy="1037.6" r="5.9"/><circle cx="347.6" cy="1037.3" r="5.9"/><circle cx="349.6" cy="1037.0" r="5.9"/><circle cx="351.6" cy="1035.8" r="5.9"/><circle cx="353.6" cy="1036.3" r="5.9"/><circle cx="355.6" cy="1035.5" r="5.9"/><circle cx="357.6" cy="1035.7" r="5.9"/><circle cx="359.6" cy="1035.9" r="5.9"/><circle cx="361.6" cy="1036.4" r="5.9"/><circle cx="363.6" cy="1037.9" r="5.9"/><circle cx="365.6" cy="1039.1" r="5.9"/><circle cx="367.6" cy="1039.8" r="5.9"/><circle cx="369.6" cy="1038.9" r="5.9"/><circle cx="371.6" cy="1039.1" r="5.9"/><circle cx="373.6" cy="1038.0" r="5.9"/><circle cx="375.6" cy="1037.7" r="5.9"/><circle cx="377.6" cy="1037.8" r="5.9"/><circle cx="379.6" cy="1039.8" r="5.9"/><circle cx="381.6" cy="1042.0" r="5.9"/><circle cx="383.6" cy="1041.6" r="5.9"/><circle cx="385.6" cy="1040.4" r="5.9"/><circle cx="387.6" cy="1039.6" r="5.9"/><circle cx="389.6" cy="1040.3" r="5.9"/><circle cx="391.6" cy="1040.8" r="5.9"/><circle cx="393.6" cy="1040.9" r="5.9"/><circle cx="395.6" cy="1039.7" r="5.9"/><circle cx="397.6" cy="1039.6" r="5.9"/><circle cx="399.6" cy="1040.9" r="5.9"/><circle cx="401.6" cy="1042.4" r="5.9"/><circle cx="403.6" cy="1042.6" r="5.9"/><circle cx="405.6" cy="1041.4" r="5.9"/><circle cx="407.6" cy="1040.9" r="5.9"/><circle cx="409.6" cy="1042.3" r="5.9"/><circle cx="411.6" cy="1042.4" r="5.9"/><circle cx="413.6" cy="1042.9" r="5.9"/><circle cx="415.6" cy="1041.3" r="5.9"/><circle cx="417.6" cy="1041.9" r="5.9"/><circle cx="419.6" cy="1042.9" r="5.9"/><circle cx="421.6" cy="1045.6" r="5.9"/><circle cx="423.6" cy="1046.3" r="5.9"/><circle cx="425.6" cy="1046.1" r="5.9"/><circle cx="427.6" cy="1046.7" r="5.9"/><circle cx="429.6" cy="1047.9" r="5.9"/><circle cx="431.6" cy="1048.6" r="5.9"/><circle cx="433.6" cy="1049.1" r="5.9"/><circle cx="435.6" cy="1050.1" r="5.9"/><circle cx="437.6" cy="1051.9" r="5.9"/><circle cx="439.6" cy="1052.7" r="5.9"/><circle cx="441.6" cy="1052.4" r="5.9"/><circle cx="443.6" cy="1051.7" r="5.9"/><circle cx="445.6" cy="1051.3" r="5.9"/><circle cx="447.6" cy="1050.9" r="5.9"/><circle cx="449.6" cy="1050.4" r="5.9"/><circle cx="451.6" cy="1051.3" r="5.9"/><circle cx="453.6" cy="1051.3" r="5.9"/><circle cx="455.6" cy="1052.8" r="5.9"/><circle cx="457.6" cy="1052.5" r="5.9"/><circle cx="459.6" cy="1053.7" r="5.9"/><circle cx="461.6" cy="1053.5" r="5.9"/><circle cx="463.6" cy="1053.8" r="5.9"/><circle cx="465.6" cy="1054.9" r="5.9"/><circle cx="467.6" cy="1054.4" r="5.9"/><circle cx="469.6" cy="1054.1" r="5.9"/><circle cx="471.6" cy="1053.2" r="5.9"/><circle cx="473.6" cy="1055.0" r="5.9"/><circle cx="475.6" cy="1055.9" r="5.9"/><circle cx="477.6" cy="1055.6" r="5.9"/><circle cx="479.6" cy="1054.2" r="5.9"/><circle cx="481.6" cy="1053.3" r="5.9"/><circle cx="483.6" cy="1054.1" r="5.9"/><circle cx="485.6" cy="1054.6" r="5.9"/><circle cx="487.6" cy="1056.9" r="5.9"/><circle cx="489.6" cy="1055.7" r="5.9"/><circle cx="491.6" cy="1056.5" r="5.9"/><circle cx="493.6" cy="1055.3" r="5.9"/><circle cx="495.6" cy="1056.3" r="5.9"/><circle cx="497.6" cy="1055.6" r="5.9"/><circle cx="499.6" cy="1055.1" r="5.9"/><circle cx="501.6" cy="1055.8" r="5.9"/><circle cx="503.6" cy="1056.7" r="5.9"/><circle cx="505.6" cy="1056.1" r="5.9"/><circle cx="507.6" cy="1057.2" r="5.9"/><circle cx="509.6" cy="1056.3" r="5.9"/><circle cx="511.6" cy="1058.6" r="5.9"/><circle cx="513.6" cy="1058.1" r="5.9"/><circle cx="515.6" cy="1059.3" r="5.9"/><circle cx="517.6" cy="1058.8" r="5.9"/><circle cx="519.6" cy="1059.4" r="5.9"/><circle cx="521.6" cy="1058.7" r="5.9"/><circle cx="523.6" cy="1057.8" r="5.9"/><circle cx="525.6" cy="1057.7" r="5.9"/><circle cx="527.6" cy="1058.3" r="5.9"/><circle cx="529.6" cy="1060.5" r="5.9"/><circle cx="531.6" cy="1058.7" r="5.9"/><circle cx="533.6" cy="1058.2" r="5.9"/><circle cx="535.6" cy="1057.6" r="5.9"/><circle cx="537.6" cy="1058.3" r="5.9"/><circle cx="539.6" cy="1058.4" r="5.9"/><circle cx="541.6" cy="1059.3" r="5.9"/><circle cx="543.6" cy="1061.4" r="5.9"/><circle cx="545.6" cy="1061.0" r="5.9"/><circle cx="547.6" cy="1060.7" r="5.9"/><circle cx="549.6" cy="1060.6" r="5.9"/><circle cx="551.6" cy="1062.0" r="5.9"/><circle cx="553.6" cy="1061.4" r="5.9"/><circle cx="555.6" cy="1060.8" r="5.9"/><circle cx="557.6" cy="1059.7" r="5.9"/><circle cx="559.6" cy="1059.1" r="5.9"/><circle cx="561.6" cy="1060.1" r="5.9"/><circle cx="563.6" cy="1061.5" r="5.9"/><circle cx="565.6" cy="1064.0" r="5.9"/><circle cx="567.6" cy="1063.9" r="5.9"/><circle cx="569.6" cy="1062.6" r="5.9"/><circle cx="571.6" cy="1061.6" r="5.9"/><circle cx="573.6" cy="1062.8" r="5.9"/><circle cx="575.6" cy="1065.6" r="5.9"/><circle cx="577.6" cy="1066.6" r="5.9"/><circle cx="579.6" cy="1066.4" r="5.9"/><circle cx="581.6" cy="1068.0" r="5.9"/><circle cx="583.6" cy="1068.1" r="5.9"/><circle cx="585.6" cy="1069.8" r="5.9"/><circle cx="587.6" cy="1068.7" r="5.9"/><circle cx="589.6" cy="1068.5" r="5.9"/><circle cx="591.6" cy="1069.3" r="5.9"/><circle cx="593.6" cy="1067.7" r="5.9"/><circle cx="595.6" cy="1068.3" r="5.9"/><circle cx="597.6" cy="1067.7" r="5.9"/><circle cx="599.6" cy="1069.7" r="5.9"/><circle cx="601.6" cy="1071.2" r="5.9"/><circle cx="603.6" cy="1071.0" r="5.9"/><circle cx="605.6" cy="1071.1" r="5.9"/><circle cx="607.6" cy="1072.5" r="5.9"/><circle cx="609.6" cy="1072.7" r="5.9"/><circle cx="611.6" cy="1073.1" r="5.9"/><circle cx="613.6" cy="1070.8" r="5.9"/><circle cx="615.6" cy="1070.6" r="5.9"/><circle cx="617.6" cy="1071.5" r="5.9"/><circle cx="619.6" cy="1073.0" r="5.9"/><circle cx="621.6" cy="1073.9" r="5.9"/><circle cx="623.6" cy="1073.0" r="5.9"/><circle cx="625.6" cy="1073.4" r="5.9"/><circle cx="627.6" cy="1072.2" r="5.9"/><circle cx="629.6" cy="1072.7" r="5.9"/><circle cx="631.6" cy="1072.2" r="5.9"/><circle cx="633.6" cy="1073.1" r="5.9"/><circle cx="635.6" cy="1073.8" r="5.9"/><circle cx="637.6" cy="1073.7" r="5.9"/><circle cx="639.6" cy="1073.9" r="5.9"/><circle cx="641.6" cy="1075.5" r="5.9"/><circle cx="643.6" cy="1076.9" r="5.9"/><circle cx="645.6" cy="1078.8" r="5.9"/><circle cx="647.6" cy="1077.6" r="5.9"/><circle cx="649.6" cy="1078.0" r="5.9"/><circle cx="651.6" cy="1077.8" r="5.9"/><circle cx="653.6" cy="1079.0" r="5.9"/><circle cx="655.6" cy="1080.4" r="5.9"/><circle cx="657.6" cy="1079.8" r="5.9"/><circle cx="659.6" cy="1079.2" r="5.9"/><circle cx="661.6" cy="1077.3" r="5.9"/><circle cx="663.6" cy="1074.7" r="5.9"/><circle cx="665.6" cy="1073.5" r="5.9"/><circle cx="667.6" cy="1073.8" r="5.9"/><circle cx="669.6" cy="1077.5" r="5.9"/><circle cx="671.6" cy="1078.5" r="5.9"/><circle cx="673.6" cy="1079.6" r="5.9"/><circle cx="675.6" cy="1080.4" r="5.9"/><circle cx="677.6" cy="1080.8" r="5.9"/><circle cx="679.6" cy="1081.2" r="5.9"/><circle cx="681.6" cy="1081.9" r="5.9"/><circle cx="683.6" cy="1082.9" r="5.9"/><circle cx="685.6" cy="1081.0" r="5.9"/><circle cx="687.6" cy="1080.9" r="5.9"/><circle cx="689.6" cy="1080.6" r="5.9"/><circle cx="691.6" cy="1081.3" r="5.9"/><circle cx="693.6" cy="1080.3" r="5.9"/><circle cx="695.6" cy="1080.2" r="5.9"/><circle cx="697.6" cy="1081.7" r="5.9"/><circle cx="699.6" cy="1082.5" r="5.9"/><circle cx="701.6" cy="1084.3" r="5.9"/><circle cx="703.6" cy="1084.1" r="5.9"/><circle cx="705.6" cy="1082.9" r="5.9"/><circle cx="707.6" cy="1081.8" r="5.9"/><circle cx="709.6" cy="1082.3" r="5.9"/><circle cx="711.6" cy="1082.9" r="5.9"/><circle cx="713.6" cy="1085.9" r="5.9"/><circle cx="715.6" cy="1085.1" r="5.9"/><circle cx="717.6" cy="1085.1" r="5.9"/><circle cx="719.6" cy="1083.7" r="5.9"/><circle cx="721.6" cy="1084.8" r="5.9"/><circle cx="723.6" cy="1085.5" r="5.9"/><circle cx="725.6" cy="1084.5" r="5.9"/><circle cx="727.6" cy="1084.4" r="5.9"/><circle cx="729.6" cy="1085.4" r="5.9"/><circle cx="731.6" cy="1086.5" r="5.9"/><circle cx="733.6" cy="1086.0" r="5.9"/><circle cx="735.6" cy="1085.9" r="5.9"/><circle cx="737.6" cy="1086.2" r="5.9"/><circle cx="739.6" cy="1087.4" r="5.9"/><circle cx="741.6" cy="1084.3" r="5.9"/><circle cx="743.6" cy="1082.8" r="5.9"/><circle cx="745.6" cy="1081.6" r="5.9"/><circle cx="747.6" cy="1084.5" r="5.9"/><circle cx="749.6" cy="1085.7" r="5.9"/><circle cx="751.6" cy="1087.5" r="5.9"/><circle cx="753.6" cy="1088.5" r="5.9"/><circle cx="755.6" cy="1088.4" r="5.9"/><circle cx="757.6" cy="1087.8" r="5.9"/><circle cx="759.6" cy="1089.1" r="5.9"/><circle cx="761.6" cy="1088.8" r="5.9"/><circle cx="763.6" cy="1089.3" r="5.9"/><circle cx="765.6" cy="1089.3" r="5.9"/><circle cx="767.6" cy="1090.4" r="5.9"/><circle cx="769.6" cy="1088.4" r="5.9"/><circle cx="771.6" cy="1087.4" r="5.9"/><circle cx="773.6" cy="1086.9" r="5.9"/><circle cx="775.6" cy="1089.0" r="5.9"/><circle cx="777.6" cy="1089.8" r="5.9"/><circle cx="779.6" cy="1090.9" r="5.9"/><circle cx="781.6" cy="1090.9" r="5.9"/><circle cx="783.6" cy="1091.0" r="5.9"/><circle cx="785.6" cy="1091.1" r="5.9"/><circle cx="787.6" cy="1091.7" r="5.9"/><circle cx="789.6" cy="1091.3" r="5.9"/><circle cx="791.6" cy="1091.3" r="5.9"/><circle cx="793.6" cy="1091.1" r="5.9"/><circle cx="795.6" cy="1090.5" r="5.9"/><circle cx="797.6" cy="1090.5" r="5.9"/><circle cx="799.6" cy="1090.1" r="5.9"/><circle cx="801.6" cy="1089.5" r="5.9"/><circle cx="803.6" cy="1091.0" r="5.9"/><circle cx="805.6" cy="1091.9" r="5.9"/><circle cx="807.6" cy="1093.3" r="5.9"/><circle cx="809.6" cy="1092.1" r="5.9"/><circle cx="811.6" cy="1092.5" r="5.9"/><circle cx="813.6" cy="1092.8" r="5.9"/><circle cx="815.6" cy="1093.2" r="5.9"/><circle cx="817.6" cy="1092.5" r="5.9"/><circle cx="819.6" cy="1093.6" r="5.9"/><circle cx="821.6" cy="1093.1" r="5.9"/><circle cx="823.6" cy="1095.1" r="5.9"/><circle cx="825.6" cy="1092.4" r="5.9"/><circle cx="827.6" cy="1092.2" r="5.9"/><circle cx="829.6" cy="1092.4" r="5.9"/><circle cx="831.6" cy="1094.4" r="5.9"/><circle cx="833.6" cy="1095.0" r="5.9"/><circle cx="835.6" cy="1094.5" r="5.9"/><circle cx="837.6" cy="1093.8" r="5.9"/><circle cx="839.6" cy="1094.8" r="5.9"/><circle cx="841.6" cy="1092.3" r="5.9"/><circle cx="843.6" cy="1093.1" r="5.9"/><circle cx="845.6" cy="1092.5" r="5.9"/><circle cx="847.6" cy="1095.6" r="5.9"/><circle cx="849.6" cy="1097.1" r="5.9"/><circle cx="851.6" cy="1097.1" r="5.9"/><circle cx="853.6" cy="1098.4" r="5.9"/><circle cx="855.6" cy="1097.1" r="5.9"/><circle cx="857.6" cy="1096.0" r="5.9"/><circle cx="859.6" cy="1092.0" r="5.9"/><circle cx="861.6" cy="1094.4" r="5.9"/><circle cx="863.6" cy="1096.7" r="5.9"/><circle cx="865.6" cy="1098.7" r="5.9"/><circle cx="867.6" cy="1096.5" r="5.9"/><circle cx="869.6" cy="1095.6" r="5.9"/><circle cx="871.6" cy="1097.9" r="5.9"/><circle cx="873.6" cy="1098.8" r="5.9"/><circle cx="875.6" cy="1102.1" r="5.9"/><circle cx="877.6" cy="1100.6" r="5.9"/><circle cx="879.6" cy="1098.3" r="5.9"/><circle cx="881.6" cy="1097.5" r="5.9"/><circle cx="883.6" cy="1097.5" r="5.9"/><circle cx="885.6" cy="1100.0" r="5.9"/><circle cx="887.6" cy="1100.9" r="5.9"/><circle cx="889.6" cy="1101.2" r="5.9"/><circle cx="891.6" cy="1102.9" r="5.9"/><circle cx="893.6" cy="1101.4" r="5.9"/><circle cx="895.6" cy="1101.1" r="5.9"/><circle cx="897.6" cy="1100.5" r="5.9"/><circle cx="899.6" cy="1100.1" r="5.9"/><circle cx="901.6" cy="1101.9" r="5.9"/><circle cx="903.6" cy="1101.9" r="5.9"/><circle cx="905.6" cy="1102.1" r="5.9"/><circle cx="907.6" cy="1100.9" r="5.9"/><circle cx="909.6" cy="1100.0" r="5.9"/><circle cx="911.6" cy="1099.1" r="5.9"/><circle cx="913.6" cy="1098.9" r="5.9"/><circle cx="915.6" cy="1097.6" r="5.9"/><circle cx="917.6" cy="1098.1" r="5.9"/><circle cx="919.6" cy="1095.5" r="5.9"/><circle cx="921.6" cy="1095.4" r="5.9"/><circle cx="923.6" cy="1094.7" r="5.9"/><circle cx="925.6" cy="1094.3" r="5.9"/><circle cx="927.6" cy="1093.3" r="5.9"/><circle cx="929.6" cy="1091.7" r="5.9"/><circle cx="931.6" cy="1093.5" r="5.9"/><circle cx="933.6" cy="1093.3" r="5.9"/><circle cx="935.6" cy="1094.5" r="5.9"/><circle cx="937.6" cy="1095.6" r="5.9"/><circle cx="939.6" cy="1097.0" r="5.9"/><circle cx="941.6" cy="1094.8" r="5.9"/><circle cx="943.6" cy="1093.4" r="5.9"/><circle cx="945.6" cy="1094.4" r="5.9"/><circle cx="947.6" cy="1096.0" r="5.9"/><circle cx="949.6" cy="1097.3" r="5.9"/><circle cx="951.6" cy="1097.0" r="5.9"/><circle cx="953.6" cy="1098.0" r="5.9"/><circle cx="955.6" cy="1096.6" r="5.9"/><circle cx="957.6" cy="1096.0" r="5.9"/><circle cx="197.5" cy="913.7" r="5.9"/><circle cx="202.5" cy="922.4" r="5.9"/></g>
<path d="M197.6,33.1L198.4,33.4L199.1,33.7L199.9,34.0L200.6,34.2L201.4,34.5L202.1,34.8L202.9,35.1L203.6,35.4L204.4,35.7L205.1,35.9L205.9,36.2L206.7,36.5L207.4,36.8L208.2,37.1L208.9,37.3L209.7,37.6L210.4,37.9L211.2,38.2L211.9,38.5L212.7,38.7L213.4,39.0L214.2,39.3L215.0,39.6L215.7,39.9L216.5,40.1L217.2,40.4L218.0,40.7L218.7,41.0L219.5,41.3L220.2,41.6L221.0,41.8L221.8,42.1L222.5,42.4L223.3,42.7L224.0,43.0L224.8,43.2L225.5,43.5L226.3,43.8L227.0,44.1L227.8,44.4L228.5,44.6L229.3,44.9L230.1,45.2L230.8,45.5L231.6,45.8L232.3,46.1L233.1,46.3L233.8,46.6L234.6,46.9L235.3,47.2L236.1,47.5L236.8,47.8L237.6,48.0L238.4,48.3L239.1,48.6L239.9,48.9L240.6,49.2L241.4,49.4L242.1,49.7L242.9,50.0L243.6,50.3L244.4,50.6L245.1,50.9L245.9,51.1L246.7,51.4L247.4,51.7L248.2,52.0L248.9,52.3L249.7,52.6L250.4,52.9L251.2,53.1L251.9,53.4L252.7,53.7L253.4,54.0L254.2,54.3L255.0,54.6L255.7,54.8L256.5,55.1L257.2,55.4L258.0,55.7L258.7,56.0L259.5,56.3L260.2,56.6L261.0,56.8L261.8,57.1L262.5,57.4L263.3,57.7L264.0,58.0L264.8,58.3L265.5,58.6L266.3,58.8L267.0,59.1L267.8,59.4L268.5,59.7L269.3,60.0L270.1,60.3L270.8,60.6L271.6,60.9L272.3,61.1L273.1,61.4L273.8,61.7L274.6,62.0L275.3,62.3L276.1,62.6L276.8,62.9L277.6,63.2L278.4,63.5L279.1,63.7L279.9,64.0L280.6,64.3L281.4,64.6L282.1,64.9L282.9,65.2L283.6,65.5L284.4,65.8L285.1,66.1L285.9,66.3L286.7,66.6L287.4,66.9L288.2,67.2L288.9,67.5L289.7,67.8L290.4,68.1L291.2,68.4L291.9,68.7L292.7,69.0L293.4,69.3L294.2,69.5L295.0,69.8L295.7,70.1L296.5,70.4L297.2,70.7L298.0,71.0L298.7,71.3L299.5,71.6L300.2,71.9L301.0,72.2L301.8,72.5L302.5,72.7L303.3,73.0L304.0,73.3L304.8,73.6L305.5,73.9L306.3,74.2L307.0,74.5L307.8,74.8L308.5,75.1L309.3,75.4L310.1,75.7L310.8,76.0L311.6,76.2L312.3,76.5L313.1,76.8L313.8,77.1L314.6,77.4L315.3,77.7L316.1,78.0L316.8,78.3L317.6,78.6L320.8,79.8L324.0,81.1L327.3,82.3L330.5,83.6L333.7,84.8L336.9,86.0L340.1,87.3L343.3,88.5L346.6,89.8L349.8,91.0L353.0,92.2L356.2,93.5L359.4,94.7L362.7,95.9L365.9,97.2L369.1,98.4L372.3,99.6L375.5,100.9L378.7,102.1L382.0,103.3L385.2,104.5L388.4,105.7L391.6,106.9L394.8,108.2L398.1,109.4L401.3,110.6L404.5,111.8L407.7,113.0L410.9,114.3L414.1,115.5L417.4,116.7L420.6,117.9L423.8,119.1L427.0,120.4L430.2,121.6L433.5,122.8L436.7,124.1L439.9,125.3L443.1,126.5L446.3,127.8L449.5,129.0L452.8,130.2L456.0,131.5L459.2,132.7L462.4,133.9L465.6,135.1L468.9,136.3L472.1,137.6L475.3,138.8L478.5,140.0L481.7,141.1L484.9,142.3L488.2,143.5L491.4,144.7L494.6,145.8L497.8,147.0L501.0,148.1L504.2,149.3L507.5,150.4L510.7,151.5L513.9,152.6L517.1,153.7L520.3,154.8L523.6,155.9L526.8,156.9L530.0,158.0L533.2,159.0L536.4,160.0L539.6,161.0L542.9,162.0L546.1,163.0L549.3,163.9L552.5,164.9L555.7,165.8L559.0,166.7L562.2,167.6L565.4,168.5L568.6,169.3L571.8,170.2L575.0,171.0L578.3,171.8L581.5,172.6L584.7,173.3L587.9,174.1L591.1,174.8L594.4,175.5L597.6,176.2L600.8,176.9L604.0,177.6L607.2,178.3L610.4,178.9L613.7,179.5L616.9,180.1L620.1,180.7L623.3,181.3L626.5,181.9L629.8,182.5L633.0,183.0L636.2,183.6L639.4,184.1L642.6,184.6L645.8,185.1L649.1,185.6L652.3,186.1L655.5,186.5L658.7,187.0L661.9,187.5L665.2,187.9L668.4,188.3L671.6,188.7L674.8,189.1L678.0,189.5L681.2,189.9L684.5,190.3L687.7,190.7L690.9,191.0L694.1,191.4L697.3,191.7L700.6,192.1L703.8,192.4L707.0,192.7L710.2,193.0L713.4,193.3L716.6,193.6L719.9,193.9L723.1,194.2L726.3,194.5L729.5,194.7L732.7,195.0L736.0,195.2L739.2,195.5L742.4,195.7L745.6,195.9L748.8,196.1L752.0,196.4L755.3,196.6L758.5,196.8L761.7,197.0L764.9,197.1L768.1,197.3L771.4,197.5L774.6,197.7L777.8,197.8L781.0,198.0L784.2,198.2L787.4,198.3L790.7,198.5L793.9,198.6L797.1,198.7L800.3,198.9L803.5,199.0L806.7,199.1L810.0,199.3L813.2,199.4L816.4,199.5L819.6,199.6L822.8,199.7L826.1,199.8L829.3,199.9L832.5,200.0L835.7,200.1L838.9,200.2L842.1,200.3L845.4,200.3L848.6,200.4L851.8,200.5L855.0,200.6L858.2,200.7L861.5,200.7L864.7,200.8L867.9,200.9L871.1,201.0L874.3,201.0L877.5,201.1L880.8,201.2L884.0,201.2L887.2,201.3L890.4,201.4L893.6,201.4L896.9,201.5L900.1,201.5L903.3,201.6L906.5,201.7L909.7,201.7L912.9,201.8L916.2,201.9L919.4,201.9L922.6,202.0L925.8,202.1L929.0,202.1L932.3,202.2L935.5,202.3L938.7,202.3L941.9,202.4L945.1,202.5L948.3,202.6L951.6,202.6L954.8,202.7L958.0,202.8" fill="none" stroke="#000" stroke-width="8.2" stroke-linecap="round" stroke-linejoin="round"/><path d="M198.2,42.3L199.0,42.8L199.7,43.3L200.5,43.8L201.2,44.4L202.0,44.9L202.7,45.4L203.5,45.9L204.2,46.5L205.0,47.0L205.7,47.5L206.5,48.1L207.3,48.6L208.0,49.1L208.8,49.7L209.5,50.2L210.3,50.7L211.0,51.3L211.8,51.8L212.5,52.3L213.3,52.9L214.0,53.4L214.8,53.9L215.6,54.5L216.3,55.0L217.1,55.6L217.8,56.1L218.6,56.6L219.3,57.2L220.1,57.7L220.8,58.3L221.6,58.8L222.4,59.3L223.1,59.9L223.9,60.4L224.6,61.0L225.4,61.5L226.1,62.1L226.9,62.6L227.6,63.1L228.4,63.7L229.1,64.2L229.9,64.8L230.7,65.3L231.4,65.9L232.2,66.4L232.9,66.9L233.7,67.5L234.4,68.0L235.2,68.6L235.9,69.1L236.7,69.7L237.4,70.2L238.2,70.7L239.0,71.3L239.7,71.8L240.5,72.4L241.2,72.9L242.0,73.5L242.7,74.0L243.5,74.5L244.2,75.1L245.0,75.6L245.7,76.2L246.5,76.7L247.3,77.2L248.0,77.8L248.8,78.3L249.5,78.9L250.3,79.4L251.0,79.9L251.8,80.5L252.5,81.0L253.3,81.6L254.0,82.1L254.8,82.6L255.6,83.2L256.3,83.7L257.1,84.2L257.8,84.8L258.6,85.3L259.3,85.8L260.1,86.4L260.8,86.9L261.6,87.4L262.4,88.0L263.1,88.5L263.9,89.0L264.6,89.5L265.4,90.1L266.1,90.6L266.9,91.1L267.6,91.6L268.4,92.2L269.1,92.7L269.9,93.2L270.7,93.7L271.4,94.3L272.2,94.8L272.9,95.3L273.7,95.8L274.4,96.3L275.2,96.8L275.9,97.4L276.7,97.9L277.4,98.4L278.2,98.9L279.0,99.4L279.7,99.9L280.5,100.4L281.2,100.9L282.0,101.4L282.7,101.9L283.5,102.4L284.2,102.9L285.0,103.4L285.7,103.9L286.5,104.4L287.3,104.9L288.0,105.4L288.8,105.9L289.5,106.4L290.3,106.9L291.0,107.4L291.8,107.9L292.5,108.4L293.3,108.9L294.0,109.4L294.8,109.9L295.6,110.3L296.3,110.8L297.1,111.3L297.8,111.8L298.6,112.3L299.3,112.8L300.1,113.2L300.8,113.7L301.6,114.2L302.4,114.7L303.1,115.1L303.9,115.6L304.6,116.1L305.4,116.5L306.1,117.0L306.9,117.5L307.6,118.0L308.4,118.4L309.1,118.9L309.9,119.3L310.7,119.8L311.4,120.3L312.2,120.7L312.9,121.2L313.7,121.6L314.4,122.1L315.2,122.6L315.9,123.0L316.7,123.5L317.4,123.9L318.2,124.4L321.4,126.3L324.6,128.2L327.8,130.0L331.1,131.9L334.3,133.7L337.5,135.5L340.7,137.3L343.9,139.1L347.1,140.9L350.4,142.6L353.6,144.3L356.8,146.0L360.0,147.7L363.2,149.3L366.4,151.0L369.6,152.6L372.9,154.2L376.1,155.7L379.3,157.3L382.5,158.8L385.7,160.3L388.9,161.8L392.1,163.3L395.4,164.8L398.6,166.2L401.8,167.6L405.0,169.0L408.2,170.4L411.4,171.8L414.7,173.1L417.9,174.5L421.1,175.8L424.3,177.1L427.5,178.3L430.7,179.6L433.9,180.8L437.2,182.0L440.4,183.2L443.6,184.4L446.8,185.5L450.0,186.7L453.2,187.8L456.4,188.9L459.7,190.0L462.9,191.0L466.1,192.1L469.3,193.1L472.5,194.1L475.7,195.1L479.0,196.1L482.2,197.0L485.4,198.0L488.6,198.9L491.8,199.8L495.0,200.7L498.2,201.5L501.5,202.4L504.7,203.2L507.9,204.0L511.1,204.8L514.3,205.6L517.5,206.3L520.7,207.0L524.0,207.8L527.2,208.5L530.4,209.1L533.6,209.8L536.8,210.4L540.0,211.1L543.3,211.7L546.5,212.3L549.7,212.9L552.9,213.4L556.1,214.0L559.3,214.5L562.5,215.1L565.8,215.6L569.0,216.1L572.2,216.6L575.4,217.0L578.6,217.5L581.8,218.0L585.1,218.4L588.3,218.8L591.5,219.2L594.7,219.6L597.9,220.0L601.1,220.4L604.3,220.8L607.6,221.1L610.8,221.5L614.0,221.9L617.2,222.2L620.4,222.5L623.6,222.8L626.8,223.2L630.1,223.5L633.3,223.8L636.5,224.1L639.7,224.3L642.9,224.6L646.1,224.9L649.4,225.2L652.6,225.4L655.8,225.7L659.0,226.0L662.2,226.2L665.4,226.5L668.6,226.7L671.9,227.0L675.1,227.2L678.3,227.4L681.5,227.7L684.7,227.9L687.9,228.1L691.1,228.4L694.4,228.6L697.6,228.8L700.8,229.0L704.0,229.2L707.2,229.4L710.4,229.6L713.7,229.8L716.9,230.0L720.1,230.2L723.3,230.4L726.5,230.6L729.7,230.8L732.9,230.9L736.2,231.1L739.4,231.3L742.6,231.5L745.8,231.6L749.0,231.8L752.2,232.0L755.5,232.1L758.7,232.3L761.9,232.4L765.1,232.6L768.3,232.7L771.5,232.9L774.7,233.0L778.0,233.2L781.2,233.3L784.4,233.4L787.6,233.6L790.8,233.7L794.0,233.8L797.2,233.9L800.5,234.1L803.7,234.2L806.9,234.3L810.1,234.4L813.3,234.5L816.5,234.6L819.8,234.8L823.0,234.9L826.2,235.0L829.4,235.1L832.6,235.2L835.8,235.3L839.0,235.4L842.3,235.5L845.5,235.5L848.7,235.6L851.9,235.7L855.1,235.8L858.3,235.9L861.5,236.0L864.8,236.1L868.0,236.1L871.2,236.2L874.4,236.3L877.6,236.4L880.8,236.4L884.1,236.5L887.3,236.6L890.5,236.6L893.7,236.7L896.9,236.8L900.1,236.8L903.3,236.9L906.6,236.9L909.8,237.0L913.0,237.0L916.2,237.1L919.4,237.2L922.6,237.2L925.8,237.3L929.1,237.3L932.3,237.4L935.5,237.4L938.7,237.4L941.9,237.5L945.1,237.5L948.4,237.6L951.6,237.6L954.8,237.7L958.0,237.7" fill="none" stroke="#000" stroke-width="8.2" stroke-linecap="round" stroke-linejoin="round"/><path d="M198.9,59.2L199.7,61.4L200.4,63.5L201.2,65.6L201.9,67.6L202.7,69.6L203.4,71.5L204.2,73.3L204.9,75.1L205.7,76.9L206.4,78.6L207.2,80.2L208.0,81.8L208.7,83.4L209.5,85.0L210.2,86.5L211.0,87.9L211.7,89.3L212.5,90.7L213.2,92.1L214.0,93.4L214.7,94.7L215.5,96.0L216.3,97.3L217.0,98.5L217.8,99.7L218.5,100.9L219.3,102.1L220.0,103.3L220.8,104.4L221.5,105.6L222.3,106.7L223.1,107.8L223.8,109.0L224.6,110.1L225.3,111.2L226.1,112.2L226.8,113.3L227.6,114.4L228.3,115.5L229.1,116.5L229.8,117.6L230.6,118.6L231.4,119.7L232.1,120.7L232.9,121.7L233.6,122.7L234.4,123.7L235.1,124.7L235.9,125.7L236.6,126.7L237.4,127.7L238.1,128.7L238.9,129.6L239.7,130.6L240.4,131.5L241.2,132.5L241.9,133.4L242.7,134.3L243.4,135.2L244.2,136.2L244.9,137.1L245.7,138.0L246.4,138.9L247.2,139.7L248.0,140.6L248.7,141.5L249.5,142.4L250.2,143.2L251.0,144.1L251.7,144.9L252.5,145.8L253.2,146.6L254.0,147.4L254.7,148.2L255.5,149.1L256.3,149.9L257.0,150.7L257.8,151.5L258.5,152.2L259.3,153.0L260.0,153.8L260.8,154.6L261.5,155.3L262.3,156.1L263.1,156.9L263.8,157.6L264.6,158.3L265.3,159.1L266.1,159.8L266.8,160.5L267.6,161.2L268.3,162.0L269.1,162.7L269.8,163.4L270.6,164.1L271.4,164.7L272.1,165.4L272.9,166.1L273.6,166.8L274.4,167.4L275.1,168.1L275.9,168.8L276.6,169.4L277.4,170.1L278.1,170.7L278.9,171.3L279.7,172.0L280.4,172.6L281.2,173.2L281.9,173.8L282.7,174.4L283.4,175.0L284.2,175.6L284.9,176.2L285.7,176.8L286.4,177.4L287.2,178.0L288.0,178.5L288.7,179.1L289.5,179.7L290.2,180.2L291.0,180.8L291.7,181.3L292.5,181.8L293.2,182.4L294.0,182.9L294.7,183.4L295.5,184.0L296.3,184.5L297.0,185.0L297.8,185.5L298.5,186.0L299.3,186.5L300.0,187.0L300.8,187.5L301.5,188.0L302.3,188.5L303.1,188.9L303.8,189.4L304.6,189.9L305.3,190.4L306.1,190.8L306.8,191.3L307.6,191.7L308.3,192.2L309.1,192.6L309.8,193.1L310.6,193.5L311.4,193.9L312.1,194.4L312.9,194.8L313.6,195.2L314.4,195.6L315.1,196.0L315.9,196.4L316.6,196.8L317.4,197.2L318.1,197.6L318.9,198.0L322.1,199.7L325.3,201.2L328.5,202.7L331.7,204.2L335.0,205.6L338.2,206.9L341.4,208.2L344.6,209.4L347.8,210.6L351.0,211.7L354.2,212.8L357.4,213.9L360.7,214.9L363.9,215.9L367.1,216.8L370.3,217.7L373.5,218.6L376.7,219.4L379.9,220.2L383.1,221.0L386.3,221.8L389.6,222.5L392.8,223.2L396.0,223.8L399.2,224.5L402.4,225.1L405.6,225.7L408.8,226.2L412.0,226.8L415.2,227.3L418.5,227.8L421.7,228.3L424.9,228.7L428.1,229.2L431.3,229.6L434.5,230.0L437.7,230.4L440.9,230.7L444.2,231.1L447.4,231.4L450.6,231.8L453.8,232.1L457.0,232.4L460.2,232.7L463.4,233.0L466.6,233.3L469.8,233.5L473.1,233.8L476.3,234.1L479.5,234.3L482.7,234.6L485.9,234.8L489.1,235.1L492.3,235.3L495.5,235.6L498.7,235.8L502.0,236.0L505.2,236.3L508.4,236.5L511.6,236.7L514.8,236.9L518.0,237.1L521.2,237.4L524.4,237.6L527.7,237.8L530.9,238.0L534.1,238.2L537.3,238.4L540.5,238.5L543.7,238.7L546.9,238.9L550.1,239.1L553.3,239.3L556.6,239.4L559.8,239.6L563.0,239.8L566.2,239.9L569.4,240.1L572.6,240.2L575.8,240.4L579.0,240.5L582.2,240.7L585.5,240.8L588.7,240.9L591.9,241.1L595.1,241.2L598.3,241.3L601.5,241.5L604.7,241.6L607.9,241.7L611.2,241.8L614.4,241.9L617.6,242.0L620.8,242.1L624.0,242.2L627.2,242.3L630.4,242.4L633.6,242.5L636.8,242.6L640.1,242.7L643.3,242.8L646.5,242.9L649.7,243.0L652.9,243.0L656.1,243.1L659.3,243.2L662.5,243.3L665.7,243.3L669.0,243.4L672.2,243.5L675.4,243.6L678.6,243.6L681.8,243.7L685.0,243.7L688.2,243.8L691.4,243.9L694.7,243.9L697.9,244.0L701.1,244.0L704.3,244.1L707.5,244.1L710.7,244.2L713.9,244.2L717.1,244.3L720.3,244.3L723.6,244.4L726.8,244.4L730.0,244.5L733.2,244.5L736.4,244.6L739.6,244.6L742.8,244.7L746.0,244.7L749.2,244.7L752.5,244.8L755.7,244.8L758.9,244.9L762.1,244.9L765.3,244.9L768.5,245.0L771.7,245.0L774.9,245.0L778.2,245.1L781.4,245.1L784.6,245.2L787.8,245.2L791.0,245.2L794.2,245.3L797.4,245.3L800.6,245.4L803.8,245.4L807.1,245.4L810.3,245.5L813.5,245.5L816.7,245.6L819.9,245.6L823.1,245.6L826.3,245.7L829.5,245.7L832.7,245.8L836.0,245.8L839.2,245.9L842.4,245.9L845.6,246.0L848.8,246.0L852.0,246.1L855.2,246.1L858.4,246.2L861.7,246.2L864.9,246.3L868.1,246.3L871.3,246.4L874.5,246.5L877.7,246.5L880.9,246.6L884.1,246.7L887.3,246.7L890.6,246.8L893.8,246.9L897.0,246.9L900.2,247.0L903.4,247.1L906.6,247.2L909.8,247.3L913.0,247.3L916.2,247.4L919.5,247.5L922.7,247.6L925.9,247.7L929.1,247.8L932.3,247.9L935.5,248.0L938.7,248.1L941.9,248.2L945.2,248.3L948.4,248.4L951.6,248.5L954.8,248.7L958.0,248.8" fill="none" stroke="#000" stroke-width="8.2" stroke-linecap="round" stroke-linejoin="round"/><path d="M198.6,319.6L199.2,320.4L199.8,321.3L200.4,322.1L201.0,322.9L201.6,323.7L202.2,324.5L202.7,325.3L203.3,326.1L203.8,326.9L204.4,327.7L204.9,328.5L205.4,329.3L206.0,330.1L206.5,330.9L207.0,331.7L207.5,332.5L208.0,333.3L208.4,334.0L208.9,334.8L209.4,335.6L209.9,336.3L210.3,337.1L210.8,337.8L211.2,338.6L211.7,339.3L212.1,340.1L212.6,340.8L213.0,341.6L213.5,342.3L213.9,343.0L214.4,343.7L214.8,344.5L215.2,345.2L215.7,345.9L216.1,346.6L216.5,347.3L217.0,348.0L217.4,348.7L217.8,349.4L218.3,350.1L218.7,350.7L219.1,351.4L219.6,352.1L220.0,352.8L220.4,353.4L220.9,354.1L221.3,354.7L221.8,355.4L222.2,356.0L222.7,356.7L223.1,357.3L223.6,357.9L224.0,358.5L224.5,359.2L225.0,359.8L225.4,360.4L225.9,361.0L226.3,361.6L226.8,362.1L227.2,362.7L227.7,363.3L228.1,363.8L228.5,364.4L229.0,364.9L229.4,365.4L229.8,365.9L230.2,366.4L230.6,366.9L231.0,367.4L231.4,367.9L231.8,368.4L232.2,368.8L232.6,369.3L232.9,369.7L233.3,370.1L233.7,370.5L234.0,370.9L234.4,371.3L234.7,371.7L235.0,372.1L235.4,372.5L235.7,372.8L236.1,373.2L236.4,373.5L236.8,373.8L237.1,374.2L237.4,374.5L237.8,374.8L238.2,375.1L238.5,375.4L238.9,375.7L239.3,376.0L239.7,376.3L240.0,376.5L240.4,376.8L240.9,377.1L241.3,377.3L241.7,377.6L242.1,377.8L242.6,378.1L243.0,378.3L243.4,378.5L243.9,378.8L244.3,379.0L244.8,379.2L245.2,379.4L245.7,379.6L246.1,379.8L246.5,380.0L247.0,380.2L247.4,380.4L247.8,380.6L248.3,380.8L248.7,380.9L249.1,381.1L249.5,381.3L249.9,381.4L250.2,381.6L250.6,381.8L251.0,381.9L251.3,382.1L251.7,382.2L252.0,382.4L252.4,382.5L252.8,382.6L253.1,382.8L253.5,382.9L253.8,383.1L254.2,383.2L254.6,383.3L255.0,383.5L255.4,383.6L255.9,383.7L256.3,383.9L256.8,384.0L257.3,384.1L257.8,384.3L258.3,384.4L258.9,384.5L259.5,384.7L260.1,384.8L260.8,385.0L261.5,385.1L262.2,385.3L262.9,385.4L263.7,385.6L264.5,385.7L265.3,385.9L266.1,386.0L267.0,386.2L267.8,386.3L268.7,386.5L269.6,386.6L270.5,386.8L271.4,386.9L272.3,387.1L273.2,387.2L274.2,387.4L275.1,387.5L276.0,387.6L277.0,387.7L277.9,387.9L278.8,388.0L279.7,388.1L280.6,388.2L281.5,388.3L282.4,388.4L283.3,388.4L284.2,388.5L285.1,388.6L285.9,388.7L286.8,388.7L287.7,388.8L288.5,388.9L289.4,388.9L290.2,389.0L291.0,389.0L291.9,389.1L292.7,389.2L293.5,389.2L294.4,389.3L295.2,389.3L296.0,389.4L296.9,389.4L297.7,389.5L298.5,389.6L299.4,389.6L300.2,389.7L301.0,389.8L301.9,389.9L302.7,390.0L303.5,390.0L304.4,390.1L305.2,390.2L306.1,390.3L306.9,390.4L307.8,390.5L308.6,390.6L309.5,390.7L310.3,390.8L311.2,391.0L312.0,391.1L312.9,391.2L313.8,391.3L314.6,391.4L315.5,391.5L316.3,391.7L317.2,391.8L318.1,391.9L318.9,392.0L319.8,392.2L320.7,392.3L321.5,392.4L322.4,392.6L323.3,392.7L324.1,392.8L325.0,393.0L325.9,393.1L326.7,393.2L327.6,393.4L328.5,393.5L329.3,393.6L330.2,393.8L331.0,393.9L331.9,394.1L332.7,394.2L333.6,394.4L334.4,394.5L335.3,394.7L336.1,394.8L336.9,394.9L337.8,395.1L338.6,395.2L339.4,395.4L340.2,395.5L341.1,395.7L341.9,395.8L342.7,396.0L343.5,396.2L344.3,396.3L345.1,396.5L345.9,396.6L346.7,396.8L347.5,396.9L348.3,397.1L349.1,397.2L350.0,397.4L350.8,397.5L351.7,397.6L352.5,397.8L353.4,397.9L354.3,398.0L355.1,398.2L356.0,398.3L357.0,398.4L357.9,398.6L358.9,398.7L359.8,398.8L360.8,398.9L361.8,399.0L362.8,399.1L363.9,399.2L364.9,399.3L365.9,399.4L366.9,399.5L368.0,399.5L369.0,399.6L370.0,399.7L370.9,399.8L371.9,399.8L372.8,399.9L373.7,400.0L374.6,400.0L375.4,400.1L376.2,400.2L376.9,400.2L377.6,400.3L378.2,400.3L378.8,400.4L379.3,400.4L379.7,400.5L380.1,400.5L380.4,400.6L380.7,400.6L380.9,400.7L381.1,400.7L381.3,400.8L381.5,400.8L381.7,400.9L381.9,400.9L382.2,401.0L382.6,401.0L383.0,401.1L383.6,401.1L384.2,401.2L385.0,401.3L385.9,401.3L386.9,401.4L388.1,401.5L389.5,401.6L391.1,401.7L392.9,401.8L394.9,401.9L397.2,402.0L399.7,402.1L402.5,402.2L405.5,402.3L408.7,402.5L412.2,402.6L415.9,402.7L419.8,402.9L423.8,403.0L428.0,403.2L432.3,403.4L436.8,403.5L441.3,403.7L445.9,403.9L450.6,404.0L455.4,404.2L460.1,404.4L464.9,404.5L469.7,404.7L474.5,404.9L479.2,405.0L483.9,405.2L488.5,405.4L493.0,405.5L497.5,405.7L501.8,405.9L505.9,406.0L510.0,406.2L514.0,406.3L517.9,406.5L521.8,406.6L525.6,406.7L529.4,406.9L533.1,407.0L536.9,407.2L540.7,407.3L544.6,407.4L548.5,407.5L552.4,407.7L556.5,407.8L560.7,407.9L564.9,408.0L569.4,408.2L573.9,408.3L578.7,408.4L583.6,408.5L588.7,408.6L594.1,408.8L599.7,408.9L605.5,409.0L611.6,409.1L617.9,409.3L624.4,409.4L631.1,409.5L638.0,409.6L645.1,409.8L652.4,409.9L659.9,410.0L667.5,410.1L675.2,410.2L683.1,410.4L691.1,410.5L699.2,410.6L707.4,410.7L715.7,410.8L724.1,411.0L732.6,411.1L741.1,411.2L749.6,411.3L758.2,411.4L766.8,411.5L775.4,411.6L784.1,411.8L792.7,411.9L801.3,412.0L809.8,412.1L818.4,412.2L826.8,412.3L835.2,412.4L843.6,412.5L851.8,412.5L860.0,412.6L868.0,412.7L875.9,412.8L883.7,412.9L891.4,413.0L898.9,413.1L906.3,413.1L913.5,413.2L920.5,413.3L927.3,413.3L933.9,413.4L940.2,413.4L946.4,413.5L952.3,413.6L958.0,413.6" fill="none" stroke="#000" stroke-width="5.2" stroke-linecap="round" stroke-linejoin="round"/><path d="M198.6,472.3L198.8,472.6L199.1,472.9L199.3,473.2L199.6,473.5L199.8,473.9L200.1,474.2L200.4,474.6L200.7,475.1L200.9,475.5L201.2,476.0L201.5,476.4L201.8,476.9L202.1,477.4L202.5,478.0L202.8,478.5L203.1,479.1L203.4,479.6L203.8,480.2L204.1,480.8L204.4,481.4L204.8,482.0L205.1,482.7L205.5,483.3L205.9,484.0L206.2,484.6L206.6,485.3L206.9,486.0L207.3,486.7L207.7,487.3L208.1,488.0L208.4,488.7L208.8,489.5L209.2,490.2L209.6,490.9L210.0,491.6L210.4,492.3L210.8,493.0L211.2,493.7L211.6,494.5L212.0,495.2L212.3,495.9L212.7,496.6L213.1,497.3L213.5,498.0L213.9,498.7L214.3,499.4L214.7,500.1L215.1,500.8L215.5,501.5L215.9,502.2L216.3,502.9L216.7,503.5L217.1,504.2L217.5,504.8L217.9,505.4L218.3,506.1L218.7,506.7L219.1,507.3L219.5,507.9L219.9,508.4L220.2,509.0L220.6,509.6L221.0,510.1L221.4,510.7L221.8,511.2L222.2,511.7L222.6,512.2L223.0,512.7L223.3,513.2L223.7,513.7L224.1,514.1L224.5,514.6L224.9,515.0L225.3,515.4L225.6,515.9L226.0,516.3L226.4,516.7L226.8,517.0L227.2,517.4L227.6,517.8L228.0,518.1L228.4,518.5L228.7,518.8L229.1,519.1L229.5,519.4L229.9,519.7L230.3,520.0L230.7,520.3L231.1,520.5L231.5,520.8L231.9,521.0L232.3,521.3L232.6,521.5L233.0,521.7L233.4,521.9L233.8,522.1L234.2,522.3L234.6,522.5L235.0,522.7L235.4,522.9L235.7,523.1L236.1,523.2L236.5,523.4L236.9,523.5L237.3,523.7L237.6,523.8L238.0,524.0L238.4,524.1L238.8,524.3L239.2,524.4L239.5,524.5L239.9,524.6L240.3,524.7L240.7,524.8L241.0,524.9L241.4,525.0L241.8,525.1L242.2,525.2L242.5,525.3L242.9,525.4L243.3,525.5L243.7,525.5L244.1,525.6L244.5,525.7L244.9,525.7L245.2,525.8L245.6,525.8L246.0,525.9L246.4,525.9L246.9,525.9L247.3,526.0L247.7,526.0L248.1,526.0L248.5,526.0L249.0,526.0L249.4,526.0L249.8,526.0L250.3,526.0L250.7,526.0L251.2,526.0L251.7,526.0L252.1,526.0L252.6,525.9L253.1,525.9L253.6,525.9L254.2,525.9L254.7,525.8L255.2,525.8L255.8,525.8L256.4,525.7L257.0,525.7L257.5,525.7L258.2,525.6L258.8,525.6L259.4,525.6L260.1,525.5L260.8,525.5L261.5,525.5L262.2,525.4L262.9,525.4L263.6,525.4L264.4,525.3L265.2,525.3L266.0,525.3L266.8,525.2L267.6,525.2L268.4,525.2L269.2,525.2L270.0,525.2L270.9,525.1L271.7,525.1L272.5,525.1L273.4,525.1L274.2,525.1L275.0,525.1L275.8,525.0L276.6,525.0L277.4,525.0L278.2,525.0L278.9,525.0L279.7,525.0L280.4,525.0L281.1,525.0L281.8,525.0L282.4,525.0L283.1,525.0L283.7,525.0L284.3,525.0L284.8,525.0L285.4,525.0L285.9,525.0L286.4,525.0L286.9,525.1L287.3,525.1L287.8,525.1L288.2,525.1L288.7,525.1L289.1,525.2L289.5,525.2L289.9,525.2L290.3,525.3L290.7,525.3L291.1,525.3L291.6,525.4L292.0,525.4L292.4,525.5L292.8,525.6L293.3,525.6L293.7,525.7L294.2,525.8L294.7,525.8L295.2,525.9L295.7,526.0L296.2,526.1L296.8,526.2L297.4,526.3L298.0,526.4L298.6,526.5L299.2,526.6L299.9,526.8L300.5,526.9L301.2,527.0L301.9,527.1L302.6,527.2L303.3,527.4L304.0,527.5L304.7,527.6L305.4,527.7L306.2,527.9L306.9,528.0L307.7,528.1L308.5,528.3L309.2,528.4L310.0,528.5L310.8,528.6L311.5,528.7L312.3,528.8L313.1,529.0L313.9,529.1L314.7,529.2L315.4,529.3L316.2,529.4L317.0,529.4L317.8,529.5L318.6,529.6L319.3,529.7L320.1,529.8L320.9,529.9L321.7,529.9L322.4,530.0L323.2,530.1L324.0,530.2L324.7,530.3L325.5,530.3L326.3,530.4L327.1,530.5L327.8,530.6L328.6,530.7L329.4,530.8L330.2,530.9L330.9,531.0L331.7,531.1L332.5,531.2L333.3,531.3L334.0,531.4L334.8,531.5L335.6,531.6L336.4,531.8L337.2,531.9L338.0,532.0L338.8,532.2L339.7,532.3L340.7,532.5L341.7,532.6L342.7,532.8L343.9,533.0L345.1,533.1L346.4,533.3L347.8,533.4L349.3,533.6L350.9,533.8L352.6,534.0L354.4,534.1L356.4,534.3L358.5,534.5L360.8,534.6L363.2,534.8L365.8,535.0L368.5,535.1L371.5,535.3L374.6,535.5L377.9,535.6L381.4,535.8L385.2,535.9L389.1,536.1L393.2,536.2L397.5,536.3L401.9,536.5L406.5,536.6L411.3,536.8L416.2,536.9L421.2,537.0L426.4,537.2L431.7,537.3L437.1,537.4L442.5,537.5L448.1,537.7L453.8,537.8L459.5,537.9L465.3,538.1L471.1,538.2L477.0,538.3L483.0,538.4L488.9,538.6L494.9,538.7L500.9,538.9L506.9,539.0L512.8,539.1L518.8,539.3L524.8,539.4L530.7,539.6L536.6,539.7L542.4,539.9L548.3,540.0L554.1,540.2L559.9,540.3L565.6,540.5L571.4,540.6L577.1,540.8L582.8,541.0L588.5,541.1L594.1,541.3L599.7,541.4L605.4,541.6L610.9,541.7L616.5,541.9L622.0,542.1L627.6,542.2L633.1,542.4L638.6,542.5L644.0,542.6L649.5,542.8L654.9,542.9L660.3,543.1L665.7,543.2L671.1,543.3L676.4,543.5L681.8,543.6L687.1,543.7L692.4,543.8L697.7,543.9L703.0,544.0L708.3,544.1L713.5,544.2L718.8,544.3L724.0,544.4L729.3,544.5L734.5,544.6L739.7,544.7L745.0,544.8L750.2,544.8L755.4,544.9L760.7,545.0L765.9,545.1L771.1,545.1L776.4,545.2L781.6,545.3L786.8,545.3L792.1,545.4L797.3,545.5L802.6,545.5L807.9,545.6L813.2,545.6L818.5,545.7L823.8,545.7L829.1,545.8L834.5,545.8L839.8,545.9L845.2,545.9L850.6,546.0L856.0,546.0L861.4,546.1L866.9,546.1L872.4,546.2L877.9,546.2L883.4,546.3L888.9,546.3L894.5,546.4L900.1,546.4L905.8,546.5L911.4,546.5L917.1,546.6L922.9,546.6L928.6,546.7L934.4,546.7L940.3,546.7L946.1,546.8L952.1,546.8L958.0,546.9" fill="none" stroke="#000" stroke-width="5.2" stroke-linecap="round" stroke-linejoin="round"/><path d="M198.6,577.5L198.7,578.0L198.7,578.6L198.8,579.1L198.9,579.7L199.0,580.2L199.0,580.8L199.1,581.3L199.2,581.9L199.3,582.5L199.3,583.0L199.4,583.6L199.5,584.2L199.6,584.8L199.7,585.4L199.8,586.0L199.9,586.5L200.0,587.1L200.1,587.7L200.1,588.3L200.2,588.9L200.3,589.5L200.4,590.1L200.6,590.7L200.7,591.3L200.8,591.9L200.9,592.5L201.0,593.1L201.1,593.7L201.2,594.3L201.3,594.9L201.5,595.5L201.6,596.1L201.7,596.6L201.8,597.2L202.0,597.8L202.1,598.4L202.2,599.0L202.4,599.5L202.5,600.1L202.6,600.7L202.8,601.2L202.9,601.8L203.1,602.3L203.2,602.8L203.4,603.4L203.5,603.9L203.7,604.4L203.9,604.9L204.0,605.5L204.2,606.0L204.4,606.5L204.6,606.9L204.7,607.4L204.9,607.9L205.1,608.4L205.3,608.8L205.4,609.3L205.6,609.7L205.8,610.2L206.0,610.6L206.2,611.0L206.4,611.5L206.5,611.9L206.7,612.3L206.9,612.7L207.1,613.1L207.3,613.5L207.5,613.8L207.6,614.2L207.8,614.6L208.0,614.9L208.2,615.3L208.4,615.6L208.5,615.9L208.7,616.2L208.9,616.6L209.1,616.9L209.2,617.2L209.4,617.4L209.6,617.7L209.7,618.0L209.9,618.3L210.1,618.5L210.3,618.8L210.4,619.0L210.6,619.3L210.8,619.5L210.9,619.7L211.1,619.9L211.3,620.2L211.5,620.4L211.7,620.6L211.8,620.7L212.0,620.9L212.2,621.1L212.4,621.3L212.6,621.4L212.8,621.6L213.0,621.7L213.2,621.9L213.4,622.0L213.6,622.1L213.8,622.2L214.0,622.3L214.2,622.4L214.4,622.5L214.6,622.6L214.9,622.7L215.1,622.8L215.3,622.8L215.6,622.9L215.8,622.9L216.0,622.9L216.3,623.0L216.6,623.0L216.8,623.0L217.1,623.0L217.4,623.0L217.7,623.0L218.0,623.0L218.3,622.9L218.6,622.9L218.9,622.8L219.2,622.8L219.5,622.7L219.8,622.7L220.2,622.6L220.5,622.6L220.8,622.5L221.2,622.4L221.6,622.3L221.9,622.2L222.3,622.2L222.7,622.1L223.1,622.0L223.4,621.9L223.8,621.8L224.2,621.7L224.6,621.7L225.1,621.6L225.5,621.5L225.9,621.4L226.3,621.3L226.8,621.3L227.2,621.2L227.6,621.1L228.1,621.0L228.5,621.0L229.0,620.9L229.4,620.8L229.9,620.8L230.3,620.7L230.8,620.7L231.2,620.6L231.7,620.6L232.1,620.5L232.6,620.5L233.0,620.5L233.5,620.4L233.9,620.4L234.3,620.4L234.8,620.3L235.2,620.3L235.6,620.3L236.0,620.3L236.4,620.3L236.8,620.3L237.2,620.3L237.5,620.3L237.9,620.3L238.3,620.3L238.6,620.3L239.0,620.3L239.3,620.4L239.7,620.4L240.0,620.4L240.4,620.5L240.7,620.5L241.1,620.6L241.4,620.6L241.7,620.7L242.1,620.8L242.4,620.8L242.7,620.9L243.1,621.0L243.4,621.1L243.7,621.2L244.1,621.3L244.4,621.4L244.8,621.6L245.1,621.7L245.4,621.8L245.8,622.0L246.2,622.1L246.5,622.3L246.9,622.4L247.3,622.6L247.7,622.8L248.1,623.0L248.5,623.1L248.9,623.3L249.4,623.5L249.8,623.7L250.3,623.9L250.8,624.2L251.3,624.4L251.8,624.6L252.4,624.8L252.9,625.1L253.5,625.3L254.2,625.5L254.8,625.8L255.4,626.0L256.1,626.3L256.8,626.6L257.6,626.8L258.3,627.1L259.0,627.4L259.8,627.6L260.6,627.9L261.4,628.2L262.2,628.5L263.0,628.7L263.9,629.0L264.7,629.3L265.5,629.5L266.4,629.8L267.2,630.1L268.1,630.4L268.9,630.6L269.8,630.9L270.6,631.1L271.5,631.4L272.3,631.6L273.1,631.9L274.0,632.1L274.8,632.3L275.6,632.6L276.4,632.8L277.3,633.0L278.1,633.2L278.9,633.4L279.7,633.6L280.5,633.8L281.4,634.1L282.2,634.3L283.1,634.5L283.9,634.7L284.8,634.9L285.7,635.1L286.6,635.3L287.5,635.5L288.4,635.7L289.3,635.9L290.3,636.1L291.3,636.3L292.3,636.5L293.3,636.8L294.4,637.0L295.4,637.2L296.5,637.4L297.7,637.7L298.8,637.9L300.0,638.2L301.2,638.4L302.4,638.6L303.6,638.9L304.9,639.1L306.2,639.4L307.5,639.6L308.8,639.9L310.2,640.2L311.6,640.4L313.0,640.7L314.4,640.9L315.9,641.2L317.3,641.4L318.8,641.7L320.4,641.9L321.9,642.2L323.5,642.4L325.1,642.7L326.7,642.9L328.3,643.2L329.9,643.4L331.6,643.7L333.2,643.9L334.8,644.1L336.4,644.4L338.0,644.6L339.6,644.8L341.1,645.0L342.6,645.2L344.1,645.4L345.5,645.6L346.8,645.8L348.1,646.0L349.3,646.2L350.4,646.4L351.5,646.5L352.5,646.7L353.3,646.9L354.1,647.0L354.8,647.2L355.3,647.3L355.8,647.4L356.1,647.5L356.4,647.6L356.6,647.7L356.8,647.8L357.0,647.9L357.2,648.0L357.4,648.1L357.6,648.2L357.9,648.3L358.3,648.4L358.9,648.5L359.5,648.6L360.3,648.7L361.3,648.9L362.5,649.0L363.9,649.1L365.5,649.3L367.4,649.5L369.6,649.6L372.1,649.8L374.9,650.0L378.0,650.3L381.5,650.5L385.3,650.8L389.6,651.0L394.1,651.3L398.9,651.6L404.0,652.0L409.4,652.3L415.0,652.6L420.9,653.0L426.9,653.4L433.1,653.7L439.4,654.1L445.9,654.5L452.5,654.8L459.2,655.2L465.9,655.6L472.7,656.0L479.5,656.4L486.3,656.7L493.1,657.1L499.9,657.5L506.5,657.8L513.1,658.1L519.6,658.5L526.0,658.8L532.2,659.1L538.4,659.4L544.5,659.7L550.5,660.0L556.4,660.2L562.4,660.5L568.3,660.7L574.2,661.0L580.1,661.2L586.1,661.4L592.1,661.6L598.1,661.8L604.3,662.1L610.5,662.2L616.9,662.4L623.4,662.6L630.0,662.8L636.8,663.0L643.8,663.1L650.9,663.3L658.3,663.5L665.9,663.6L673.7,663.8L681.8,663.9L690.2,664.1L698.8,664.2L707.8,664.4L717.1,664.5L726.7,664.7L736.7,664.8L747.1,665.0L757.8,665.1L769.0,665.3L780.5,665.4L792.5,665.6L805.0,665.7L817.9,665.9L831.3,666.0L845.2,666.2L859.7,666.4L874.6,666.5L890.1,666.7L906.2,666.9L922.9,667.1L940.1,667.3L958.0,667.5" fill="none" stroke="#000" stroke-width="5.2" stroke-linecap="round" stroke-linejoin="round"/><path d="M198.2,723.0L198.3,723.2L198.4,723.3L198.5,723.5L198.6,723.6L198.7,723.7L198.8,723.8L199.0,723.9L199.1,724.0L199.2,724.1L199.4,724.1L199.5,724.1L199.7,724.1L199.8,724.1L200.0,724.1L200.2,724.1L200.3,724.1L200.5,724.0L200.7,724.0L200.9,723.9L201.0,723.8L201.2,723.7L201.4,723.6L201.6,723.5L201.8,723.3L202.0,723.2L202.2,723.0L202.4,722.9L202.6,722.7L202.8,722.5L203.0,722.3L203.3,722.1L203.5,721.9L203.7,721.7L203.9,721.5L204.1,721.2L204.3,721.0L204.6,720.7L204.8,720.5L205.0,720.2L205.2,720.0L205.5,719.7L205.7,719.4L205.9,719.1L206.1,718.8L206.4,718.5L206.6,718.2L206.8,717.9L207.0,717.6L207.3,717.2L207.5,716.9L207.7,716.6L207.9,716.3L208.1,715.9L208.4,715.6L208.6,715.3L208.8,714.9L209.0,714.6L209.3,714.3L209.5,713.9L209.7,713.6L209.9,713.3L210.1,713.0L210.4,712.7L210.6,712.4L210.8,712.1L211.0,711.8L211.2,711.5L211.5,711.2L211.7,711.0L211.9,710.7L212.1,710.5L212.4,710.2L212.6,710.0L212.8,709.8L213.0,709.6L213.3,709.4L213.5,709.2L213.7,709.0L213.9,708.9L214.2,708.7L214.4,708.6L214.6,708.4L214.8,708.3L215.1,708.2L215.3,708.1L215.5,708.0L215.7,707.9L215.9,707.8L216.2,707.7L216.4,707.7L216.6,707.6L216.8,707.6L217.0,707.5L217.2,707.5L217.4,707.5L217.6,707.5L217.8,707.5L218.1,707.5L218.3,707.5L218.5,707.5L218.7,707.6L218.9,707.6L219.1,707.7L219.3,707.8L219.5,707.9L219.7,708.0L219.9,708.1L220.1,708.2L220.3,708.4L220.6,708.6L220.8,708.8L221.0,709.0L221.2,709.3L221.5,709.5L221.7,709.8L222.0,710.1L222.2,710.5L222.5,710.8L222.7,711.2L223.0,711.6L223.3,712.1L223.5,712.5L223.8,713.0L224.1,713.5L224.4,714.0L224.7,714.5L225.0,715.0L225.3,715.5L225.6,716.1L225.9,716.6L226.2,717.2L226.5,717.8L226.8,718.4L227.2,719.0L227.5,719.6L227.8,720.1L228.2,720.7L228.5,721.3L228.9,721.9L229.2,722.5L229.6,723.1L229.9,723.7L230.3,724.3L230.6,724.8L231.0,725.4L231.4,725.9L231.7,726.5L232.1,727.0L232.4,727.6L232.8,728.1L233.2,728.6L233.5,729.1L233.9,729.6L234.3,730.1L234.6,730.6L235.0,731.0L235.3,731.5L235.7,731.9L236.0,732.3L236.4,732.8L236.7,733.2L237.0,733.6L237.4,733.9L237.7,734.3L238.0,734.6L238.3,735.0L238.7,735.3L239.0,735.6L239.3,735.9L239.6,736.2L239.9,736.5L240.2,736.7L240.5,737.0L240.8,737.2L241.1,737.4L241.4,737.6L241.8,737.8L242.1,738.0L242.5,738.2L242.8,738.4L243.2,738.6L243.5,738.7L243.9,738.9L244.3,739.0L244.8,739.2L245.2,739.3L245.6,739.4L246.1,739.5L246.6,739.6L247.1,739.7L247.6,739.8L248.1,739.9L248.7,740.0L249.2,740.1L249.8,740.2L250.4,740.3L250.9,740.3L251.5,740.4L252.1,740.5L252.6,740.5L253.2,740.6L253.8,740.7L254.3,740.7L254.9,740.8L255.4,740.8L255.9,740.9L256.4,741.0L256.9,741.0L257.4,741.1L257.9,741.1L258.3,741.2L258.7,741.2L259.1,741.3L259.5,741.4L259.8,741.4L260.2,741.5L260.5,741.6L260.8,741.7L261.1,741.8L261.4,741.9L261.7,742.0L262.0,742.1L262.3,742.2L262.6,742.4L262.9,742.5L263.3,742.7L263.6,742.8L263.9,743.0L264.3,743.2L264.7,743.4L265.0,743.7L265.5,743.9L265.9,744.2L266.4,744.5L266.8,744.8L267.4,745.1L267.9,745.5L268.5,745.8L269.1,746.2L269.7,746.6L270.3,747.0L271.0,747.4L271.7,747.8L272.4,748.2L273.1,748.7L273.8,749.1L274.6,749.5L275.3,750.0L276.1,750.4L276.8,750.8L277.6,751.3L278.4,751.7L279.2,752.1L280.0,752.5L280.7,752.9L281.5,753.2L282.3,753.6L283.1,753.9L283.8,754.3L284.6,754.6L285.3,754.9L286.1,755.1L286.9,755.4L287.6,755.6L288.4,755.9L289.2,756.1L289.9,756.3L290.7,756.5L291.6,756.7L292.4,756.9L293.2,757.1L294.1,757.3L295.0,757.5L295.9,757.7L296.8,757.8L297.8,758.0L298.7,758.2L299.8,758.4L300.8,758.6L301.9,758.8L303.0,759.0L304.2,759.2L305.4,759.4L306.7,759.6L308.0,759.8L309.3,760.1L310.6,760.3L311.9,760.6L313.3,760.8L314.7,761.1L316.1,761.4L317.5,761.6L318.9,761.9L320.3,762.2L321.7,762.4L323.1,762.7L324.5,763.0L325.9,763.3L327.2,763.6L328.5,763.9L329.8,764.1L331.1,764.4L332.3,764.7L333.5,765.0L334.7,765.3L335.8,765.5L336.8,765.8L337.9,766.1L339.0,766.4L340.0,766.6L341.1,766.9L342.2,767.2L343.4,767.4L344.7,767.7L346.0,767.9L347.4,768.2L349.0,768.5L350.7,768.7L352.5,769.0L354.5,769.2L356.6,769.5L358.9,769.8L361.5,770.0L364.2,770.3L367.2,770.6L370.4,770.8L373.9,771.1L377.7,771.3L381.7,771.6L386.0,771.9L390.6,772.1L395.5,772.4L400.6,772.7L405.9,773.0L411.4,773.2L417.1,773.5L423.0,773.8L429.1,774.1L435.2,774.4L441.5,774.7L447.9,774.9L454.3,775.2L460.9,775.5L467.4,775.8L474.0,776.1L480.6,776.4L487.3,776.7L493.8,777.0L500.4,777.3L506.9,777.6L513.3,777.9L519.6,778.2L525.9,778.5L532.0,778.8L538.0,779.1L544.0,779.4L549.9,779.7L555.8,780.0L561.7,780.3L567.6,780.7L573.5,781.0L579.4,781.3L585.4,781.6L591.4,782.0L597.5,782.3L603.7,782.6L610.0,783.0L616.4,783.3L622.9,783.7L629.6,784.0L636.5,784.4L643.5,784.7L650.7,785.1L658.2,785.4L665.8,785.8L673.8,786.2L681.9,786.6L690.4,786.9L699.1,787.3L708.1,787.7L717.5,788.1L727.2,788.5L737.2,788.9L747.6,789.3L758.4,789.7L769.6,790.2L781.2,790.6L793.2,791.0L805.7,791.5L818.6,791.9L832.0,792.4L845.9,792.8L860.3,793.3L875.2,793.7L890.6,794.2L906.6,794.7L923.1,795.2L940.3,795.7L958.0,796.2" fill="none" stroke="#000" stroke-width="5.2" stroke-linecap="round" stroke-linejoin="round"/><path d="M198.0,879.9L198.8,880.6L199.5,881.3L200.3,882.1L201.0,882.8L201.8,883.5L202.5,884.2L203.3,885.0L204.0,885.7L204.8,886.4L205.5,887.1L206.3,887.8L207.1,888.5L207.8,889.2L208.6,890.0L209.3,890.7L210.1,891.4L210.8,892.1L211.6,892.8L212.3,893.5L213.1,894.2L213.8,894.9L214.6,895.6L215.4,896.3L216.1,896.9L216.9,897.6L217.6,898.3L218.4,899.0L219.1,899.7L219.9,900.4L220.6,901.1L221.4,901.7L222.2,902.4L222.9,903.1L223.7,903.8L224.4,904.4L225.2,905.1L225.9,905.8L226.7,906.4L227.4,907.1L228.2,907.8L228.9,908.4L229.7,909.1L230.5,909.7L231.2,910.4L232.0,911.1L232.7,911.7L233.5,912.3L234.2,913.0L235.0,913.6L235.7,914.3L236.5,914.9L237.2,915.6L238.0,916.2L238.8,916.8L239.5,917.5L240.3,918.1L241.0,918.7L241.8,919.3L242.5,920.0L243.3,920.6L244.0,921.2L244.8,921.8L245.5,922.4L246.3,923.0L247.1,923.7L247.8,924.3L248.6,924.9L249.3,925.5L250.1,926.1L250.8,926.7L251.6,927.3L252.3,927.9L253.1,928.4L253.8,929.0L254.6,929.6L255.4,930.2L256.1,930.8L256.9,931.4L257.6,931.9L258.4,932.5L259.1,933.1L259.9,933.6L260.6,934.2L261.4,934.8L262.2,935.3L262.9,935.9L263.7,936.5L264.4,937.0L265.2,937.6L265.9,938.1L266.7,938.7L267.4,939.2L268.2,939.7L268.9,940.3L269.7,940.8L270.5,941.3L271.2,941.9L272.0,942.4L272.7,942.9L273.5,943.4L274.2,944.0L275.0,944.5L275.7,945.0L276.5,945.5L277.2,946.0L278.0,946.5L278.8,947.0L279.5,947.5L280.3,948.0L281.0,948.5L281.8,949.0L282.5,949.5L283.3,950.0L284.0,950.5L284.8,950.9L285.5,951.4L286.3,951.9L287.1,952.4L287.8,952.8L288.6,953.3L289.3,953.8L290.1,954.2L290.8,954.7L291.6,955.1L292.3,955.6L293.1,956.0L293.8,956.5L294.6,956.9L295.4,957.3L296.1,957.8L296.9,958.2L297.6,958.6L298.4,959.1L299.1,959.5L299.9,959.9L300.6,960.3L301.4,960.7L302.2,961.1L302.9,961.6L303.7,962.0L304.4,962.4L305.2,962.8L305.9,963.2L306.7,963.6L307.4,963.9L308.2,964.3L308.9,964.7L309.7,965.1L310.5,965.5L311.2,965.9L312.0,966.3L312.7,966.6L313.5,967.0L314.2,967.4L315.0,967.7L315.7,968.1L316.5,968.5L317.2,968.8L318.0,969.2L321.2,970.7L324.4,972.2L327.6,973.6L330.9,975.0L334.1,976.3L337.3,977.6L340.5,978.9L343.7,980.2L346.9,981.4L350.2,982.6L353.4,983.8L356.6,985.0L359.8,986.1L363.0,987.2L366.2,988.3L369.5,989.4L372.7,990.4L375.9,991.5L379.1,992.5L382.3,993.5L385.5,994.5L388.8,995.4L392.0,996.4L395.2,997.3L398.4,998.2L401.6,999.2L404.8,1000.1L408.1,1000.9L411.3,1001.8L414.5,1002.7L417.7,1003.5L420.9,1004.4L424.1,1005.2L427.3,1006.1L430.6,1006.9L433.8,1007.7L437.0,1008.5L440.2,1009.3L443.4,1010.1L446.6,1010.9L449.9,1011.7L453.1,1012.5L456.3,1013.2L459.5,1014.0L462.7,1014.8L465.9,1015.5L469.2,1016.2L472.4,1017.0L475.6,1017.7L478.8,1018.4L482.0,1019.1L485.2,1019.8L488.5,1020.5L491.7,1021.2L494.9,1021.9L498.1,1022.6L501.3,1023.2L504.5,1023.9L507.7,1024.5L511.0,1025.2L514.2,1025.8L517.4,1026.5L520.6,1027.1L523.8,1027.7L527.0,1028.3L530.3,1028.9L533.5,1029.5L536.7,1030.1L539.9,1030.7L543.1,1031.2L546.3,1031.8L549.6,1032.4L552.8,1032.9L556.0,1033.5L559.2,1034.0L562.4,1034.5L565.6,1035.1L568.9,1035.6L572.1,1036.1L575.3,1036.6L578.5,1037.1L581.7,1037.6L584.9,1038.1L588.2,1038.6L591.4,1039.1L594.6,1039.5L597.8,1040.0L601.0,1040.5L604.2,1040.9L607.4,1041.4L610.7,1041.9L613.9,1042.3L617.1,1042.8L620.3,1043.2L623.5,1043.6L626.7,1044.1L630.0,1044.5L633.2,1044.9L636.4,1045.4L639.6,1045.8L642.8,1046.2L646.0,1046.7L649.3,1047.1L652.5,1047.5L655.7,1047.9L658.9,1048.3L662.1,1048.8L665.3,1049.2L668.6,1049.6L671.8,1050.0L675.0,1050.4L678.2,1050.8L681.4,1051.2L684.6,1051.6L687.8,1052.0L691.1,1052.4L694.3,1052.8L697.5,1053.2L700.7,1053.6L703.9,1054.0L707.1,1054.4L710.4,1054.8L713.6,1055.2L716.8,1055.6L720.0,1056.0L723.2,1056.4L726.4,1056.8L729.7,1057.1L732.9,1057.5L736.1,1057.9L739.3,1058.3L742.5,1058.6L745.7,1059.0L749.0,1059.4L752.2,1059.8L755.4,1060.1L758.6,1060.5L761.8,1060.9L765.0,1061.2L768.3,1061.6L771.5,1061.9L774.7,1062.3L777.9,1062.6L781.1,1063.0L784.3,1063.4L787.5,1063.7L790.8,1064.1L794.0,1064.4L797.2,1064.7L800.4,1065.1L803.6,1065.4L806.8,1065.8L810.1,1066.1L813.3,1066.4L816.5,1066.8L819.7,1067.1L822.9,1067.4L826.1,1067.8L829.4,1068.1L832.6,1068.4L835.8,1068.7L839.0,1069.1L842.2,1069.4L845.4,1069.7L848.7,1070.0L851.9,1070.3L855.1,1070.6L858.3,1071.0L861.5,1071.3L864.7,1071.6L867.9,1071.9L871.2,1072.2L874.4,1072.5L877.6,1072.8L880.8,1073.1L884.0,1073.4L887.2,1073.7L890.5,1074.0L893.7,1074.2L896.9,1074.5L900.1,1074.8L903.3,1075.1L906.5,1075.4L909.8,1075.7L913.0,1075.9L916.2,1076.2L919.4,1076.5L922.6,1076.8L925.8,1077.0L929.1,1077.3L932.3,1077.6L935.5,1077.8L938.7,1078.1L941.9,1078.4L945.1,1078.6L948.4,1078.9L951.6,1079.1L954.8,1079.4L958.0,1079.6" fill="none" stroke="#000" stroke-width="8.2" stroke-linecap="round" stroke-linejoin="round"/><path d="M198.7,923.1L199.5,926.0L200.2,928.9L201.0,931.6L201.7,934.3L202.5,936.9L203.2,939.4L204.0,941.9L204.7,944.3L205.5,946.6L206.2,948.9L207.0,951.1L207.8,953.2L208.5,955.3L209.3,957.3L210.0,959.2L210.8,961.1L211.5,963.0L212.3,964.8L213.0,966.5L213.8,968.2L214.5,969.8L215.3,971.4L216.1,972.9L216.8,974.4L217.6,975.9L218.3,977.3L219.1,978.7L219.8,980.0L220.6,981.3L221.3,982.6L222.1,983.8L222.9,985.0L223.6,986.2L224.4,987.3L225.1,988.4L225.9,989.5L226.6,990.5L227.4,991.5L228.1,992.5L228.9,993.5L229.6,994.5L230.4,995.4L231.2,996.3L231.9,997.2L232.7,998.0L233.4,998.8L234.2,999.7L234.9,1000.4L235.7,1001.2L236.4,1002.0L237.2,1002.7L237.9,1003.4L238.7,1004.1L239.5,1004.8L240.2,1005.4L241.0,1006.1L241.7,1006.7L242.5,1007.3L243.2,1007.9L244.0,1008.5L244.7,1009.1L245.5,1009.6L246.2,1010.2L247.0,1010.7L247.8,1011.2L248.5,1011.7L249.3,1012.2L250.0,1012.7L250.8,1013.2L251.5,1013.6L252.3,1014.1L253.0,1014.6L253.8,1015.0L254.5,1015.4L255.3,1015.9L256.1,1016.3L256.8,1016.7L257.6,1017.2L258.3,1017.6L259.1,1018.0L259.8,1018.4L260.6,1018.8L261.3,1019.1L262.1,1019.5L262.9,1019.9L263.6,1020.3L264.4,1020.6L265.1,1021.0L265.9,1021.4L266.6,1021.7L267.4,1022.1L268.1,1022.4L268.9,1022.7L269.6,1023.1L270.4,1023.4L271.2,1023.7L271.9,1024.0L272.7,1024.3L273.4,1024.6L274.2,1024.9L274.9,1025.2L275.7,1025.5L276.4,1025.8L277.2,1026.1L277.9,1026.4L278.7,1026.6L279.5,1026.9L280.2,1027.2L281.0,1027.4L281.7,1027.7L282.5,1027.9L283.2,1028.2L284.0,1028.4L284.7,1028.7L285.5,1028.9L286.2,1029.1L287.0,1029.4L287.8,1029.6L288.5,1029.8L289.3,1030.0L290.0,1030.3L290.8,1030.5L291.5,1030.7L292.3,1030.9L293.0,1031.1L293.8,1031.3L294.5,1031.5L295.3,1031.7L296.1,1031.9L296.8,1032.1L297.6,1032.2L298.3,1032.4L299.1,1032.6L299.8,1032.8L300.6,1033.0L301.3,1033.1L302.1,1033.3L302.9,1033.5L303.6,1033.6L304.4,1033.8L305.1,1034.0L305.9,1034.1L306.6,1034.3L307.4,1034.4L308.1,1034.6L308.9,1034.7L309.6,1034.9L310.4,1035.0L311.2,1035.2L311.9,1035.3L312.7,1035.5L313.4,1035.6L314.2,1035.8L314.9,1035.9L315.7,1036.0L316.4,1036.2L317.2,1036.3L317.9,1036.4L318.7,1036.6L321.9,1037.1L325.1,1037.6L328.3,1038.1L331.6,1038.6L334.8,1039.1L338.0,1039.5L341.2,1039.9L344.4,1040.3L347.6,1040.7L350.8,1041.1L354.0,1041.4L357.3,1041.8L360.5,1042.1L363.7,1042.4L366.9,1042.7L370.1,1043.0L373.3,1043.3L376.5,1043.6L379.7,1043.9L383.0,1044.2L386.2,1044.5L389.4,1044.8L392.6,1045.1L395.8,1045.4L399.0,1045.7L402.2,1046.0L405.4,1046.3L408.7,1046.5L411.9,1046.8L415.1,1047.1L418.3,1047.4L421.5,1047.7L424.7,1048.0L427.9,1048.3L431.1,1048.6L434.4,1048.9L437.6,1049.2L440.8,1049.5L444.0,1049.8L447.2,1050.1L450.4,1050.4L453.6,1050.7L456.8,1051.0L460.1,1051.3L463.3,1051.6L466.5,1051.9L469.7,1052.3L472.9,1052.6L476.1,1052.9L479.3,1053.2L482.5,1053.5L485.8,1053.8L489.0,1054.1L492.2,1054.4L495.4,1054.7L498.6,1055.0L501.8,1055.4L505.0,1055.7L508.2,1056.0L511.5,1056.3L514.7,1056.6L517.9,1056.9L521.1,1057.2L524.3,1057.6L527.5,1057.9L530.7,1058.2L533.9,1058.5L537.2,1058.8L540.4,1059.1L543.6,1059.5L546.8,1059.8L550.0,1060.1L553.2,1060.4L556.4,1060.7L559.6,1061.1L562.9,1061.4L566.1,1061.7L569.3,1062.0L572.5,1062.3L575.7,1062.7L578.9,1063.0L582.1,1063.3L585.3,1063.6L588.6,1064.0L591.8,1064.3L595.0,1064.6L598.2,1064.9L601.4,1065.2L604.6,1065.6L607.8,1065.9L611.0,1066.2L614.3,1066.5L617.5,1066.9L620.7,1067.2L623.9,1067.5L627.1,1067.8L630.3,1068.1L633.5,1068.5L636.7,1068.8L640.0,1069.1L643.2,1069.4L646.4,1069.8L649.6,1070.1L652.8,1070.4L656.0,1070.7L659.2,1071.1L662.4,1071.4L665.7,1071.7L668.9,1072.0L672.1,1072.3L675.3,1072.7L678.5,1073.0L681.7,1073.3L684.9,1073.6L688.1,1074.0L691.4,1074.3L694.6,1074.6L697.8,1074.9L701.0,1075.2L704.2,1075.6L707.4,1075.9L710.6,1076.2L713.8,1076.5L717.1,1076.8L720.3,1077.2L723.5,1077.5L726.7,1077.8L729.9,1078.1L733.1,1078.4L736.3,1078.7L739.5,1079.1L742.8,1079.4L746.0,1079.7L749.2,1080.0L752.4,1080.3L755.6,1080.6L758.8,1080.9L762.0,1081.3L765.2,1081.6L768.5,1081.9L771.7,1082.2L774.9,1082.5L778.1,1082.8L781.3,1083.1L784.5,1083.4L787.7,1083.7L790.9,1084.0L794.2,1084.3L797.4,1084.7L800.6,1085.0L803.8,1085.3L807.0,1085.6L810.2,1085.9L813.4,1086.2L816.6,1086.5L819.9,1086.8L823.1,1087.1L826.3,1087.4L829.5,1087.7L832.7,1088.0L835.9,1088.3L839.1,1088.6L842.3,1088.9L845.6,1089.2L848.8,1089.5L852.0,1089.7L855.2,1090.0L858.4,1090.3L861.6,1090.6L864.8,1090.9L868.0,1091.2L871.3,1091.5L874.5,1091.8L877.7,1092.1L880.9,1092.3L884.1,1092.6L887.3,1092.9L890.5,1093.2L893.7,1093.5L897.0,1093.8L900.2,1094.0L903.4,1094.3L906.6,1094.6L909.8,1094.9L913.0,1095.1L916.2,1095.4L919.4,1095.7L922.7,1095.9L925.9,1096.2L929.1,1096.5L932.3,1096.8L935.5,1097.0L938.7,1097.3L941.9,1097.5L945.1,1097.8L948.4,1098.1L951.6,1098.3L954.8,1098.6L958.0,1098.8" fill="none" stroke="#000" stroke-width="8.2" stroke-linecap="round" stroke-linejoin="round"/>
<g fill="none" stroke="#000" stroke-width="3.2" stroke-linejoin="round"><rect x="168.0" y="3.5" width="792.0" height="265.3" /><rect x="168.0" y="293.7" width="792.0" height="131.90000000000003" /><rect x="168.0" y="425.6" width="792.0" height="132.60000000000002" /><rect x="168.0" y="558.2" width="792.0" height="131.29999999999995" /><rect x="168.0" y="689.5" width="792.0" height="132.60000000000002" /><rect x="168.0" y="848.8" width="792.0" height="264.9000000000001" /></g>
<path d="M168.0,70h20M168.0,186h20M168.0,12h10.5M168.0,128h10.5M168.0,244h10.5M432.0,268.8v-20M696.0,268.8v-20M300.0,268.8v-10M564.0,268.8v-10M828.0,268.8v-10M168.0,329.9h20M168.0,401.8h20M168.0,366h10.5M432.0,425.6v-20M696.0,425.6v-20M300.0,425.6v-10M564.0,425.6v-10M828.0,425.6v-10M168.0,462.4h20M168.0,533.7h20M168.0,498h10.5M432.0,558.2v-20M696.0,558.2v-20M300.0,558.2v-10M564.0,558.2v-10M828.0,558.2v-10M168.0,579.7h20M168.0,668h20M168.0,623.9h10.5M432.0,689.5v-20M696.0,689.5v-20M300.0,689.5v-10M564.0,689.5v-10M828.0,689.5v-10M168.0,723.1h20M168.0,788.7h20M168.0,755.8h10.5M432.0,822.1v-20M696.0,822.1v-20M300.0,822.1v-10M564.0,822.1v-10M828.0,822.1v-10M168.0,924.2h20M168.0,1075.6h20M168.0,1000.4h10.5M432.0,1113.7v-20M696.0,1113.7v-20M300.0,1113.7v-10M564.0,1113.7v-10M828.0,1113.7v-10" stroke="#000" stroke-width="2.8" stroke-linecap="round" fill="none"/>
<defs><filter id="nf0" x="0" y="0" width="969" height="1237" filterUnits="userSpaceOnUse"><feOffset dx="0" dy="0"/></filter></defs>
<g filter="url(#nf0)"><text transform="translate(84.28,80.65) scale(0.9460,1)" font-size="40.15" fill="#000">0.21</text><text transform="translate(84.28,196.65) scale(0.9460,1)" font-size="40.15" fill="#000">0.14</text><text transform="translate(79.23,340.55) scale(0.9790,1)" font-size="40.15" fill="#FF00FF">0.18</text><text transform="translate(79.23,412.45) scale(0.9790,1)" font-size="40.15" fill="#FF00FF">0.12</text><text transform="translate(79.23,473.05) scale(0.9790,1)" font-size="40.15" fill="#8000FF">0.18</text><text transform="translate(79.23,544.35) scale(0.9790,1)" font-size="40.15" fill="#8000FF">0.12</text><text transform="translate(79.23,590.35) scale(0.9790,1)" font-size="40.15" fill="#FF8000">0.15</text><text transform="translate(79.23,678.65) scale(0.9790,1)" font-size="40.15" fill="#FF8000">0.11</text><text transform="translate(79.23,733.75) scale(0.9790,1)" font-size="40.15" fill="#808000">0.13</text><text transform="translate(79.23,799.35) scale(0.9790,1)" font-size="40.15" fill="#808000">0.11</text><text transform="translate(83.98,934.85) scale(0.9460,1)" font-size="40.15" fill="#000">0.13</text><text transform="translate(83.98,1086.25) scale(0.9460,1)" font-size="40.15" fill="#000">0.11</text></g>
<path d="M526.2,92.3H567.9" stroke="#000" stroke-width="8.3" stroke-linecap="round"/><path d="M358.5,345.8H395.2" stroke="#000" stroke-width="4.2" stroke-linecap="round"/><path d="M562.6,968.2H604.3" stroke="#000" stroke-width="8.4" stroke-linecap="round"/>
<defs><filter id="nf" x="0" y="0" width="969" height="1237" filterUnits="userSpaceOnUse"><feOffset dx="0" dy="0"/></filter></defs>
<g filter="url(#nf)"><text transform="translate(899.20,53.35) scale(0.9956,1)" font-size="37.91" fill="#000">(a)</text><text transform="translate(904.60,337.27) scale(1.0043,1)" font-size="35.49" fill="#000">(b)</text><text transform="translate(910.82,382.56) scale(1.0108,1)" font-size="30.44" fill="#000">(I)</text><text transform="translate(903.82,475.36) scale(0.9936,1)" font-size="30.88" fill="#000">(II)</text><text transform="translate(891.83,611.70) scale(1.0064,1)" font-size="30.22" fill="#000">(III)</text><text transform="translate(891.82,741.60) scale(1.0120,1)" font-size="30.22" fill="#000">(IV)</text><text transform="translate(898.08,893.50) scale(1.0027,1)" font-size="38.13" fill="#000">(c)</text><text transform="translate(249.49,346.64) scale(0.9808,1)" font-size="36.00" fill="#000">40 K</text><text transform="translate(244.20,479.15) scale(1.0229,1)" font-size="35.11" fill="#000">30 K</text><text transform="translate(292.87,604.05) scale(1.0249,1)" font-size="35.26" fill="#000">20 K</text><text transform="translate(294.45,726.69) scale(1.0351,1)" font-size="33.78" fill="#000">12.5 K</text><text transform="translate(367.04,64.15) rotate(24.40) scale(1.0216,1)" font-size="33.00" fill="#000">190 K</text><text transform="translate(362.10,138.87) rotate(19.60) scale(1.0077,1)" font-size="34.00" fill="#000">110 K</text><text transform="translate(328.35,171.26) rotate(29.30) scale(0.9483,1)" font-size="34.50" fill="#000">70 K</text><text transform="translate(308.61,924.23) rotate(17.50) skewX(-8.00) scale(1.0515,1)" font-size="33.00" fill="#000">2 K</text><text transform="translate(260.93,989.34) rotate(18.40) skewX(-4.00) scale(1.0208,1)" font-size="31.50" fill="#000">6 K</text><text transform="translate(157.28,1165.58)" font-size="42.07" fill="#000">0</text><text transform="translate(420.46,1166.00)" font-size="43.03" fill="#000">2</text><text transform="translate(684.13,1166.00)" font-size="43.03" fill="#000">4</text><text transform="translate(948.09,1165.58)" font-size="42.39" fill="#000">6</text><text transform="translate(495.46,1226.00) scale(0.9400,1)" font-size="57.00" fill="#000">t (μs)</text><text transform="translate(33.00,777.49) rotate(-90) scale(1.0059,1)" font-size="48.48">Asymmetry (arb. unit.)</text><text transform="translate(577.24,99.00) scale(0.9200,1)" font-size="39.55" fill="#000">A</text><text transform="translate(615.34,99.00) scale(0.9200,1)" font-size="39.55" fill="#000">e</text><text transform="translate(662.68,99.00) scale(0.9200,1)" font-size="39.55" fill="#000">+</text><text transform="translate(685.74,99.00) scale(0.9200,1)" font-size="39.55" fill="#000">A</text><text transform="translate(722.74,99.00) scale(0.9200,1)" font-size="39.55" fill="#000">e</text><text transform="translate(771.34,99.00) scale(0.9200,1)" font-size="39.55" fill="#000">G</text><text transform="translate(807.96,99.00) scale(0.9200,1)" font-size="39.55" fill="#000">(σ,t)</text><text transform="translate(604.04,113.47) scale(0.9200,1)" font-size="23.26" fill="#000">0</text><text transform="translate(711.97,113.47) scale(0.9200,1)" font-size="23.26" fill="#000">1</text><text transform="translate(797.97,113.47) scale(0.9200,1)" font-size="23.26" fill="#000">z</text><text transform="translate(632.11,78.20) scale(0.9200,1)" font-size="21.56" fill="#000">-</text><text transform="translate(639.00,78.20) scale(0.9200,1)" font-size="21.56" fill="#000">λ</text><text transform="translate(657.80,78.20) scale(0.9200,1)" font-size="21.56" fill="#000">t</text><text transform="translate(739.81,78.20) scale(0.9200,1)" font-size="21.56" fill="#000">-</text><text transform="translate(745.90,78.20) scale(0.9200,1)" font-size="21.56" fill="#000">λ</text><text transform="translate(764.40,78.20) scale(0.9200,1)" font-size="21.56" fill="#000">t</text><text transform="translate(650.87,86.76) scale(0.9200,1)" font-size="14.37" fill="#000">0</text><text transform="translate(758.61,86.76) scale(0.9200,1)" font-size="14.37" fill="#000">1</text><text transform="translate(404.27,351.70) scale(1.0400,1)" font-size="31.82" fill="#000">A</text><text transform="translate(436.98,351.70) scale(1.0400,1)" font-size="31.82" fill="#000">e</text><text transform="translate(476.75,351.70) scale(1.0400,1)" font-size="31.82" fill="#000">+</text><text transform="translate(497.07,351.70) scale(1.0400,1)" font-size="31.82" fill="#000">A</text><text transform="translate(528.28,351.70) scale(1.0400,1)" font-size="31.82" fill="#000">e</text><text transform="translate(570.08,351.70) scale(1.0400,1)" font-size="31.82" fill="#000">G</text><text transform="translate(601.21,351.70) scale(1.0400,1)" font-size="31.82" fill="#000">(σ,t)</text><text transform="translate(658.55,351.70) scale(1.0400,1)" font-size="31.82" fill="#000">+</text><text transform="translate(678.07,351.70) scale(1.0400,1)" font-size="31.82" fill="#000">A</text><text transform="translate(710.68,351.70) scale(1.0400,1)" font-size="31.82" fill="#000">e</text><text transform="translate(751.58,351.70) scale(1.0400,1)" font-size="31.82" fill="#000">cos(ωt+φ)</text><text transform="translate(426.89,364.40) scale(1.0400,1)" font-size="19.56" fill="#000">0</text><text transform="translate(519.57,364.40) scale(1.0400,1)" font-size="19.56" fill="#000">1</text><text transform="translate(593.99,364.40) scale(1.0400,1)" font-size="19.56" fill="#000">z</text><text transform="translate(701.28,364.40) scale(1.0400,1)" font-size="19.56" fill="#000">2</text><text transform="translate(451.81,333.80) scale(1.0400,1)" font-size="18.87" fill="#000">-</text><text transform="translate(456.51,333.80) scale(1.0400,1)" font-size="18.87" fill="#000">λ</text><text transform="translate(473.30,333.80) scale(1.0400,1)" font-size="18.87" fill="#000">t</text><text transform="translate(544.31,333.80) scale(1.0400,1)" font-size="18.87" fill="#000">-</text><text transform="translate(549.41,333.80) scale(1.0400,1)" font-size="18.87" fill="#000">λ</text><text transform="translate(565.40,333.80) scale(1.0400,1)" font-size="18.87" fill="#000">t</text><text transform="translate(726.11,333.80) scale(1.0400,1)" font-size="18.87" fill="#000">-</text><text transform="translate(731.91,333.80) scale(1.0400,1)" font-size="18.87" fill="#000">λ</text><text transform="translate(745.80,333.80) scale(1.0400,1)" font-size="18.87" fill="#000">t</text><text transform="translate(466.87,341.67) scale(1.0400,1)" font-size="12.74" fill="#000">0</text><text transform="translate(559.41,341.67) scale(1.0400,1)" font-size="12.74" fill="#000">1</text><text transform="translate(739.80,341.67) scale(1.0400,1)" font-size="12.74" fill="#000">2</text><text transform="translate(613.64,975.00) scale(0.9200,1)" font-size="39.09" fill="#000">A</text><text transform="translate(651.46,975.00) scale(0.9200,1)" font-size="39.09" fill="#000">e</text><text transform="translate(699.00,975.00) scale(0.9200,1)" font-size="39.09" fill="#000">+</text><text transform="translate(721.04,975.00) scale(0.9200,1)" font-size="39.09" fill="#000">A</text><text transform="translate(758.96,975.00) scale(0.9200,1)" font-size="39.09" fill="#000">e</text><text transform="translate(640.03,989.26) scale(0.9200,1)" font-size="23.56" fill="#000">0</text><text transform="translate(748.65,989.26) scale(0.9200,1)" font-size="23.56" fill="#000">1</text><text transform="translate(668.30,953.80) scale(0.9200,1)" font-size="21.70" fill="#000">-</text><text transform="translate(675.30,953.80) scale(0.9200,1)" font-size="21.70" fill="#000">λ</text><text transform="translate(694.40,953.80) scale(0.9200,1)" font-size="21.70" fill="#000">t</text><text transform="translate(775.50,953.80) scale(0.9200,1)" font-size="21.70" fill="#000">-</text><text transform="translate(781.00,953.80) scale(0.9200,1)" font-size="21.70" fill="#000">λ</text><text transform="translate(800.60,953.80) scale(0.9200,1)" font-size="21.70" fill="#000">t</text><text transform="translate(686.87,962.75) scale(0.9200,1)" font-size="14.52" fill="#000">0</text><text transform="translate(792.60,962.75) scale(0.9200,1)" font-size="14.52" fill="#000">1</text></g>
</svg></body></html>
